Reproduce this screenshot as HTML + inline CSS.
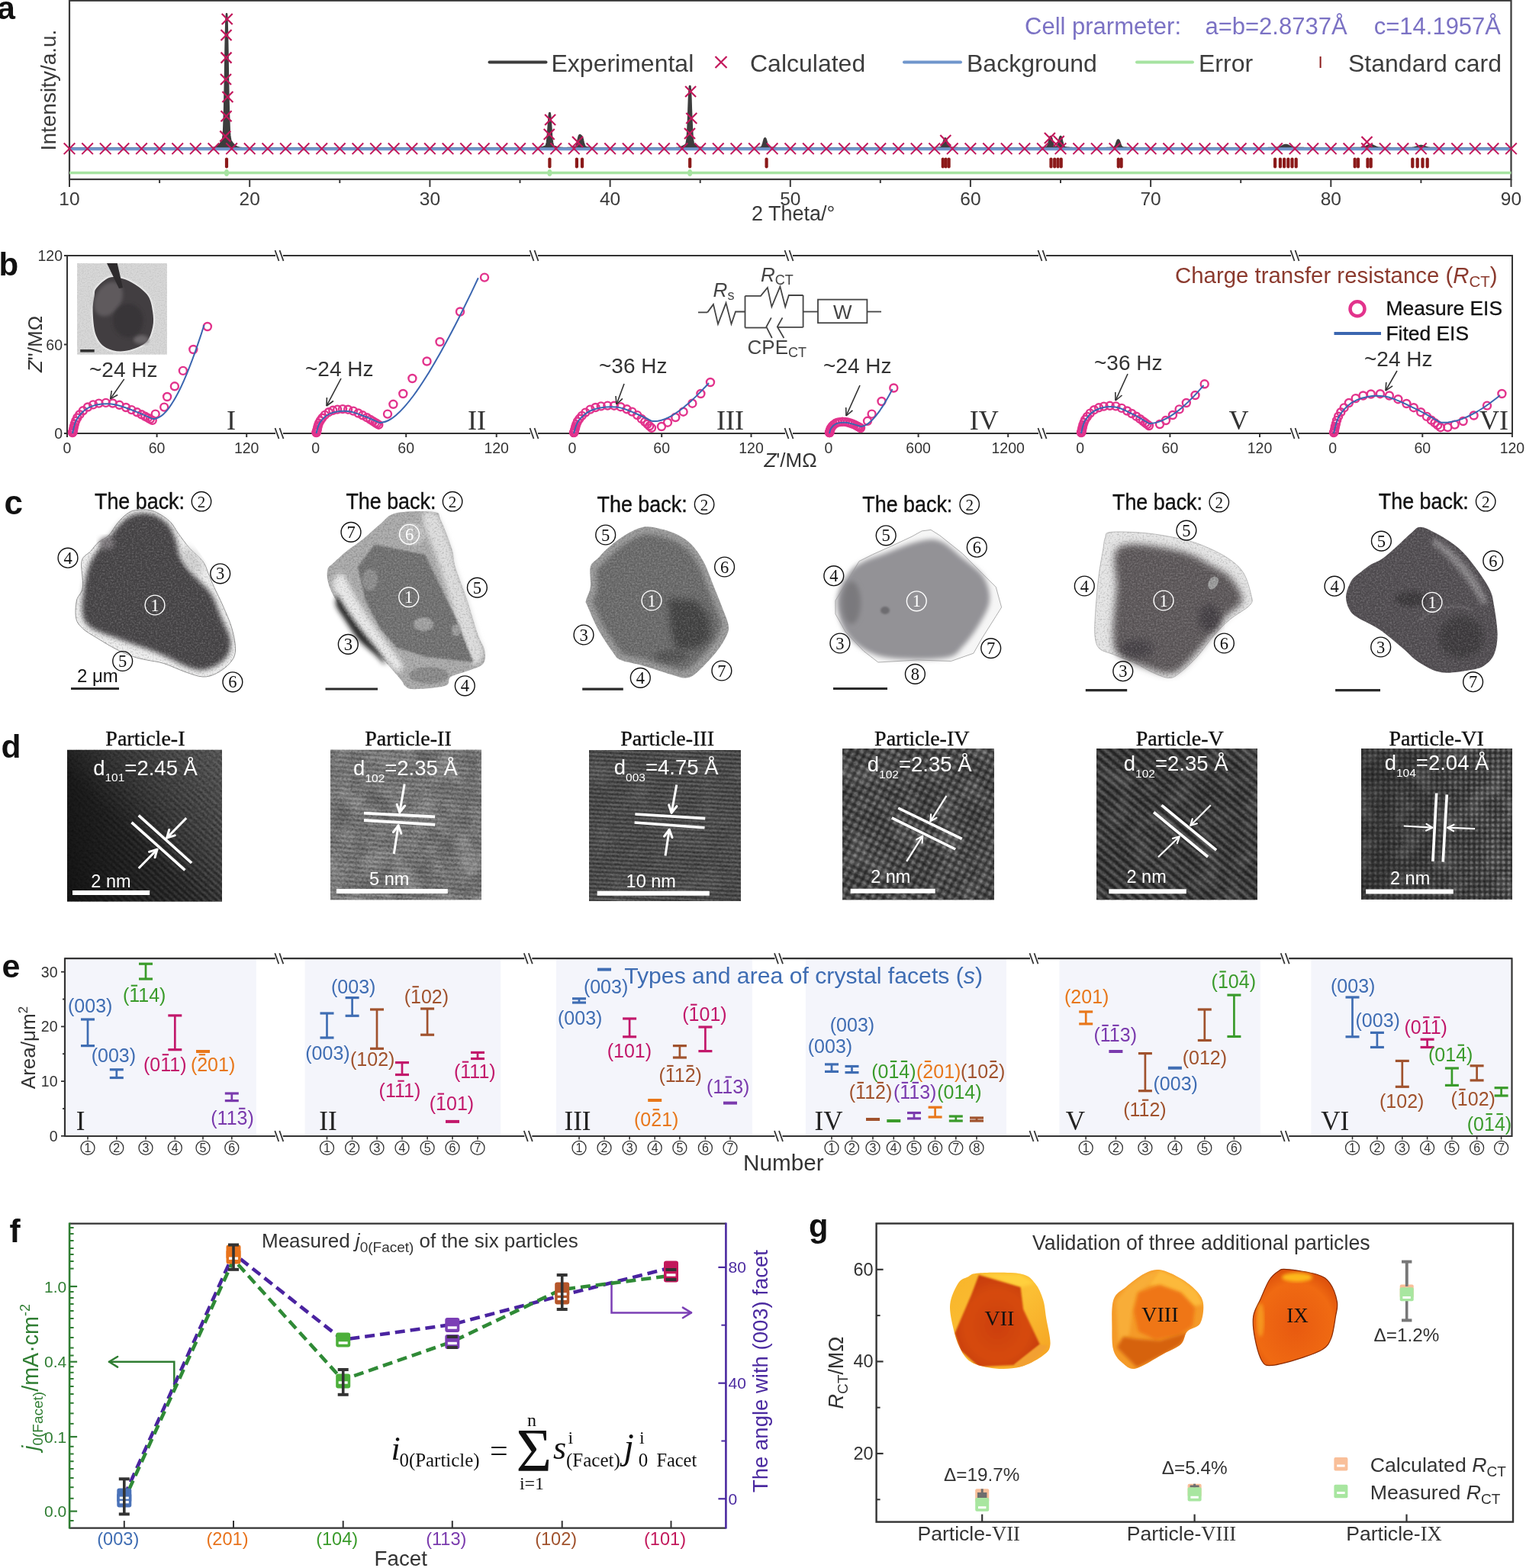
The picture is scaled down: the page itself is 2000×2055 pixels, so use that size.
<!DOCTYPE html>
<html><head><meta charset="utf-8"><title>figure</title>
<style>html,body{margin:0;padding:0;background:#fff}svg{display:block}</style></head>
<body><svg width="2000" height="2055" viewBox="0 0 2000 2055">
<rect width="2000" height="2055" fill="#fff"/>
<text x="-4" y="25" font-family='"Liberation Sans",Arial,sans-serif' font-size="43" fill="#111" font-weight="bold" >a</text>
<rect x="91" y="0.8" width="1889.5" height="234.2" fill="none" stroke="#3a3a3a" stroke-width="2.2" />
<line x1="91" y1="235" x2="91" y2="245" stroke="#3a3a3a" stroke-width="2" />
<line x1="209.1" y1="235" x2="209.1" y2="240" stroke="#3a3a3a" stroke-width="2" />
<line x1="327.2" y1="235" x2="327.2" y2="245" stroke="#3a3a3a" stroke-width="2" />
<line x1="445.3" y1="235" x2="445.3" y2="240" stroke="#3a3a3a" stroke-width="2" />
<line x1="563.4" y1="235" x2="563.4" y2="245" stroke="#3a3a3a" stroke-width="2" />
<line x1="681.5" y1="235" x2="681.5" y2="240" stroke="#3a3a3a" stroke-width="2" />
<line x1="799.6" y1="235" x2="799.6" y2="245" stroke="#3a3a3a" stroke-width="2" />
<line x1="917.7" y1="235" x2="917.7" y2="240" stroke="#3a3a3a" stroke-width="2" />
<line x1="1035.8" y1="235" x2="1035.8" y2="245" stroke="#3a3a3a" stroke-width="2" />
<line x1="1153.8" y1="235" x2="1153.8" y2="240" stroke="#3a3a3a" stroke-width="2" />
<line x1="1271.9" y1="235" x2="1271.9" y2="245" stroke="#3a3a3a" stroke-width="2" />
<line x1="1390" y1="235" x2="1390" y2="240" stroke="#3a3a3a" stroke-width="2" />
<line x1="1508.1" y1="235" x2="1508.1" y2="245" stroke="#3a3a3a" stroke-width="2" />
<line x1="1626.2" y1="235" x2="1626.2" y2="240" stroke="#3a3a3a" stroke-width="2" />
<line x1="1744.3" y1="235" x2="1744.3" y2="245" stroke="#3a3a3a" stroke-width="2" />
<line x1="1862.4" y1="235" x2="1862.4" y2="240" stroke="#3a3a3a" stroke-width="2" />
<line x1="1980.5" y1="235" x2="1980.5" y2="245" stroke="#3a3a3a" stroke-width="2" />
<text x="91" y="269" font-family='"Liberation Sans",Arial,sans-serif' font-size="24.5" fill="#3a3a3a" text-anchor="middle" >10</text>
<text x="327.2" y="269" font-family='"Liberation Sans",Arial,sans-serif' font-size="24.5" fill="#3a3a3a" text-anchor="middle" >20</text>
<text x="563.4" y="269" font-family='"Liberation Sans",Arial,sans-serif' font-size="24.5" fill="#3a3a3a" text-anchor="middle" >30</text>
<text x="799.6" y="269" font-family='"Liberation Sans",Arial,sans-serif' font-size="24.5" fill="#3a3a3a" text-anchor="middle" >40</text>
<text x="1035.8" y="269" font-family='"Liberation Sans",Arial,sans-serif' font-size="24.5" fill="#3a3a3a" text-anchor="middle" >50</text>
<text x="1271.9" y="269" font-family='"Liberation Sans",Arial,sans-serif' font-size="24.5" fill="#3a3a3a" text-anchor="middle" >60</text>
<text x="1508.1" y="269" font-family='"Liberation Sans",Arial,sans-serif' font-size="24.5" fill="#3a3a3a" text-anchor="middle" >70</text>
<text x="1744.3" y="269" font-family='"Liberation Sans",Arial,sans-serif' font-size="24.5" fill="#3a3a3a" text-anchor="middle" >80</text>
<text x="1980.5" y="269" font-family='"Liberation Sans",Arial,sans-serif' font-size="24.5" fill="#3a3a3a" text-anchor="middle" >90</text>
<text x="985" y="289" font-family='"Liberation Sans",Arial,sans-serif' font-size="27" fill="#3a3a3a" >2 Theta/°</text>
<text x="0" y="0" font-family='"Liberation Sans",Arial,sans-serif' font-size="28" fill="#3a3a3a" text-anchor="middle" transform="translate(72.5,118) rotate(-90)">Intensity/a.u.</text>
<polygon points="91,194.3 91.5,194.3 91.9,194.3 92.4,194.3 92.9,194.3 93.4,194.3 93.8,194.3 94.3,194.3 94.8,194.3 95.3,194.3 95.7,194.3 96.2,194.3 96.7,194.3 97.1,194.3 97.6,194.3 98.1,194.3 98.6,194.3 99,194.3 99.5,194.3 100,194.3 100.4,194.3 100.9,194.3 101.4,194.3 101.9,194.3 102.3,194.3 102.8,194.3 103.3,194.3 103.8,194.3 104.2,194.3 104.7,194.3 105.2,194.3 105.6,194.3 106.1,194.3 106.6,194.3 107.1,194.3 107.5,194.3 108,194.3 108.5,194.3 109,194.3 109.4,194.3 109.9,194.3 110.4,194.3 110.8,194.3 111.3,194.3 111.8,194.3 112.3,194.3 112.7,194.3 113.2,194.3 113.7,194.3 114.1,194.3 114.6,194.3 115.1,194.3 115.6,194.3 116,194.3 116.5,194.3 117,194.3 117.5,194.3 117.9,194.3 118.4,194.3 118.9,194.3 119.3,194.3 119.8,194.3 120.3,194.3 120.8,194.3 121.2,194.3 121.7,194.3 122.2,194.3 122.6,194.3 123.1,194.3 123.6,194.3 124.1,194.3 124.5,194.3 125,194.3 125.5,194.3 126,194.3 126.4,194.3 126.9,194.3 127.4,194.3 127.8,194.3 128.3,194.3 128.8,194.3 129.3,194.3 129.7,194.3 130.2,194.3 130.7,194.3 131.2,194.3 131.6,194.3 132.1,194.3 132.6,194.3 133,194.3 133.5,194.3 134,194.3 134.5,194.3 134.9,194.3 135.4,194.3 135.9,194.3 136.3,194.3 136.8,194.3 137.3,194.3 137.8,194.3 138.2,194.3 138.7,194.3 139.2,194.3 139.7,194.3 140.1,194.3 140.6,194.3 141.1,194.3 141.5,194.3 142,194.3 142.5,194.3 143,194.3 143.4,194.3 143.9,194.3 144.4,194.3 144.9,194.3 145.3,194.3 145.8,194.3 146.3,194.3 146.7,194.3 147.2,194.3 147.7,194.3 148.2,194.3 148.6,194.3 149.1,194.3 149.6,194.3 150,194.3 150.5,194.3 151,194.3 151.5,194.3 151.9,194.3 152.4,194.3 152.9,194.3 153.4,194.3 153.8,194.3 154.3,194.3 154.8,194.3 155.2,194.3 155.7,194.3 156.2,194.3 156.7,194.3 157.1,194.3 157.6,194.3 158.1,194.3 158.5,194.3 159,194.3 159.5,194.3 160,194.3 160.4,194.3 160.9,194.3 161.4,194.3 161.9,194.3 162.3,194.3 162.8,194.3 163.3,194.3 163.7,194.3 164.2,194.3 164.7,194.3 165.2,194.3 165.6,194.3 166.1,194.3 166.6,194.3 167.1,194.3 167.5,194.3 168,194.3 168.5,194.3 168.9,194.3 169.4,194.3 169.9,194.3 170.4,194.3 170.8,194.3 171.3,194.3 171.8,194.3 172.2,194.3 172.7,194.3 173.2,194.3 173.7,194.3 174.1,194.3 174.6,194.3 175.1,194.3 175.6,194.3 176,194.3 176.5,194.3 177,194.3 177.4,194.3 177.9,194.3 178.4,194.3 178.9,194.3 179.3,194.3 179.8,194.3 180.3,194.3 180.8,194.3 181.2,194.3 181.7,194.3 182.2,194.3 182.6,194.3 183.1,194.3 183.6,194.3 184.1,194.3 184.5,194.3 185,194.3 185.5,194.3 185.9,194.3 186.4,194.3 186.9,194.3 187.4,194.3 187.8,194.3 188.3,194.3 188.8,194.3 189.3,194.3 189.7,194.3 190.2,194.3 190.7,194.3 191.1,194.3 191.6,194.3 192.1,194.3 192.6,194.3 193,194.3 193.5,194.3 194,194.3 194.5,194.3 194.9,194.3 195.4,194.3 195.9,194.3 196.3,194.3 196.8,194.3 197.3,194.3 197.8,194.3 198.2,194.3 198.7,194.3 199.2,194.3 199.6,194.3 200.1,194.3 200.6,194.3 201.1,194.3 201.5,194.3 202,194.3 202.5,194.3 203,194.3 203.4,194.3 203.9,194.3 204.4,194.3 204.8,194.3 205.3,194.3 205.8,194.3 206.3,194.3 206.7,194.3 207.2,194.3 207.7,194.3 208.1,194.3 208.6,194.3 209.1,194.3 209.6,194.3 210,194.3 210.5,194.3 211,194.3 211.5,194.3 211.9,194.3 212.4,194.3 212.9,194.3 213.3,194.3 213.8,194.3 214.3,194.3 214.8,194.3 215.2,194.3 215.7,194.3 216.2,194.3 216.7,194.3 217.1,194.3 217.6,194.3 218.1,194.3 218.5,194.3 219,194.3 219.5,194.3 220,194.3 220.4,194.3 220.9,194.3 221.4,194.3 221.8,194.3 222.3,194.3 222.8,194.3 223.3,194.3 223.7,194.3 224.2,194.3 224.7,194.3 225.2,194.3 225.6,194.3 226.1,194.3 226.6,194.3 227,194.3 227.5,194.3 228,194.3 228.5,194.3 228.9,194.3 229.4,194.3 229.9,194.3 230.4,194.3 230.8,194.3 231.3,194.3 231.8,194.3 232.2,194.3 232.7,194.3 233.2,194.3 233.7,194.3 234.1,194.3 234.6,194.3 235.1,194.3 235.5,194.3 236,194.3 236.5,194.3 237,194.3 237.4,194.3 237.9,194.3 238.4,194.3 238.9,194.3 239.3,194.3 239.8,194.3 240.3,194.3 240.7,194.3 241.2,194.3 241.7,194.3 242.2,194.3 242.6,194.3 243.1,194.3 243.6,194.3 244,194.3 244.5,194.3 245,194.3 245.5,194.3 245.9,194.3 246.4,194.3 246.9,194.3 247.4,194.3 247.8,194.3 248.3,194.3 248.8,194.3 249.2,194.3 249.7,194.3 250.2,194.3 250.7,194.3 251.1,194.3 251.6,194.3 252.1,194.3 252.6,194.3 253,194.3 253.5,194.3 254,194.3 254.4,194.3 254.9,194.3 255.4,194.3 255.9,194.3 256.3,194.3 256.8,194.3 257.3,194.3 257.7,194.3 258.2,194.3 258.7,194.3 259.2,194.3 259.6,194.3 260.1,194.3 260.6,194.3 261.1,194.3 261.5,194.3 262,194.3 262.5,194.3 262.9,194.3 263.4,194.3 263.9,194.3 264.4,194.3 264.8,194.3 265.3,194.3 265.8,194.3 266.3,194.3 266.7,194.3 267.2,194.3 267.7,194.3 268.1,194.3 268.6,194.3 269.1,194.3 269.6,194.3 270,194.3 270.5,194.3 271,194.3 271.4,194.3 271.9,194.3 272.4,194.3 272.9,194.3 273.3,194.3 273.8,194.3 274.3,194.3 274.8,194.3 275.2,194.2 275.7,194.2 276.2,194.2 276.6,194.2 277.1,194.2 277.6,194.1 278.1,194.1 278.5,194 279,194 279.5,193.9 279.9,193.8 280.4,193.7 280.9,193.6 281.4,193.5 281.8,193.3 282.3,193.2 282.8,193 283.3,192.8 283.7,192.5 284.2,192.3 284.7,192 285.1,191.7 285.6,191.3 286.1,190.9 286.6,190.5 287,190.1 287.5,189.6 288,189.1 288.5,188.6 288.9,188.1 289.4,187.5 289.9,186.9 290.3,186.3 290.8,185.7 291.3,184.8 291.8,183.6 292.2,181.4 292.7,177.7 293.2,171.3 293.6,160.7 294.1,144.9 294.6,123.3 295.1,96.9 295.5,68.7 296,42.9 296.5,24.8 297,18.3 297.4,24.8 297.9,42.9 298.4,68.7 298.8,96.9 299.3,123.3 299.8,144.9 300.3,160.7 300.7,171.3 301.2,177.7 301.7,181.4 302.2,183.6 302.6,184.8 303.1,185.7 303.6,186.3 304,186.9 304.5,187.5 305,188.1 305.5,188.6 305.9,189.1 306.4,189.6 306.9,190.1 307.3,190.5 307.8,190.9 308.3,191.3 308.8,191.7 309.2,192 309.7,192.3 310.2,192.5 310.7,192.8 311.1,193 311.6,193.2 312.1,193.3 312.5,193.5 313,193.6 313.5,193.7 314,193.8 314.4,193.9 314.9,194 315.4,194 315.9,194.1 316.3,194.1 316.8,194.2 317.3,194.2 317.7,194.2 318.2,194.2 318.7,194.2 319.2,194.3 319.6,194.3 320.1,194.3 320.6,194.3 321,194.3 321.5,194.3 322,194.3 322.5,194.3 322.9,194.3 323.4,194.3 323.9,194.3 324.4,194.3 324.8,194.3 325.3,194.3 325.8,194.3 326.2,194.3 326.7,194.3 327.2,194.3 327.7,194.3 328.1,194.3 328.6,194.3 329.1,194.3 329.5,194.3 330,194.3 330.5,194.3 331,194.3 331.4,194.3 331.9,194.3 332.4,194.3 332.9,194.3 333.3,194.3 333.8,194.3 334.3,194.3 334.7,194.3 335.2,194.3 335.7,194.3 336.2,194.3 336.6,194.3 337.1,194.3 337.6,194.3 338.1,194.3 338.5,194.3 339,194.3 339.5,194.3 339.9,194.3 340.4,194.3 340.9,194.3 341.4,194.3 341.8,194.3 342.3,194.3 342.8,194.3 343.2,194.3 343.7,194.3 344.2,194.3 344.7,194.3 345.1,194.3 345.6,194.3 346.1,194.3 346.6,194.3 347,194.3 347.5,194.3 348,194.3 348.4,194.3 348.9,194.3 349.4,194.3 349.9,194.3 350.3,194.3 350.8,194.3 351.3,194.3 351.8,194.3 352.2,194.3 352.7,194.3 353.2,194.3 353.6,194.3 354.1,194.3 354.6,194.3 355.1,194.3 355.5,194.3 356,194.3 356.5,194.3 356.9,194.3 357.4,194.3 357.9,194.3 358.4,194.3 358.8,194.3 359.3,194.3 359.8,194.3 360.3,194.3 360.7,194.3 361.2,194.3 361.7,194.3 362.1,194.3 362.6,194.3 363.1,194.3 363.6,194.3 364,194.3 364.5,194.3 365,194.3 365.4,194.3 365.9,194.3 366.4,194.3 366.9,194.3 367.3,194.3 367.8,194.3 368.3,194.3 368.8,194.3 369.2,194.3 369.7,194.3 370.2,194.3 370.6,194.3 371.1,194.3 371.6,194.3 372.1,194.3 372.5,194.3 373,194.3 373.5,194.3 374,194.3 374.4,194.3 374.9,194.3 375.4,194.3 375.8,194.3 376.3,194.3 376.8,194.3 377.3,194.3 377.7,194.3 378.2,194.3 378.7,194.3 379.1,194.3 379.6,194.3 380.1,194.3 380.6,194.3 381,194.3 381.5,194.3 382,194.3 382.5,194.3 382.9,194.3 383.4,194.3 383.9,194.3 384.3,194.3 384.8,194.3 385.3,194.3 385.8,194.3 386.2,194.3 386.7,194.3 387.2,194.3 387.7,194.3 388.1,194.3 388.6,194.3 389.1,194.3 389.5,194.3 390,194.3 390.5,194.3 391,194.3 391.4,194.3 391.9,194.3 392.4,194.3 392.8,194.3 393.3,194.3 393.8,194.3 394.3,194.3 394.7,194.3 395.2,194.3 395.7,194.3 396.2,194.3 396.6,194.3 397.1,194.3 397.6,194.3 398,194.3 398.5,194.3 399,194.3 399.5,194.3 399.9,194.3 400.4,194.3 400.9,194.3 401.4,194.3 401.8,194.3 402.3,194.3 402.8,194.3 403.2,194.3 403.7,194.3 404.2,194.3 404.7,194.3 405.1,194.3 405.6,194.3 406.1,194.3 406.5,194.3 407,194.3 407.5,194.3 408,194.3 408.4,194.3 408.9,194.3 409.4,194.3 409.9,194.3 410.3,194.3 410.8,194.3 411.3,194.3 411.7,194.3 412.2,194.3 412.7,194.3 413.2,194.3 413.6,194.3 414.1,194.3 414.6,194.3 415,194.3 415.5,194.3 416,194.3 416.5,194.3 416.9,194.3 417.4,194.3 417.9,194.3 418.4,194.3 418.8,194.3 419.3,194.3 419.8,194.3 420.2,194.3 420.7,194.3 421.2,194.3 421.7,194.3 422.1,194.3 422.6,194.3 423.1,194.3 423.6,194.3 424,194.3 424.5,194.3 425,194.3 425.4,194.3 425.9,194.3 426.4,194.3 426.9,194.3 427.3,194.3 427.8,194.3 428.3,194.3 428.7,194.3 429.2,194.3 429.7,194.3 430.2,194.3 430.6,194.3 431.1,194.3 431.6,194.3 432.1,194.3 432.5,194.3 433,194.3 433.5,194.3 433.9,194.3 434.4,194.3 434.9,194.3 435.4,194.3 435.8,194.3 436.3,194.3 436.8,194.3 437.3,194.3 437.7,194.3 438.2,194.3 438.7,194.3 439.1,194.3 439.6,194.3 440.1,194.3 440.6,194.3 441,194.3 441.5,194.3 442,194.3 442.4,194.3 442.9,194.3 443.4,194.3 443.9,194.3 444.3,194.3 444.8,194.3 445.3,194.3 445.8,194.3 446.2,194.3 446.7,194.3 447.2,194.3 447.6,194.3 448.1,194.3 448.6,194.3 449.1,194.3 449.5,194.3 450,194.3 450.5,194.3 450.9,194.3 451.4,194.3 451.9,194.3 452.4,194.3 452.8,194.3 453.3,194.3 453.8,194.3 454.3,194.3 454.7,194.3 455.2,194.3 455.7,194.3 456.1,194.3 456.6,194.3 457.1,194.3 457.6,194.3 458,194.3 458.5,194.3 459,194.3 459.5,194.3 459.9,194.3 460.4,194.3 460.9,194.3 461.3,194.3 461.8,194.3 462.3,194.3 462.8,194.3 463.2,194.3 463.7,194.3 464.2,194.3 464.6,194.3 465.1,194.3 465.6,194.3 466.1,194.3 466.5,194.3 467,194.3 467.5,194.3 468,194.3 468.4,194.3 468.9,194.3 469.4,194.3 469.8,194.3 470.3,194.3 470.8,194.3 471.3,194.3 471.7,194.3 472.2,194.3 472.7,194.3 473.2,194.3 473.6,194.3 474.1,194.3 474.6,194.3 475,194.3 475.5,194.3 476,194.3 476.5,194.3 476.9,194.3 477.4,194.3 477.9,194.3 478.3,194.3 478.8,194.3 479.3,194.3 479.8,194.3 480.2,194.3 480.7,194.3 481.2,194.3 481.7,194.3 482.1,194.3 482.6,194.3 483.1,194.3 483.5,194.3 484,194.3 484.5,194.3 485,194.3 485.4,194.3 485.9,194.3 486.4,194.3 486.9,194.3 487.3,194.3 487.8,194.3 488.3,194.3 488.7,194.3 489.2,194.3 489.7,194.3 490.2,194.3 490.6,194.3 491.1,194.3 491.6,194.3 492,194.3 492.5,194.3 493,194.3 493.5,194.3 493.9,194.3 494.4,194.3 494.9,194.3 495.4,194.3 495.8,194.3 496.3,194.3 496.8,194.3 497.2,194.3 497.7,194.3 498.2,194.3 498.7,194.3 499.1,194.3 499.6,194.3 500.1,194.3 500.5,194.3 501,194.3 501.5,194.3 502,194.3 502.4,194.3 502.9,194.3 503.4,194.3 503.9,194.3 504.3,194.3 504.8,194.3 505.3,194.3 505.7,194.3 506.2,194.3 506.7,194.3 507.2,194.3 507.6,194.3 508.1,194.3 508.6,194.3 509.1,194.3 509.5,194.3 510,194.3 510.5,194.3 510.9,194.3 511.4,194.3 511.9,194.3 512.4,194.3 512.8,194.3 513.3,194.3 513.8,194.3 514.2,194.3 514.7,194.3 515.2,194.3 515.7,194.3 516.1,194.3 516.6,194.3 517.1,194.3 517.6,194.3 518,194.3 518.5,194.3 519,194.3 519.4,194.3 519.9,194.3 520.4,194.3 520.9,194.3 521.3,194.3 521.8,194.3 522.3,194.3 522.8,194.3 523.2,194.3 523.7,194.3 524.2,194.3 524.6,194.3 525.1,194.3 525.6,194.3 526.1,194.3 526.5,194.3 527,194.3 527.5,194.3 527.9,194.3 528.4,194.3 528.9,194.3 529.4,194.3 529.8,194.3 530.3,194.3 530.8,194.3 531.3,194.3 531.7,194.3 532.2,194.3 532.7,194.3 533.1,194.3 533.6,194.3 534.1,194.3 534.6,194.3 535,194.3 535.5,194.3 536,194.3 536.4,194.3 536.9,194.3 537.4,194.3 537.9,194.3 538.3,194.3 538.8,194.3 539.3,194.3 539.8,194.3 540.2,194.3 540.7,194.3 541.2,194.3 541.6,194.3 542.1,194.3 542.6,194.3 543.1,194.3 543.5,194.3 544,194.3 544.5,194.3 545,194.3 545.4,194.3 545.9,194.3 546.4,194.3 546.8,194.3 547.3,194.3 547.8,194.3 548.3,194.3 548.7,194.3 549.2,194.3 549.7,194.3 550.1,194.3 550.6,194.3 551.1,194.3 551.6,194.3 552,194.3 552.5,194.3 553,194.3 553.5,194.3 553.9,194.3 554.4,194.3 554.9,194.3 555.3,194.3 555.8,194.3 556.3,194.3 556.8,194.3 557.2,194.3 557.7,194.3 558.2,194.3 558.7,194.3 559.1,194.3 559.6,194.3 560.1,194.3 560.5,194.3 561,194.3 561.5,194.3 562,194.3 562.4,194.3 562.9,194.3 563.4,194.3 563.8,194.3 564.3,194.3 564.8,194.3 565.3,194.3 565.7,194.3 566.2,194.3 566.7,194.3 567.2,194.3 567.6,194.3 568.1,194.3 568.6,194.3 569,194.3 569.5,194.3 570,194.3 570.5,194.3 570.9,194.3 571.4,194.3 571.9,194.3 572.4,194.3 572.8,194.3 573.3,194.3 573.8,194.3 574.2,194.3 574.7,194.3 575.2,194.3 575.7,194.3 576.1,194.3 576.6,194.3 577.1,194.3 577.5,194.3 578,194.3 578.5,194.3 579,194.3 579.4,194.3 579.9,194.3 580.4,194.3 580.9,194.3 581.3,194.3 581.8,194.3 582.3,194.3 582.7,194.3 583.2,194.3 583.7,194.3 584.2,194.3 584.6,194.3 585.1,194.3 585.6,194.3 586,194.3 586.5,194.3 587,194.3 587.5,194.3 587.9,194.3 588.4,194.3 588.9,194.3 589.4,194.3 589.8,194.3 590.3,194.3 590.8,194.3 591.2,194.3 591.7,194.3 592.2,194.3 592.7,194.3 593.1,194.3 593.6,194.3 594.1,194.3 594.6,194.3 595,194.3 595.5,194.3 596,194.3 596.4,194.3 596.9,194.3 597.4,194.3 597.9,194.3 598.3,194.3 598.8,194.3 599.3,194.3 599.7,194.3 600.2,194.3 600.7,194.3 601.2,194.3 601.6,194.3 602.1,194.3 602.6,194.3 603.1,194.3 603.5,194.3 604,194.3 604.5,194.3 604.9,194.3 605.4,194.3 605.9,194.3 606.4,194.3 606.8,194.3 607.3,194.3 607.8,194.3 608.3,194.3 608.7,194.3 609.2,194.3 609.7,194.3 610.1,194.3 610.6,194.3 611.1,194.3 611.6,194.3 612,194.3 612.5,194.3 613,194.3 613.4,194.3 613.9,194.3 614.4,194.3 614.9,194.3 615.3,194.3 615.8,194.3 616.3,194.3 616.8,194.3 617.2,194.3 617.7,194.3 618.2,194.3 618.6,194.3 619.1,194.3 619.6,194.3 620.1,194.3 620.5,194.3 621,194.3 621.5,194.3 621.9,194.3 622.4,194.3 622.9,194.3 623.4,194.3 623.8,194.3 624.3,194.3 624.8,194.3 625.3,194.3 625.7,194.3 626.2,194.3 626.7,194.3 627.1,194.3 627.6,194.3 628.1,194.3 628.6,194.3 629,194.3 629.5,194.3 630,194.3 630.5,194.3 630.9,194.3 631.4,194.3 631.9,194.3 632.3,194.3 632.8,194.3 633.3,194.3 633.8,194.3 634.2,194.3 634.7,194.3 635.2,194.3 635.6,194.3 636.1,194.3 636.6,194.3 637.1,194.3 637.5,194.3 638,194.3 638.5,194.3 639,194.3 639.4,194.3 639.9,194.3 640.4,194.3 640.8,194.3 641.3,194.3 641.8,194.3 642.3,194.3 642.7,194.3 643.2,194.3 643.7,194.3 644.2,194.3 644.6,194.3 645.1,194.3 645.6,194.3 646,194.3 646.5,194.3 647,194.3 647.5,194.3 647.9,194.3 648.4,194.3 648.9,194.3 649.3,194.3 649.8,194.3 650.3,194.3 650.8,194.3 651.2,194.3 651.7,194.3 652.2,194.3 652.7,194.3 653.1,194.3 653.6,194.3 654.1,194.3 654.5,194.3 655,194.3 655.5,194.3 656,194.3 656.4,194.3 656.9,194.3 657.4,194.3 657.8,194.3 658.3,194.3 658.8,194.3 659.3,194.3 659.7,194.3 660.2,194.3 660.7,194.3 661.2,194.3 661.6,194.3 662.1,194.3 662.6,194.3 663,194.3 663.5,194.3 664,194.3 664.5,194.3 664.9,194.3 665.4,194.3 665.9,194.3 666.4,194.3 666.8,194.3 667.3,194.3 667.8,194.3 668.2,194.3 668.7,194.3 669.2,194.3 669.7,194.3 670.1,194.3 670.6,194.3 671.1,194.3 671.5,194.3 672,194.3 672.5,194.3 673,194.3 673.4,194.3 673.9,194.3 674.4,194.3 674.9,194.3 675.3,194.3 675.8,194.3 676.3,194.3 676.7,194.3 677.2,194.3 677.7,194.3 678.2,194.3 678.6,194.3 679.1,194.3 679.6,194.3 680.1,194.3 680.5,194.3 681,194.3 681.5,194.3 681.9,194.3 682.4,194.3 682.9,194.3 683.4,194.3 683.8,194.3 684.3,194.3 684.8,194.3 685.2,194.3 685.7,194.3 686.2,194.3 686.7,194.3 687.1,194.3 687.6,194.3 688.1,194.3 688.6,194.3 689,194.3 689.5,194.3 690,194.3 690.4,194.3 690.9,194.3 691.4,194.3 691.9,194.3 692.3,194.3 692.8,194.3 693.3,194.3 693.8,194.3 694.2,194.3 694.7,194.3 695.2,194.3 695.6,194.3 696.1,194.3 696.6,194.3 697.1,194.3 697.5,194.3 698,194.3 698.5,194.3 698.9,194.3 699.4,194.3 699.9,194.3 700.4,194.3 700.8,194.3 701.3,194.2 701.8,194.2 702.3,194.2 702.7,194.2 703.2,194.2 703.7,194.2 704.1,194.1 704.6,194.1 705.1,194.1 705.6,194 706,194 706.5,193.9 707,193.9 707.4,193.8 707.9,193.7 708.4,193.6 708.9,193.6 709.3,193.5 709.8,193.4 710.3,193.2 710.8,193.1 711.2,193 711.7,192.9 712.2,192.7 712.6,192.6 713.1,192.4 713.6,192.3 714.1,192.1 714.5,191.9 715,191.7 715.5,191.2 716,190.5 716.4,189.2 716.9,187 717.4,183.5 717.8,178.6 718.3,172.2 718.8,164.9 719.3,157.6 719.7,151.7 720.2,148.3 720.7,148.3 721.1,151.7 721.6,157.6 722.1,164.9 722.6,172.2 723,178.6 723.5,183.5 724,187 724.5,189.2 724.9,190.5 725.4,191.2 725.9,191.7 726.3,191.9 726.8,192.1 727.3,192.3 727.8,192.4 728.2,192.6 728.7,192.7 729.2,192.9 729.7,193 730.1,193.1 730.6,193.2 731.1,193.4 731.5,193.5 732,193.6 732.5,193.6 733,193.7 733.4,193.8 733.9,193.9 734.4,193.9 734.8,194 735.3,194 735.8,194.1 736.3,194.1 736.7,194.1 737.2,194.1 737.7,194.2 738.2,194.2 738.6,194.2 739.1,194.2 739.6,194.2 740,194.2 740.5,194.2 741,194.2 741.5,194.2 741.9,194.2 742.4,194.2 742.9,194.2 743.3,194.2 743.8,194.1 744.3,194.1 744.8,194.1 745.2,194.1 745.7,194.1 746.2,194 746.7,194 747.1,194 747.6,193.9 748.1,193.9 748.5,193.8 749,193.8 749.5,193.7 750,193.7 750.4,193.6 750.9,193.6 751.4,193.5 751.9,193.4 752.3,193.3 752.8,193.3 753.3,193.1 753.7,193 754.2,192.8 754.7,192.4 755.2,191.8 755.6,191 756.1,189.8 756.6,188.2 757,186.3 757.5,184.1 758,181.9 758.5,179.9 758.9,178.4 759.4,177.5 759.9,177.1 760.4,177.2 760.8,177.5 761.3,177.9 761.8,178.3 762.2,178.8 762.7,179.6 763.2,180.7 763.7,182.3 764.1,184.2 764.6,186.3 765.1,188.2 765.6,189.8 766,191 766.5,191.9 767,192.4 767.4,192.8 767.9,193 768.4,193.1 768.9,193.2 769.3,193.3 769.8,193.4 770.3,193.5 770.7,193.5 771.2,193.6 771.7,193.7 772.2,193.7 772.6,193.8 773.1,193.8 773.6,193.9 774.1,193.9 774.5,194 775,194 775.5,194 775.9,194.1 776.4,194.1 776.9,194.1 777.4,194.2 777.8,194.2 778.3,194.2 778.8,194.2 779.3,194.2 779.7,194.2 780.2,194.2 780.7,194.3 781.1,194.3 781.6,194.3 782.1,194.3 782.6,194.3 783,194.3 783.5,194.3 784,194.3 784.4,194.3 784.9,194.3 785.4,194.3 785.9,194.3 786.3,194.3 786.8,194.3 787.3,194.3 787.8,194.3 788.2,194.3 788.7,194.3 789.2,194.3 789.6,194.3 790.1,194.3 790.6,194.3 791.1,194.3 791.5,194.3 792,194.3 792.5,194.3 792.9,194.3 793.4,194.3 793.9,194.3 794.4,194.3 794.8,194.3 795.3,194.3 795.8,194.3 796.3,194.3 796.7,194.3 797.2,194.3 797.7,194.3 798.1,194.3 798.6,194.3 799.1,194.3 799.6,194.3 800,194.3 800.5,194.3 801,194.3 801.5,194.3 801.9,194.3 802.4,194.3 802.9,194.3 803.3,194.3 803.8,194.3 804.3,194.3 804.8,194.3 805.2,194.3 805.7,194.3 806.2,194.3 806.6,194.3 807.1,194.3 807.6,194.3 808.1,194.3 808.5,194.3 809,194.3 809.5,194.3 810,194.3 810.4,194.3 810.9,194.3 811.4,194.3 811.8,194.3 812.3,194.3 812.8,194.3 813.3,194.3 813.7,194.3 814.2,194.3 814.7,194.3 815.2,194.3 815.6,194.3 816.1,194.3 816.6,194.3 817,194.3 817.5,194.3 818,194.3 818.5,194.3 818.9,194.3 819.4,194.3 819.9,194.3 820.3,194.3 820.8,194.3 821.3,194.3 821.8,194.3 822.2,194.3 822.7,194.3 823.2,194.3 823.7,194.3 824.1,194.3 824.6,194.3 825.1,194.3 825.5,194.3 826,194.3 826.5,194.3 827,194.3 827.4,194.3 827.9,194.3 828.4,194.3 828.8,194.3 829.3,194.3 829.8,194.3 830.3,194.3 830.7,194.3 831.2,194.3 831.7,194.3 832.2,194.3 832.6,194.3 833.1,194.3 833.6,194.3 834,194.3 834.5,194.3 835,194.3 835.5,194.3 835.9,194.3 836.4,194.3 836.9,194.3 837.4,194.3 837.8,194.3 838.3,194.3 838.8,194.3 839.2,194.3 839.7,194.3 840.2,194.3 840.7,194.3 841.1,194.3 841.6,194.3 842.1,194.3 842.5,194.3 843,194.3 843.5,194.3 844,194.3 844.4,194.3 844.9,194.3 845.4,194.3 845.9,194.3 846.3,194.3 846.8,194.3 847.3,194.3 847.7,194.3 848.2,194.3 848.7,194.3 849.2,194.3 849.6,194.3 850.1,194.3 850.6,194.3 851.1,194.3 851.5,194.3 852,194.3 852.5,194.3 852.9,194.3 853.4,194.3 853.9,194.3 854.4,194.3 854.8,194.3 855.3,194.3 855.8,194.3 856.2,194.3 856.7,194.3 857.2,194.3 857.7,194.3 858.1,194.3 858.6,194.3 859.1,194.3 859.6,194.3 860,194.3 860.5,194.3 861,194.3 861.4,194.3 861.9,194.3 862.4,194.3 862.9,194.3 863.3,194.3 863.8,194.3 864.3,194.3 864.8,194.3 865.2,194.3 865.7,194.3 866.2,194.3 866.6,194.3 867.1,194.3 867.6,194.3 868.1,194.3 868.5,194.3 869,194.3 869.5,194.3 869.9,194.3 870.4,194.3 870.9,194.3 871.4,194.3 871.8,194.3 872.3,194.3 872.8,194.3 873.3,194.3 873.7,194.3 874.2,194.3 874.7,194.3 875.1,194.3 875.6,194.3 876.1,194.3 876.6,194.3 877,194.3 877.5,194.3 878,194.3 878.4,194.3 878.9,194.3 879.4,194.3 879.9,194.3 880.3,194.3 880.8,194.3 881.3,194.3 881.8,194.3 882.2,194.3 882.7,194.3 883.2,194.3 883.6,194.3 884.1,194.2 884.6,194.2 885.1,194.2 885.5,194.2 886,194.2 886.5,194.1 887,194.1 887.4,194.1 887.9,194 888.4,194 888.8,193.9 889.3,193.8 889.8,193.7 890.3,193.6 890.7,193.5 891.2,193.4 891.7,193.3 892.1,193.1 892.6,193 893.1,192.8 893.6,192.6 894,192.4 894.5,192.2 895,192 895.5,191.8 895.9,191.5 896.4,191.3 896.9,191 897.3,190.7 897.8,190.4 898.3,190.1 898.8,189.6 899.2,188.9 899.7,187.6 900.2,185.3 900.7,181.4 901.1,175.3 901.6,166.6 902.1,155.3 902.5,142.3 903,129.4 903.5,118.9 904,113 904.4,113 904.9,118.9 905.4,129.4 905.8,142.3 906.3,155.3 906.8,166.6 907.3,175.3 907.7,181.4 908.2,185.3 908.7,187.6 909.2,188.9 909.6,189.6 910.1,190.1 910.6,190.4 911,190.7 911.5,191 912,191.3 912.5,191.5 912.9,191.8 913.4,192 913.9,192.2 914.3,192.4 914.8,192.6 915.3,192.8 915.8,193 916.2,193.1 916.7,193.3 917.2,193.4 917.7,193.5 918.1,193.6 918.6,193.7 919.1,193.8 919.5,193.9 920,194 920.5,194 921,194.1 921.4,194.1 921.9,194.1 922.4,194.2 922.9,194.2 923.3,194.2 923.8,194.2 924.3,194.2 924.7,194.3 925.2,194.3 925.7,194.3 926.2,194.3 926.6,194.3 927.1,194.3 927.6,194.3 928,194.3 928.5,194.3 929,194.3 929.5,194.3 929.9,194.3 930.4,194.3 930.9,194.3 931.4,194.3 931.8,194.3 932.3,194.3 932.8,194.3 933.2,194.3 933.7,194.3 934.2,194.3 934.7,194.3 935.1,194.3 935.6,194.3 936.1,194.3 936.6,194.3 937,194.3 937.5,194.3 938,194.3 938.4,194.3 938.9,194.3 939.4,194.3 939.9,194.3 940.3,194.3 940.8,194.3 941.3,194.3 941.7,194.3 942.2,194.3 942.7,194.3 943.2,194.3 943.6,194.3 944.1,194.3 944.6,194.3 945.1,194.3 945.5,194.3 946,194.3 946.5,194.3 946.9,194.3 947.4,194.3 947.9,194.3 948.4,194.3 948.8,194.3 949.3,194.3 949.8,194.3 950.3,194.3 950.7,194.3 951.2,194.3 951.7,194.3 952.1,194.3 952.6,194.3 953.1,194.3 953.6,194.3 954,194.3 954.5,194.3 955,194.3 955.4,194.3 955.9,194.3 956.4,194.3 956.9,194.3 957.3,194.3 957.8,194.3 958.3,194.3 958.8,194.3 959.2,194.3 959.7,194.3 960.2,194.3 960.6,194.3 961.1,194.3 961.6,194.3 962.1,194.3 962.5,194.3 963,194.3 963.5,194.3 963.9,194.3 964.4,194.3 964.9,194.3 965.4,194.3 965.8,194.3 966.3,194.3 966.8,194.3 967.3,194.3 967.7,194.3 968.2,194.3 968.7,194.3 969.1,194.3 969.6,194.3 970.1,194.3 970.6,194.3 971,194.3 971.5,194.3 972,194.3 972.5,194.3 972.9,194.3 973.4,194.3 973.9,194.3 974.3,194.3 974.8,194.3 975.3,194.3 975.8,194.3 976.2,194.3 976.7,194.3 977.2,194.3 977.6,194.3 978.1,194.3 978.6,194.3 979.1,194.3 979.5,194.3 980,194.3 980.5,194.3 981,194.3 981.4,194.3 981.9,194.3 982.4,194.3 982.8,194.3 983.3,194.3 983.8,194.3 984.3,194.3 984.7,194.2 985.2,194.2 985.7,194.2 986.2,194.2 986.6,194.2 987.1,194.2 987.6,194.2 988,194.2 988.5,194.1 989,194.1 989.5,194.1 989.9,194.1 990.4,194 990.9,194 991.3,194 991.8,194 992.3,193.9 992.8,193.9 993.2,193.9 993.7,193.8 994.2,193.8 994.7,193.8 995.1,193.7 995.6,193.7 996.1,193.6 996.5,193.5 997,193.4 997.5,193.3 998,193 998.4,192.5 998.9,191.8 999.4,190.8 999.8,189.5 1000.3,187.9 1000.8,186.1 1001.3,184.3 1001.7,182.8 1002.2,181.7 1002.7,181.3 1003.2,181.7 1003.6,182.8 1004.1,184.3 1004.6,186.1 1005,187.9 1005.5,189.5 1006,190.8 1006.5,191.8 1006.9,192.5 1007.4,193 1007.9,193.3 1008.4,193.4 1008.8,193.5 1009.3,193.6 1009.8,193.7 1010.2,193.7 1010.7,193.8 1011.2,193.8 1011.7,193.8 1012.1,193.9 1012.6,193.9 1013.1,193.9 1013.5,194 1014,194 1014.5,194 1015,194 1015.4,194.1 1015.9,194.1 1016.4,194.1 1016.9,194.1 1017.3,194.2 1017.8,194.2 1018.3,194.2 1018.7,194.2 1019.2,194.2 1019.7,194.2 1020.2,194.2 1020.6,194.2 1021.1,194.3 1021.6,194.3 1022.1,194.3 1022.5,194.3 1023,194.3 1023.5,194.3 1023.9,194.3 1024.4,194.3 1024.9,194.3 1025.4,194.3 1025.8,194.3 1026.3,194.3 1026.8,194.3 1027.2,194.3 1027.7,194.3 1028.2,194.3 1028.7,194.3 1029.1,194.3 1029.6,194.3 1030.1,194.3 1030.6,194.3 1031,194.3 1031.5,194.3 1032,194.3 1032.4,194.3 1032.9,194.3 1033.4,194.3 1033.9,194.3 1034.3,194.3 1034.8,194.3 1035.3,194.3 1035.8,194.3 1036.2,194.3 1036.7,194.3 1037.2,194.3 1037.6,194.3 1038.1,194.3 1038.6,194.3 1039.1,194.3 1039.5,194.3 1040,194.3 1040.5,194.3 1040.9,194.3 1041.4,194.3 1041.9,194.3 1042.4,194.3 1042.8,194.3 1043.3,194.3 1043.8,194.3 1044.3,194.3 1044.7,194.3 1045.2,194.3 1045.7,194.3 1046.1,194.3 1046.6,194.3 1047.1,194.3 1047.6,194.3 1048,194.3 1048.5,194.3 1049,194.3 1049.4,194.3 1049.9,194.3 1050.4,194.3 1050.9,194.3 1051.3,194.3 1051.8,194.3 1052.3,194.3 1052.8,194.3 1053.2,194.3 1053.7,194.3 1054.2,194.3 1054.6,194.3 1055.1,194.3 1055.6,194.3 1056.1,194.3 1056.5,194.3 1057,194.3 1057.5,194.3 1058,194.3 1058.4,194.3 1058.9,194.3 1059.4,194.3 1059.8,194.3 1060.3,194.3 1060.8,194.3 1061.3,194.3 1061.7,194.3 1062.2,194.3 1062.7,194.3 1063.1,194.3 1063.6,194.3 1064.1,194.3 1064.6,194.3 1065,194.3 1065.5,194.3 1066,194.3 1066.5,194.3 1066.9,194.3 1067.4,194.3 1067.9,194.3 1068.3,194.3 1068.8,194.3 1069.3,194.3 1069.8,194.3 1070.2,194.3 1070.7,194.3 1071.2,194.3 1071.7,194.3 1072.1,194.3 1072.6,194.3 1073.1,194.3 1073.5,194.3 1074,194.3 1074.5,194.3 1075,194.3 1075.4,194.3 1075.9,194.3 1076.4,194.3 1076.8,194.3 1077.3,194.3 1077.8,194.3 1078.3,194.3 1078.7,194.3 1079.2,194.3 1079.7,194.3 1080.2,194.3 1080.6,194.3 1081.1,194.3 1081.6,194.3 1082,194.3 1082.5,194.3 1083,194.3 1083.5,194.3 1083.9,194.3 1084.4,194.3 1084.9,194.3 1085.3,194.3 1085.8,194.3 1086.3,194.3 1086.8,194.3 1087.2,194.3 1087.7,194.3 1088.2,194.3 1088.7,194.3 1089.1,194.3 1089.6,194.3 1090.1,194.3 1090.5,194.3 1091,194.3 1091.5,194.3 1092,194.3 1092.4,194.3 1092.9,194.3 1093.4,194.3 1093.9,194.3 1094.3,194.3 1094.8,194.3 1095.3,194.3 1095.7,194.3 1096.2,194.3 1096.7,194.3 1097.2,194.3 1097.6,194.3 1098.1,194.3 1098.6,194.3 1099,194.3 1099.5,194.3 1100,194.3 1100.5,194.3 1100.9,194.3 1101.4,194.3 1101.9,194.3 1102.4,194.3 1102.8,194.3 1103.3,194.3 1103.8,194.3 1104.2,194.3 1104.7,194.3 1105.2,194.3 1105.7,194.3 1106.1,194.3 1106.6,194.3 1107.1,194.3 1107.6,194.3 1108,194.3 1108.5,194.3 1109,194.3 1109.4,194.3 1109.9,194.3 1110.4,194.3 1110.9,194.3 1111.3,194.3 1111.8,194.3 1112.3,194.3 1112.7,194.3 1113.2,194.3 1113.7,194.3 1114.2,194.3 1114.6,194.3 1115.1,194.3 1115.6,194.3 1116.1,194.3 1116.5,194.3 1117,194.3 1117.5,194.3 1117.9,194.3 1118.4,194.3 1118.9,194.3 1119.4,194.3 1119.8,194.3 1120.3,194.3 1120.8,194.3 1121.2,194.3 1121.7,194.3 1122.2,194.3 1122.7,194.3 1123.1,194.3 1123.6,194.3 1124.1,194.3 1124.6,194.3 1125,194.3 1125.5,194.3 1126,194.3 1126.4,194.3 1126.9,194.3 1127.4,194.3 1127.9,194.3 1128.3,194.3 1128.8,194.3 1129.3,194.3 1129.8,194.3 1130.2,194.3 1130.7,194.3 1131.2,194.3 1131.6,194.3 1132.1,194.3 1132.6,194.3 1133.1,194.3 1133.5,194.3 1134,194.3 1134.5,194.3 1134.9,194.3 1135.4,194.3 1135.9,194.3 1136.4,194.3 1136.8,194.3 1137.3,194.3 1137.8,194.3 1138.3,194.3 1138.7,194.3 1139.2,194.3 1139.7,194.3 1140.1,194.3 1140.6,194.3 1141.1,194.3 1141.6,194.3 1142,194.3 1142.5,194.3 1143,194.3 1143.5,194.3 1143.9,194.3 1144.4,194.3 1144.9,194.3 1145.3,194.3 1145.8,194.3 1146.3,194.3 1146.8,194.3 1147.2,194.3 1147.7,194.3 1148.2,194.3 1148.6,194.3 1149.1,194.3 1149.6,194.3 1150.1,194.3 1150.5,194.3 1151,194.3 1151.5,194.3 1152,194.3 1152.4,194.3 1152.9,194.3 1153.4,194.3 1153.8,194.3 1154.3,194.3 1154.8,194.3 1155.3,194.3 1155.7,194.3 1156.2,194.3 1156.7,194.3 1157.2,194.3 1157.6,194.3 1158.1,194.3 1158.6,194.3 1159,194.3 1159.5,194.3 1160,194.3 1160.5,194.3 1160.9,194.3 1161.4,194.3 1161.9,194.3 1162.3,194.3 1162.8,194.3 1163.3,194.3 1163.8,194.3 1164.2,194.3 1164.7,194.3 1165.2,194.3 1165.7,194.3 1166.1,194.3 1166.6,194.3 1167.1,194.3 1167.5,194.3 1168,194.3 1168.5,194.3 1169,194.3 1169.4,194.3 1169.9,194.3 1170.4,194.3 1170.8,194.3 1171.3,194.3 1171.8,194.3 1172.3,194.3 1172.7,194.3 1173.2,194.3 1173.7,194.3 1174.2,194.3 1174.6,194.3 1175.1,194.3 1175.6,194.3 1176,194.3 1176.5,194.3 1177,194.3 1177.5,194.3 1177.9,194.3 1178.4,194.3 1178.9,194.3 1179.4,194.3 1179.8,194.3 1180.3,194.3 1180.8,194.3 1181.2,194.3 1181.7,194.3 1182.2,194.3 1182.7,194.3 1183.1,194.3 1183.6,194.3 1184.1,194.3 1184.5,194.3 1185,194.3 1185.5,194.3 1186,194.3 1186.4,194.3 1186.9,194.3 1187.4,194.3 1187.9,194.3 1188.3,194.3 1188.8,194.3 1189.3,194.3 1189.7,194.3 1190.2,194.3 1190.7,194.3 1191.2,194.3 1191.6,194.3 1192.1,194.3 1192.6,194.3 1193.1,194.3 1193.5,194.3 1194,194.3 1194.5,194.3 1194.9,194.3 1195.4,194.3 1195.9,194.3 1196.4,194.3 1196.8,194.3 1197.3,194.3 1197.8,194.3 1198.2,194.3 1198.7,194.3 1199.2,194.3 1199.7,194.3 1200.1,194.3 1200.6,194.3 1201.1,194.3 1201.6,194.3 1202,194.3 1202.5,194.3 1203,194.3 1203.4,194.3 1203.9,194.3 1204.4,194.3 1204.9,194.3 1205.3,194.3 1205.8,194.3 1206.3,194.3 1206.7,194.3 1207.2,194.3 1207.7,194.3 1208.2,194.3 1208.6,194.3 1209.1,194.3 1209.6,194.3 1210.1,194.3 1210.5,194.3 1211,194.3 1211.5,194.3 1211.9,194.3 1212.4,194.3 1212.9,194.3 1213.4,194.3 1213.8,194.3 1214.3,194.3 1214.8,194.3 1215.3,194.3 1215.7,194.3 1216.2,194.3 1216.7,194.3 1217.1,194.3 1217.6,194.3 1218.1,194.3 1218.6,194.2 1219,194.2 1219.5,194.2 1220,194.2 1220.4,194.2 1220.9,194.2 1221.4,194.2 1221.9,194.2 1222.3,194.2 1222.8,194.1 1223.3,194.1 1223.8,194.1 1224.2,194.1 1224.7,194.1 1225.2,194 1225.6,194 1226.1,194 1226.6,194 1227.1,193.9 1227.5,193.9 1228,193.9 1228.5,193.8 1229,193.8 1229.4,193.8 1229.9,193.7 1230.4,193.7 1230.8,193.7 1231.3,193.6 1231.8,193.6 1232.3,193.5 1232.7,193.4 1233.2,193.2 1233.7,192.9 1234.1,192.5 1234.6,191.8 1235.1,191 1235.6,189.8 1236,188.5 1236.5,186.9 1237,185.3 1237.5,183.7 1237.9,182.5 1238.4,181.6 1238.9,181.3 1239.3,181.6 1239.8,182.5 1240.3,183.7 1240.8,185.3 1241.2,186.9 1241.7,188.5 1242.2,189.8 1242.7,191 1243.1,191.8 1243.6,192.5 1244.1,192.9 1244.5,193.2 1245,193.4 1245.5,193.5 1246,193.6 1246.4,193.6 1246.9,193.7 1247.4,193.7 1247.8,193.7 1248.3,193.8 1248.8,193.8 1249.3,193.8 1249.7,193.9 1250.2,193.9 1250.7,193.9 1251.2,194 1251.6,194 1252.1,194 1252.6,194 1253,194.1 1253.5,194.1 1254,194.1 1254.5,194.1 1254.9,194.1 1255.4,194.2 1255.9,194.2 1256.3,194.2 1256.8,194.2 1257.3,194.2 1257.8,194.2 1258.2,194.2 1258.7,194.2 1259.2,194.2 1259.7,194.3 1260.1,194.3 1260.6,194.3 1261.1,194.3 1261.5,194.3 1262,194.3 1262.5,194.3 1263,194.3 1263.4,194.3 1263.9,194.3 1264.4,194.3 1264.9,194.3 1265.3,194.3 1265.8,194.3 1266.3,194.3 1266.7,194.3 1267.2,194.3 1267.7,194.3 1268.2,194.3 1268.6,194.3 1269.1,194.3 1269.6,194.3 1270,194.3 1270.5,194.3 1271,194.3 1271.5,194.3 1271.9,194.3 1272.4,194.3 1272.9,194.3 1273.4,194.3 1273.8,194.3 1274.3,194.3 1274.8,194.3 1275.2,194.3 1275.7,194.3 1276.2,194.3 1276.7,194.3 1277.1,194.3 1277.6,194.3 1278.1,194.3 1278.6,194.3 1279,194.3 1279.5,194.3 1280,194.3 1280.4,194.3 1280.9,194.3 1281.4,194.3 1281.9,194.3 1282.3,194.3 1282.8,194.3 1283.3,194.3 1283.7,194.3 1284.2,194.3 1284.7,194.3 1285.2,194.3 1285.6,194.3 1286.1,194.3 1286.6,194.3 1287.1,194.3 1287.5,194.3 1288,194.3 1288.5,194.3 1288.9,194.3 1289.4,194.3 1289.9,194.3 1290.4,194.3 1290.8,194.3 1291.3,194.3 1291.8,194.3 1292.2,194.3 1292.7,194.3 1293.2,194.3 1293.7,194.3 1294.1,194.3 1294.6,194.3 1295.1,194.3 1295.6,194.3 1296,194.3 1296.5,194.3 1297,194.3 1297.4,194.3 1297.9,194.3 1298.4,194.3 1298.9,194.3 1299.3,194.3 1299.8,194.3 1300.3,194.3 1300.8,194.3 1301.2,194.3 1301.7,194.3 1302.2,194.3 1302.6,194.3 1303.1,194.3 1303.6,194.3 1304.1,194.3 1304.5,194.3 1305,194.3 1305.5,194.3 1305.9,194.3 1306.4,194.3 1306.9,194.3 1307.4,194.3 1307.8,194.3 1308.3,194.3 1308.8,194.3 1309.3,194.3 1309.7,194.3 1310.2,194.3 1310.7,194.3 1311.1,194.3 1311.6,194.3 1312.1,194.3 1312.6,194.3 1313,194.3 1313.5,194.3 1314,194.3 1314.5,194.3 1314.9,194.3 1315.4,194.3 1315.9,194.3 1316.3,194.3 1316.8,194.3 1317.3,194.3 1317.8,194.3 1318.2,194.3 1318.7,194.3 1319.2,194.3 1319.6,194.3 1320.1,194.3 1320.6,194.3 1321.1,194.3 1321.5,194.3 1322,194.3 1322.5,194.3 1323,194.3 1323.4,194.3 1323.9,194.3 1324.4,194.3 1324.8,194.3 1325.3,194.3 1325.8,194.3 1326.3,194.3 1326.7,194.3 1327.2,194.3 1327.7,194.3 1328.2,194.3 1328.6,194.3 1329.1,194.3 1329.6,194.3 1330,194.3 1330.5,194.3 1331,194.3 1331.5,194.3 1331.9,194.3 1332.4,194.3 1332.9,194.3 1333.3,194.3 1333.8,194.3 1334.3,194.3 1334.8,194.3 1335.2,194.3 1335.7,194.3 1336.2,194.3 1336.7,194.3 1337.1,194.3 1337.6,194.3 1338.1,194.3 1338.5,194.3 1339,194.3 1339.5,194.3 1340,194.3 1340.4,194.3 1340.9,194.3 1341.4,194.3 1341.8,194.3 1342.3,194.3 1342.8,194.3 1343.3,194.3 1343.7,194.3 1344.2,194.3 1344.7,194.3 1345.2,194.3 1345.6,194.3 1346.1,194.3 1346.6,194.3 1347,194.3 1347.5,194.3 1348,194.3 1348.5,194.3 1348.9,194.3 1349.4,194.3 1349.9,194.3 1350.4,194.3 1350.8,194.3 1351.3,194.3 1351.8,194.3 1352.2,194.3 1352.7,194.3 1353.2,194.3 1353.7,194.3 1354.1,194.3 1354.6,194.3 1355.1,194.3 1355.5,194.3 1356,194.3 1356.5,194.3 1357,194.3 1357.4,194.3 1357.9,194.3 1358.4,194.2 1358.9,194.2 1359.3,194.2 1359.8,194.2 1360.3,194.2 1360.7,194.2 1361.2,194.2 1361.7,194.2 1362.2,194.1 1362.6,194.1 1363.1,194.1 1363.6,194.1 1364.1,194 1364.5,194 1365,194 1365.5,193.9 1365.9,193.9 1366.4,193.9 1366.9,193.8 1367.4,193.8 1367.8,193.8 1368.3,193.7 1368.8,193.7 1369.2,193.6 1369.7,193.6 1370.2,193.5 1370.7,193.4 1371.1,193.3 1371.6,193.2 1372.1,192.9 1372.6,192.4 1373,191.8 1373.5,190.8 1374,189.4 1374.4,187.7 1374.9,185.6 1375.4,183.5 1375.9,181.5 1376.3,179.9 1376.8,179 1377.3,179 1377.7,179.8 1378.2,181.3 1378.7,183.3 1379.2,185.4 1379.6,187.4 1380.1,189.1 1380.6,190.4 1381.1,191.3 1381.5,191.9 1382,192.3 1382.5,192.5 1382.9,192.6 1383.4,192.7 1383.9,192.7 1384.4,192.6 1384.8,192.4 1385.3,192.1 1385.8,191.7 1386.3,190.9 1386.7,189.8 1387.2,188.3 1387.7,186.4 1388.1,184.3 1388.6,182.3 1389.1,180.5 1389.6,179.3 1390,178.9 1390.5,179.4 1391,180.6 1391.4,182.4 1391.9,184.6 1392.4,186.7 1392.9,188.6 1393.3,190.1 1393.8,191.3 1394.3,192.1 1394.8,192.7 1395.2,193 1395.7,193.2 1396.2,193.4 1396.6,193.5 1397.1,193.5 1397.6,193.6 1398.1,193.6 1398.5,193.7 1399,193.7 1399.5,193.8 1400,193.8 1400.4,193.9 1400.9,193.9 1401.4,193.9 1401.8,194 1402.3,194 1402.8,194 1403.3,194.1 1403.7,194.1 1404.2,194.1 1404.7,194.1 1405.1,194.1 1405.6,194.2 1406.1,194.2 1406.6,194.2 1407,194.2 1407.5,194.2 1408,194.2 1408.5,194.2 1408.9,194.3 1409.4,194.3 1409.9,194.3 1410.3,194.3 1410.8,194.3 1411.3,194.3 1411.8,194.3 1412.2,194.3 1412.7,194.3 1413.2,194.3 1413.7,194.3 1414.1,194.3 1414.6,194.3 1415.1,194.3 1415.5,194.3 1416,194.3 1416.5,194.3 1417,194.3 1417.4,194.3 1417.9,194.3 1418.4,194.3 1418.8,194.3 1419.3,194.3 1419.8,194.3 1420.3,194.3 1420.7,194.3 1421.2,194.3 1421.7,194.3 1422.2,194.3 1422.6,194.3 1423.1,194.3 1423.6,194.3 1424,194.3 1424.5,194.3 1425,194.3 1425.5,194.3 1425.9,194.3 1426.4,194.3 1426.9,194.3 1427.3,194.3 1427.8,194.3 1428.3,194.3 1428.8,194.3 1429.2,194.3 1429.7,194.3 1430.2,194.3 1430.7,194.3 1431.1,194.3 1431.6,194.3 1432.1,194.3 1432.5,194.3 1433,194.3 1433.5,194.3 1434,194.3 1434.4,194.3 1434.9,194.3 1435.4,194.3 1435.9,194.3 1436.3,194.3 1436.8,194.3 1437.3,194.3 1437.7,194.3 1438.2,194.3 1438.7,194.3 1439.2,194.3 1439.6,194.3 1440.1,194.3 1440.6,194.3 1441,194.3 1441.5,194.3 1442,194.3 1442.5,194.3 1442.9,194.3 1443.4,194.3 1443.9,194.3 1444.4,194.3 1444.8,194.3 1445.3,194.3 1445.8,194.2 1446.2,194.2 1446.7,194.2 1447.2,194.2 1447.7,194.2 1448.1,194.2 1448.6,194.2 1449.1,194.2 1449.6,194.2 1450,194.2 1450.5,194.1 1451,194.1 1451.4,194.1 1451.9,194.1 1452.4,194.1 1452.9,194 1453.3,194 1453.8,194 1454.3,194 1454.7,193.9 1455.2,193.9 1455.7,193.9 1456.2,193.9 1456.6,193.8 1457.1,193.8 1457.6,193.8 1458.1,193.7 1458.5,193.7 1459,193.6 1459.5,193.5 1459.9,193.4 1460.4,193.1 1460.9,192.8 1461.4,192.2 1461.8,191.5 1462.3,190.6 1462.8,189.4 1463.2,188.1 1463.7,186.8 1464.2,185.5 1464.7,184.4 1465.1,183.7 1465.6,183.5 1466.1,183.7 1466.6,184.4 1467,185.5 1467.5,186.8 1468,188.1 1468.4,189.4 1468.9,190.6 1469.4,191.5 1469.9,192.2 1470.3,192.8 1470.8,193.1 1471.3,193.4 1471.8,193.5 1472.2,193.6 1472.7,193.7 1473.2,193.7 1473.6,193.8 1474.1,193.8 1474.6,193.8 1475.1,193.9 1475.5,193.9 1476,193.9 1476.5,193.9 1476.9,194 1477.4,194 1477.9,194 1478.4,194 1478.8,194.1 1479.3,194.1 1479.8,194.1 1480.3,194.1 1480.7,194.1 1481.2,194.2 1481.7,194.2 1482.1,194.2 1482.6,194.2 1483.1,194.2 1483.6,194.2 1484,194.2 1484.5,194.2 1485,194.2 1485.5,194.2 1485.9,194.3 1486.4,194.3 1486.9,194.3 1487.3,194.3 1487.8,194.3 1488.3,194.3 1488.8,194.3 1489.2,194.3 1489.7,194.3 1490.2,194.3 1490.6,194.3 1491.1,194.3 1491.6,194.3 1492.1,194.3 1492.5,194.3 1493,194.3 1493.5,194.3 1494,194.3 1494.4,194.3 1494.9,194.3 1495.4,194.3 1495.8,194.3 1496.3,194.3 1496.8,194.3 1497.3,194.3 1497.7,194.3 1498.2,194.3 1498.7,194.3 1499.1,194.3 1499.6,194.3 1500.1,194.3 1500.6,194.3 1501,194.3 1501.5,194.3 1502,194.3 1502.5,194.3 1502.9,194.3 1503.4,194.3 1503.9,194.3 1504.3,194.3 1504.8,194.3 1505.3,194.3 1505.8,194.3 1506.2,194.3 1506.7,194.3 1507.2,194.3 1507.7,194.3 1508.1,194.3 1508.6,194.3 1509.1,194.3 1509.5,194.3 1510,194.3 1510.5,194.3 1511,194.3 1511.4,194.3 1511.9,194.3 1512.4,194.3 1512.8,194.3 1513.3,194.3 1513.8,194.3 1514.3,194.3 1514.7,194.3 1515.2,194.3 1515.7,194.3 1516.2,194.3 1516.6,194.3 1517.1,194.3 1517.6,194.3 1518,194.3 1518.5,194.3 1519,194.3 1519.5,194.3 1519.9,194.3 1520.4,194.3 1520.9,194.3 1521.4,194.3 1521.8,194.3 1522.3,194.3 1522.8,194.3 1523.2,194.3 1523.7,194.3 1524.2,194.3 1524.7,194.3 1525.1,194.3 1525.6,194.3 1526.1,194.3 1526.5,194.3 1527,194.3 1527.5,194.3 1528,194.3 1528.4,194.3 1528.9,194.3 1529.4,194.3 1529.9,194.3 1530.3,194.3 1530.8,194.3 1531.3,194.3 1531.7,194.3 1532.2,194.3 1532.7,194.3 1533.2,194.3 1533.6,194.3 1534.1,194.3 1534.6,194.3 1535.1,194.3 1535.5,194.3 1536,194.3 1536.5,194.3 1536.9,194.3 1537.4,194.3 1537.9,194.3 1538.4,194.3 1538.8,194.3 1539.3,194.3 1539.8,194.3 1540.2,194.3 1540.7,194.3 1541.2,194.3 1541.7,194.3 1542.1,194.3 1542.6,194.3 1543.1,194.3 1543.6,194.3 1544,194.3 1544.5,194.3 1545,194.3 1545.4,194.3 1545.9,194.3 1546.4,194.3 1546.9,194.3 1547.3,194.3 1547.8,194.3 1548.3,194.3 1548.7,194.3 1549.2,194.3 1549.7,194.3 1550.2,194.3 1550.6,194.3 1551.1,194.3 1551.6,194.3 1552.1,194.3 1552.5,194.3 1553,194.3 1553.5,194.3 1553.9,194.3 1554.4,194.3 1554.9,194.3 1555.4,194.3 1555.8,194.3 1556.3,194.3 1556.8,194.3 1557.3,194.3 1557.7,194.3 1558.2,194.3 1558.7,194.3 1559.1,194.3 1559.6,194.3 1560.1,194.3 1560.6,194.3 1561,194.3 1561.5,194.3 1562,194.3 1562.4,194.3 1562.9,194.3 1563.4,194.3 1563.9,194.3 1564.3,194.3 1564.8,194.3 1565.3,194.3 1565.8,194.3 1566.2,194.3 1566.7,194.3 1567.2,194.3 1567.6,194.3 1568.1,194.3 1568.6,194.3 1569.1,194.3 1569.5,194.3 1570,194.3 1570.5,194.3 1571,194.3 1571.4,194.3 1571.9,194.3 1572.4,194.3 1572.8,194.3 1573.3,194.3 1573.8,194.3 1574.3,194.3 1574.7,194.3 1575.2,194.3 1575.7,194.3 1576.1,194.3 1576.6,194.3 1577.1,194.3 1577.6,194.3 1578,194.3 1578.5,194.3 1579,194.3 1579.5,194.3 1579.9,194.3 1580.4,194.3 1580.9,194.3 1581.3,194.3 1581.8,194.3 1582.3,194.3 1582.8,194.3 1583.2,194.3 1583.7,194.3 1584.2,194.3 1584.6,194.3 1585.1,194.3 1585.6,194.3 1586.1,194.3 1586.5,194.3 1587,194.3 1587.5,194.3 1588,194.3 1588.4,194.3 1588.9,194.3 1589.4,194.3 1589.8,194.3 1590.3,194.3 1590.8,194.3 1591.3,194.3 1591.7,194.3 1592.2,194.3 1592.7,194.3 1593.2,194.3 1593.6,194.3 1594.1,194.3 1594.6,194.3 1595,194.3 1595.5,194.3 1596,194.3 1596.5,194.3 1596.9,194.3 1597.4,194.3 1597.9,194.3 1598.3,194.3 1598.8,194.3 1599.3,194.3 1599.8,194.3 1600.2,194.3 1600.7,194.3 1601.2,194.3 1601.7,194.3 1602.1,194.3 1602.6,194.3 1603.1,194.3 1603.5,194.3 1604,194.3 1604.5,194.3 1605,194.3 1605.4,194.3 1605.9,194.3 1606.4,194.3 1606.9,194.3 1607.3,194.3 1607.8,194.3 1608.3,194.3 1608.7,194.3 1609.2,194.3 1609.7,194.3 1610.2,194.3 1610.6,194.3 1611.1,194.3 1611.6,194.3 1612,194.3 1612.5,194.3 1613,194.3 1613.5,194.3 1613.9,194.3 1614.4,194.3 1614.9,194.3 1615.4,194.3 1615.8,194.3 1616.3,194.3 1616.8,194.3 1617.2,194.3 1617.7,194.3 1618.2,194.3 1618.7,194.3 1619.1,194.3 1619.6,194.3 1620.1,194.3 1620.6,194.3 1621,194.3 1621.5,194.3 1622,194.3 1622.4,194.3 1622.9,194.3 1623.4,194.3 1623.9,194.3 1624.3,194.3 1624.8,194.3 1625.3,194.3 1625.7,194.3 1626.2,194.3 1626.7,194.3 1627.2,194.3 1627.6,194.3 1628.1,194.3 1628.6,194.3 1629.1,194.3 1629.5,194.3 1630,194.3 1630.5,194.3 1630.9,194.3 1631.4,194.3 1631.9,194.3 1632.4,194.3 1632.8,194.3 1633.3,194.3 1633.8,194.3 1634.2,194.3 1634.7,194.3 1635.2,194.3 1635.7,194.3 1636.1,194.3 1636.6,194.3 1637.1,194.3 1637.6,194.3 1638,194.3 1638.5,194.3 1639,194.3 1639.4,194.3 1639.9,194.3 1640.4,194.3 1640.9,194.3 1641.3,194.3 1641.8,194.3 1642.3,194.3 1642.8,194.3 1643.2,194.3 1643.7,194.3 1644.2,194.3 1644.6,194.3 1645.1,194.3 1645.6,194.3 1646.1,194.3 1646.5,194.3 1647,194.3 1647.5,194.3 1647.9,194.3 1648.4,194.3 1648.9,194.2 1649.4,194.2 1649.8,194.2 1650.3,194.2 1650.8,194.2 1651.3,194.2 1651.7,194.2 1652.2,194.2 1652.7,194.2 1653.1,194.2 1653.6,194.2 1654.1,194.2 1654.6,194.2 1655,194.2 1655.5,194.2 1656,194.2 1656.5,194.2 1656.9,194.2 1657.4,194.2 1657.9,194.2 1658.3,194.2 1658.8,194.2 1659.3,194.2 1659.8,194.2 1660.2,194.2 1660.7,194.2 1661.2,194.2 1661.6,194.2 1662.1,194.1 1662.6,194.1 1663.1,194.1 1663.5,194.1 1664,194.1 1664.5,194.1 1665,194.1 1665.4,194.1 1665.9,194.1 1666.4,194.1 1666.8,194.1 1667.3,194.1 1667.8,194.1 1668.3,194.1 1668.7,194.1 1669.2,194.1 1669.7,194.1 1670.1,194 1670.6,194 1671.1,194 1671.6,194 1672,194 1672.5,193.9 1673,193.9 1673.5,193.9 1673.9,193.8 1674.4,193.7 1674.9,193.7 1675.3,193.6 1675.8,193.5 1676.3,193.4 1676.8,193.2 1677.2,193.1 1677.7,192.9 1678.2,192.7 1678.7,192.5 1679.1,192.3 1679.6,192 1680.1,191.8 1680.5,191.6 1681,191.3 1681.5,191.1 1682,190.9 1682.4,190.6 1682.9,190.5 1683.4,190.3 1683.8,190.2 1684.3,190.1 1684.8,190 1685.3,190 1685.7,190 1686.2,190.1 1686.7,190.2 1687.2,190.3 1687.6,190.5 1688.1,190.6 1688.6,190.9 1689,191.1 1689.5,191.3 1690,191.6 1690.5,191.8 1690.9,192 1691.4,192.3 1691.9,192.5 1692.4,192.7 1692.8,192.9 1693.3,193.1 1693.8,193.2 1694.2,193.4 1694.7,193.5 1695.2,193.6 1695.7,193.7 1696.1,193.7 1696.6,193.8 1697.1,193.9 1697.5,193.9 1698,193.9 1698.5,194 1699,194 1699.4,194 1699.9,194 1700.4,194 1700.9,194.1 1701.3,194.1 1701.8,194.1 1702.3,194.1 1702.7,194.1 1703.2,194.1 1703.7,194.1 1704.2,194.1 1704.6,194.1 1705.1,194.1 1705.6,194.1 1706.1,194.1 1706.5,194.1 1707,194.1 1707.5,194.1 1707.9,194.1 1708.4,194.1 1708.9,194.2 1709.4,194.2 1709.8,194.2 1710.3,194.2 1710.8,194.2 1711.2,194.2 1711.7,194.2 1712.2,194.2 1712.7,194.2 1713.1,194.2 1713.6,194.2 1714.1,194.2 1714.6,194.2 1715,194.2 1715.5,194.2 1716,194.2 1716.4,194.2 1716.9,194.2 1717.4,194.2 1717.9,194.2 1718.3,194.2 1718.8,194.2 1719.3,194.2 1719.7,194.2 1720.2,194.2 1720.7,194.2 1721.2,194.2 1721.6,194.2 1722.1,194.3 1722.6,194.3 1723.1,194.3 1723.5,194.3 1724,194.3 1724.5,194.3 1724.9,194.3 1725.4,194.3 1725.9,194.3 1726.4,194.3 1726.8,194.3 1727.3,194.3 1727.8,194.3 1728.3,194.3 1728.7,194.3 1729.2,194.3 1729.7,194.3 1730.1,194.3 1730.6,194.3 1731.1,194.3 1731.6,194.3 1732,194.3 1732.5,194.3 1733,194.3 1733.4,194.3 1733.9,194.3 1734.4,194.3 1734.9,194.3 1735.3,194.3 1735.8,194.3 1736.3,194.3 1736.8,194.3 1737.2,194.3 1737.7,194.3 1738.2,194.3 1738.6,194.3 1739.1,194.3 1739.6,194.3 1740.1,194.3 1740.5,194.3 1741,194.3 1741.5,194.3 1742,194.3 1742.4,194.3 1742.9,194.3 1743.4,194.3 1743.8,194.3 1744.3,194.3 1744.8,194.3 1745.3,194.3 1745.7,194.3 1746.2,194.3 1746.7,194.3 1747.1,194.3 1747.6,194.3 1748.1,194.3 1748.6,194.3 1749,194.3 1749.5,194.3 1750,194.3 1750.5,194.3 1750.9,194.3 1751.4,194.3 1751.9,194.3 1752.3,194.3 1752.8,194.3 1753.3,194.3 1753.8,194.3 1754.2,194.3 1754.7,194.3 1755.2,194.3 1755.6,194.3 1756.1,194.3 1756.6,194.3 1757.1,194.3 1757.5,194.3 1758,194.3 1758.5,194.3 1759,194.3 1759.4,194.3 1759.9,194.2 1760.4,194.2 1760.8,194.2 1761.3,194.2 1761.8,194.2 1762.3,194.2 1762.7,194.2 1763.2,194.2 1763.7,194.2 1764.2,194.2 1764.6,194.2 1765.1,194.2 1765.6,194.2 1766,194.2 1766.5,194.2 1767,194.2 1767.5,194.2 1767.9,194.2 1768.4,194.2 1768.9,194.2 1769.3,194.2 1769.8,194.2 1770.3,194.2 1770.8,194.2 1771.2,194.2 1771.7,194.2 1772.2,194.2 1772.7,194.2 1773.1,194.1 1773.6,194.1 1774.1,194.1 1774.5,194.1 1775,194.1 1775.5,194.1 1776,194.1 1776.4,194.1 1776.9,194.1 1777.4,194.1 1777.9,194.1 1778.3,194.1 1778.8,194.1 1779.3,194.1 1779.7,194.1 1780.2,194.1 1780.7,194.1 1781.2,194 1781.6,194 1782.1,194 1782.6,194 1783,194 1783.5,193.9 1784,193.9 1784.5,193.9 1784.9,193.8 1785.4,193.7 1785.9,193.7 1786.4,193.6 1786.8,193.5 1787.3,193.4 1787.8,193.2 1788.2,193.1 1788.7,192.9 1789.2,192.7 1789.7,192.5 1790.1,192.3 1790.6,192 1791.1,191.8 1791.6,191.6 1792,191.3 1792.5,191.1 1793,190.9 1793.4,190.6 1793.9,190.5 1794.4,190.3 1794.9,190.2 1795.3,190.1 1795.8,190 1796.3,190 1796.7,190 1797.2,190.1 1797.7,190.2 1798.2,190.3 1798.6,190.5 1799.1,190.6 1799.6,190.9 1800.1,191.1 1800.5,191.3 1801,191.6 1801.5,191.8 1801.9,192 1802.4,192.3 1802.9,192.5 1803.4,192.7 1803.8,192.9 1804.3,193.1 1804.8,193.2 1805.2,193.4 1805.7,193.5 1806.2,193.6 1806.7,193.7 1807.1,193.7 1807.6,193.8 1808.1,193.9 1808.6,193.9 1809,193.9 1809.5,194 1810,194 1810.4,194 1810.9,194 1811.4,194 1811.9,194 1812.3,194.1 1812.8,194.1 1813.3,194.1 1813.8,194.1 1814.2,194.1 1814.7,194.1 1815.2,194.1 1815.6,194.1 1816.1,194.1 1816.6,194.1 1817.1,194.1 1817.5,194.1 1818,194.1 1818.5,194.1 1818.9,194.1 1819.4,194.1 1819.9,194.1 1820.4,194.1 1820.8,194.1 1821.3,194.1 1821.8,194.1 1822.3,194.2 1822.7,194.2 1823.2,194.2 1823.7,194.2 1824.1,194.2 1824.6,194.2 1825.1,194.2 1825.6,194.2 1826,194.2 1826.5,194.2 1827,194.2 1827.5,194.2 1827.9,194.2 1828.4,194.2 1828.9,194.2 1829.3,194.2 1829.8,194.2 1830.3,194.2 1830.8,194.2 1831.2,194.2 1831.7,194.2 1832.2,194.2 1832.6,194.2 1833.1,194.2 1833.6,194.2 1834.1,194.2 1834.5,194.2 1835,194.2 1835.5,194.2 1836,194.2 1836.4,194.2 1836.9,194.2 1837.4,194.2 1837.8,194.2 1838.3,194.2 1838.8,194.2 1839.3,194.2 1839.7,194.2 1840.2,194.2 1840.7,194.2 1841.1,194.2 1841.6,194.2 1842.1,194.1 1842.6,194.1 1843,194.1 1843.5,194.1 1844,194.1 1844.5,194.1 1844.9,194.1 1845.4,194.1 1845.9,194.1 1846.3,194.1 1846.8,194.1 1847.3,194.1 1847.8,194.1 1848.2,194.1 1848.7,194.1 1849.2,194 1849.7,194 1850.1,194 1850.6,194 1851.1,193.9 1851.5,193.9 1852,193.8 1852.5,193.8 1853,193.7 1853.4,193.6 1853.9,193.5 1854.4,193.4 1854.8,193.2 1855.3,193.1 1855.8,192.9 1856.3,192.8 1856.7,192.6 1857.2,192.4 1857.7,192.2 1858.2,192.1 1858.6,191.9 1859.1,191.7 1859.6,191.6 1860,191.4 1860.5,191.3 1861,191.2 1861.5,191.1 1861.9,191.1 1862.4,191.1 1862.9,191.1 1863.4,191.1 1863.8,191.2 1864.3,191.3 1864.8,191.4 1865.2,191.6 1865.7,191.7 1866.2,191.9 1866.7,192.1 1867.1,192.2 1867.6,192.4 1868.1,192.6 1868.5,192.8 1869,192.9 1869.5,193.1 1870,193.2 1870.4,193.4 1870.9,193.5 1871.4,193.6 1871.9,193.7 1872.3,193.8 1872.8,193.8 1873.3,193.9 1873.7,193.9 1874.2,194 1874.7,194 1875.2,194 1875.6,194.1 1876.1,194.1 1876.6,194.1 1877,194.1 1877.5,194.1 1878,194.1 1878.5,194.1 1878.9,194.1 1879.4,194.1 1879.9,194.1 1880.4,194.1 1880.8,194.1 1881.3,194.2 1881.8,194.2 1882.2,194.2 1882.7,194.2 1883.2,194.2 1883.7,194.2 1884.1,194.2 1884.6,194.2 1885.1,194.2 1885.6,194.2 1886,194.2 1886.5,194.2 1887,194.2 1887.4,194.2 1887.9,194.2 1888.4,194.2 1888.9,194.2 1889.3,194.2 1889.8,194.2 1890.3,194.2 1890.7,194.2 1891.2,194.2 1891.7,194.2 1892.2,194.2 1892.6,194.2 1893.1,194.2 1893.6,194.2 1894.1,194.2 1894.5,194.2 1895,194.2 1895.5,194.2 1895.9,194.3 1896.4,194.3 1896.9,194.3 1897.4,194.3 1897.8,194.3 1898.3,194.3 1898.8,194.3 1899.3,194.3 1899.7,194.3 1900.2,194.3 1900.7,194.3 1901.1,194.3 1901.6,194.3 1902.1,194.3 1902.6,194.3 1903,194.3 1903.5,194.3 1904,194.3 1904.4,194.3 1904.9,194.3 1905.4,194.3 1905.9,194.3 1906.3,194.3 1906.8,194.3 1907.3,194.3 1907.8,194.3 1908.2,194.3 1908.7,194.3 1909.2,194.3 1909.6,194.3 1910.1,194.3 1910.6,194.3 1911.1,194.3 1911.5,194.3 1912,194.3 1912.5,194.3 1913,194.3 1913.4,194.3 1913.9,194.3 1914.4,194.3 1914.8,194.3 1915.3,194.3 1915.8,194.3 1916.3,194.3 1916.7,194.3 1917.2,194.3 1917.7,194.3 1918.1,194.3 1918.6,194.3 1919.1,194.3 1919.6,194.3 1920,194.3 1920.5,194.3 1921,194.3 1921.5,194.3 1921.9,194.3 1922.4,194.3 1922.9,194.3 1923.3,194.3 1923.8,194.3 1924.3,194.3 1924.8,194.3 1925.2,194.3 1925.7,194.3 1926.2,194.3 1926.6,194.3 1927.1,194.3 1927.6,194.3 1928.1,194.3 1928.5,194.3 1929,194.3 1929.5,194.3 1930,194.3 1930.4,194.3 1930.9,194.3 1931.4,194.3 1931.8,194.3 1932.3,194.3 1932.8,194.3 1933.3,194.3 1933.7,194.3 1934.2,194.3 1934.7,194.3 1935.2,194.3 1935.6,194.3 1936.1,194.3 1936.6,194.3 1937,194.3 1937.5,194.3 1938,194.3 1938.5,194.3 1938.9,194.3 1939.4,194.3 1939.9,194.3 1940.3,194.3 1940.8,194.3 1941.3,194.3 1941.8,194.3 1942.2,194.3 1942.7,194.3 1943.2,194.3 1943.7,194.3 1944.1,194.3 1944.6,194.3 1945.1,194.3 1945.5,194.3 1946,194.3 1946.5,194.3 1947,194.3 1947.4,194.3 1947.9,194.3 1948.4,194.3 1948.9,194.3 1949.3,194.3 1949.8,194.3 1950.3,194.3 1950.7,194.3 1951.2,194.3 1951.7,194.3 1952.2,194.3 1952.6,194.3 1953.1,194.3 1953.6,194.3 1954,194.3 1954.5,194.3 1955,194.3 1955.5,194.3 1955.9,194.3 1956.4,194.3 1956.9,194.3 1957.4,194.3 1957.8,194.3 1958.3,194.3 1958.8,194.3 1959.2,194.3 1959.7,194.3 1960.2,194.3 1960.7,194.3 1961.1,194.3 1961.6,194.3 1962.1,194.3 1962.5,194.3 1963,194.3 1963.5,194.3 1964,194.3 1964.4,194.3 1964.9,194.3 1965.4,194.3 1965.9,194.3 1966.3,194.3 1966.8,194.3 1967.3,194.3 1967.7,194.3 1968.2,194.3 1968.7,194.3 1969.2,194.3 1969.6,194.3 1970.1,194.3 1970.6,194.3 1971.1,194.3 1971.5,194.3 1972,194.3 1972.5,194.3 1972.9,194.3 1973.4,194.3 1973.9,194.3 1974.4,194.3 1974.8,194.3 1975.3,194.3 1975.8,194.3 1976.2,194.3 1976.7,194.3 1977.2,194.3 1977.7,194.3 1978.1,194.3 1978.6,194.3 1979.1,194.3 1979.6,194.3 1980,194.3 1980.5,194.3 1980.5,194.5 91,194.5" fill="#3d3d3d" stroke="#3d3d3d" stroke-width="2.6" stroke-linejoin="round"/>
<line x1="91" y1="195.2" x2="1980.5" y2="195.2" stroke="#7096cc" stroke-width="3.9" />
<path d="M83.7,187.5L98.3,202.1M83.7,202.1L98.3,187.5" stroke="#c2185b" stroke-width="2" fill="none"/>
<path d="M107.3,187.5L121.9,202.1M107.3,202.1L121.9,187.5" stroke="#c2185b" stroke-width="2" fill="none"/>
<path d="M130.9,187.5L145.5,202.1M130.9,202.1L145.5,187.5" stroke="#c2185b" stroke-width="2" fill="none"/>
<path d="M154.6,187.5L169.2,202.1M154.6,202.1L169.2,187.5" stroke="#c2185b" stroke-width="2" fill="none"/>
<path d="M178.2,187.5L192.8,202.1M178.2,202.1L192.8,187.5" stroke="#c2185b" stroke-width="2" fill="none"/>
<path d="M201.8,187.5L216.4,202.1M201.8,202.1L216.4,187.5" stroke="#c2185b" stroke-width="2" fill="none"/>
<path d="M225.4,187.5L240,202.1M225.4,202.1L240,187.5" stroke="#c2185b" stroke-width="2" fill="none"/>
<path d="M249,187.5L263.6,202.1M249,202.1L263.6,187.5" stroke="#c2185b" stroke-width="2" fill="none"/>
<path d="M272.6,187.5L287.2,202.1M272.6,202.1L287.2,187.5" stroke="#c2185b" stroke-width="2" fill="none"/>
<path d="M296.3,187.5L310.9,202.1M296.3,202.1L310.9,187.5" stroke="#c2185b" stroke-width="2" fill="none"/>
<path d="M319.9,187.5L334.5,202.1M319.9,202.1L334.5,187.5" stroke="#c2185b" stroke-width="2" fill="none"/>
<path d="M343.5,187.5L358.1,202.1M343.5,202.1L358.1,187.5" stroke="#c2185b" stroke-width="2" fill="none"/>
<path d="M367.1,187.5L381.7,202.1M367.1,202.1L381.7,187.5" stroke="#c2185b" stroke-width="2" fill="none"/>
<path d="M390.7,187.5L405.3,202.1M390.7,202.1L405.3,187.5" stroke="#c2185b" stroke-width="2" fill="none"/>
<path d="M414.4,187.5L429,202.1M414.4,202.1L429,187.5" stroke="#c2185b" stroke-width="2" fill="none"/>
<path d="M438,187.5L452.6,202.1M438,202.1L452.6,187.5" stroke="#c2185b" stroke-width="2" fill="none"/>
<path d="M461.6,187.5L476.2,202.1M461.6,202.1L476.2,187.5" stroke="#c2185b" stroke-width="2" fill="none"/>
<path d="M485.2,187.5L499.8,202.1M485.2,202.1L499.8,187.5" stroke="#c2185b" stroke-width="2" fill="none"/>
<path d="M508.8,187.5L523.4,202.1M508.8,202.1L523.4,187.5" stroke="#c2185b" stroke-width="2" fill="none"/>
<path d="M532.5,187.5L547.1,202.1M532.5,202.1L547.1,187.5" stroke="#c2185b" stroke-width="2" fill="none"/>
<path d="M556.1,187.5L570.7,202.1M556.1,202.1L570.7,187.5" stroke="#c2185b" stroke-width="2" fill="none"/>
<path d="M579.7,187.5L594.3,202.1M579.7,202.1L594.3,187.5" stroke="#c2185b" stroke-width="2" fill="none"/>
<path d="M603.3,187.5L617.9,202.1M603.3,202.1L617.9,187.5" stroke="#c2185b" stroke-width="2" fill="none"/>
<path d="M626.9,187.5L641.5,202.1M626.9,202.1L641.5,187.5" stroke="#c2185b" stroke-width="2" fill="none"/>
<path d="M650.6,187.5L665.1,202.1M650.6,202.1L665.1,187.5" stroke="#c2185b" stroke-width="2" fill="none"/>
<path d="M674.2,187.5L688.8,202.1M674.2,202.1L688.8,187.5" stroke="#c2185b" stroke-width="2" fill="none"/>
<path d="M697.8,187.5L712.4,202.1M697.8,202.1L712.4,187.5" stroke="#c2185b" stroke-width="2" fill="none"/>
<path d="M721.4,187.5L736,202.1M721.4,202.1L736,187.5" stroke="#c2185b" stroke-width="2" fill="none"/>
<path d="M745,187.5L759.6,202.1M745,202.1L759.6,187.5" stroke="#c2185b" stroke-width="2" fill="none"/>
<path d="M768.6,187.5L783.2,202.1M768.6,202.1L783.2,187.5" stroke="#c2185b" stroke-width="2" fill="none"/>
<path d="M792.3,187.5L806.9,202.1M792.3,202.1L806.9,187.5" stroke="#c2185b" stroke-width="2" fill="none"/>
<path d="M815.9,187.5L830.5,202.1M815.9,202.1L830.5,187.5" stroke="#c2185b" stroke-width="2" fill="none"/>
<path d="M839.5,187.5L854.1,202.1M839.5,202.1L854.1,187.5" stroke="#c2185b" stroke-width="2" fill="none"/>
<path d="M863.1,187.5L877.7,202.1M863.1,202.1L877.7,187.5" stroke="#c2185b" stroke-width="2" fill="none"/>
<path d="M886.7,187.5L901.3,202.1M886.7,202.1L901.3,187.5" stroke="#c2185b" stroke-width="2" fill="none"/>
<path d="M910.4,187.5L925,202.1M910.4,202.1L925,187.5" stroke="#c2185b" stroke-width="2" fill="none"/>
<path d="M934,187.5L948.6,202.1M934,202.1L948.6,187.5" stroke="#c2185b" stroke-width="2" fill="none"/>
<path d="M957.6,187.5L972.2,202.1M957.6,202.1L972.2,187.5" stroke="#c2185b" stroke-width="2" fill="none"/>
<path d="M981.2,187.5L995.8,202.1M981.2,202.1L995.8,187.5" stroke="#c2185b" stroke-width="2" fill="none"/>
<path d="M1004.8,187.5L1019.4,202.1M1004.8,202.1L1019.4,187.5" stroke="#c2185b" stroke-width="2" fill="none"/>
<path d="M1028.5,187.5L1043,202.1M1028.5,202.1L1043,187.5" stroke="#c2185b" stroke-width="2" fill="none"/>
<path d="M1052.1,187.5L1066.7,202.1M1052.1,202.1L1066.7,187.5" stroke="#c2185b" stroke-width="2" fill="none"/>
<path d="M1075.7,187.5L1090.3,202.1M1075.7,202.1L1090.3,187.5" stroke="#c2185b" stroke-width="2" fill="none"/>
<path d="M1099.3,187.5L1113.9,202.1M1099.3,202.1L1113.9,187.5" stroke="#c2185b" stroke-width="2" fill="none"/>
<path d="M1122.9,187.5L1137.5,202.1M1122.9,202.1L1137.5,187.5" stroke="#c2185b" stroke-width="2" fill="none"/>
<path d="M1146.5,187.5L1161.1,202.1M1146.5,202.1L1161.1,187.5" stroke="#c2185b" stroke-width="2" fill="none"/>
<path d="M1170.2,187.5L1184.8,202.1M1170.2,202.1L1184.8,187.5" stroke="#c2185b" stroke-width="2" fill="none"/>
<path d="M1193.8,187.5L1208.4,202.1M1193.8,202.1L1208.4,187.5" stroke="#c2185b" stroke-width="2" fill="none"/>
<path d="M1217.4,187.5L1232,202.1M1217.4,202.1L1232,187.5" stroke="#c2185b" stroke-width="2" fill="none"/>
<path d="M1241,187.5L1255.6,202.1M1241,202.1L1255.6,187.5" stroke="#c2185b" stroke-width="2" fill="none"/>
<path d="M1264.6,187.5L1279.2,202.1M1264.6,202.1L1279.2,187.5" stroke="#c2185b" stroke-width="2" fill="none"/>
<path d="M1288.3,187.5L1302.9,202.1M1288.3,202.1L1302.9,187.5" stroke="#c2185b" stroke-width="2" fill="none"/>
<path d="M1311.9,187.5L1326.5,202.1M1311.9,202.1L1326.5,187.5" stroke="#c2185b" stroke-width="2" fill="none"/>
<path d="M1335.5,187.5L1350.1,202.1M1335.5,202.1L1350.1,187.5" stroke="#c2185b" stroke-width="2" fill="none"/>
<path d="M1359.1,187.5L1373.7,202.1M1359.1,202.1L1373.7,187.5" stroke="#c2185b" stroke-width="2" fill="none"/>
<path d="M1382.7,187.5L1397.3,202.1M1382.7,202.1L1397.3,187.5" stroke="#c2185b" stroke-width="2" fill="none"/>
<path d="M1406.4,187.5L1421,202.1M1406.4,202.1L1421,187.5" stroke="#c2185b" stroke-width="2" fill="none"/>
<path d="M1430,187.5L1444.6,202.1M1430,202.1L1444.6,187.5" stroke="#c2185b" stroke-width="2" fill="none"/>
<path d="M1453.6,187.5L1468.2,202.1M1453.6,202.1L1468.2,187.5" stroke="#c2185b" stroke-width="2" fill="none"/>
<path d="M1477.2,187.5L1491.8,202.1M1477.2,202.1L1491.8,187.5" stroke="#c2185b" stroke-width="2" fill="none"/>
<path d="M1500.8,187.5L1515.4,202.1M1500.8,202.1L1515.4,187.5" stroke="#c2185b" stroke-width="2" fill="none"/>
<path d="M1524.4,187.5L1539,202.1M1524.4,202.1L1539,187.5" stroke="#c2185b" stroke-width="2" fill="none"/>
<path d="M1548.1,187.5L1562.7,202.1M1548.1,202.1L1562.7,187.5" stroke="#c2185b" stroke-width="2" fill="none"/>
<path d="M1571.7,187.5L1586.3,202.1M1571.7,202.1L1586.3,187.5" stroke="#c2185b" stroke-width="2" fill="none"/>
<path d="M1595.3,187.5L1609.9,202.1M1595.3,202.1L1609.9,187.5" stroke="#c2185b" stroke-width="2" fill="none"/>
<path d="M1618.9,187.5L1633.5,202.1M1618.9,202.1L1633.5,187.5" stroke="#c2185b" stroke-width="2" fill="none"/>
<path d="M1642.5,187.5L1657.1,202.1M1642.5,202.1L1657.1,187.5" stroke="#c2185b" stroke-width="2" fill="none"/>
<path d="M1666.2,187.5L1680.8,202.1M1666.2,202.1L1680.8,187.5" stroke="#c2185b" stroke-width="2" fill="none"/>
<path d="M1689.8,187.5L1704.4,202.1M1689.8,202.1L1704.4,187.5" stroke="#c2185b" stroke-width="2" fill="none"/>
<path d="M1713.4,187.5L1728,202.1M1713.4,202.1L1728,187.5" stroke="#c2185b" stroke-width="2" fill="none"/>
<path d="M1737,187.5L1751.6,202.1M1737,202.1L1751.6,187.5" stroke="#c2185b" stroke-width="2" fill="none"/>
<path d="M1760.6,187.5L1775.2,202.1M1760.6,202.1L1775.2,187.5" stroke="#c2185b" stroke-width="2" fill="none"/>
<path d="M1784.2,187.5L1798.8,202.1M1784.2,202.1L1798.8,187.5" stroke="#c2185b" stroke-width="2" fill="none"/>
<path d="M1807.9,187.5L1822.5,202.1M1807.9,202.1L1822.5,187.5" stroke="#c2185b" stroke-width="2" fill="none"/>
<path d="M1831.5,187.5L1846.1,202.1M1831.5,202.1L1846.1,187.5" stroke="#c2185b" stroke-width="2" fill="none"/>
<path d="M1855.1,187.5L1869.7,202.1M1855.1,202.1L1869.7,187.5" stroke="#c2185b" stroke-width="2" fill="none"/>
<path d="M1878.7,187.5L1893.3,202.1M1878.7,202.1L1893.3,187.5" stroke="#c2185b" stroke-width="2" fill="none"/>
<path d="M1902.3,187.5L1916.9,202.1M1902.3,202.1L1916.9,187.5" stroke="#c2185b" stroke-width="2" fill="none"/>
<path d="M1926,187.5L1940.6,202.1M1926,202.1L1940.6,187.5" stroke="#c2185b" stroke-width="2" fill="none"/>
<path d="M1949.6,187.5L1964.2,202.1M1949.6,202.1L1964.2,187.5" stroke="#c2185b" stroke-width="2" fill="none"/>
<path d="M1973.2,187.5L1987.8,202.1M1973.2,202.1L1987.8,187.5" stroke="#c2185b" stroke-width="2" fill="none"/>
<path d="M290.7,18L304.7,32M290.7,32L304.7,18" stroke="#c2185b" stroke-width="2.2" fill="none"/>
<path d="M289.5,39L303.5,53M289.5,53L303.5,39" stroke="#c2185b" stroke-width="2.2" fill="none"/>
<path d="M289.5,68.6L303.5,82.6M289.5,82.6L303.5,68.6" stroke="#c2185b" stroke-width="2.2" fill="none"/>
<path d="M289,97L303,111M289,111L303,97" stroke="#c2185b" stroke-width="2.2" fill="none"/>
<path d="M291.4,120L305.4,134M291.4,134L305.4,120" stroke="#c2185b" stroke-width="2.2" fill="none"/>
<path d="M289.5,145.3L303.5,159.3M289.5,159.3L303.5,145.3" stroke="#c2185b" stroke-width="2.2" fill="none"/>
<path d="M288.3,171.6L302.3,185.6M288.3,185.6L302.3,171.6" stroke="#c2185b" stroke-width="2.2" fill="none"/>
<path d="M714.1,150L728.1,164M714.1,164L728.1,150" stroke="#c2185b" stroke-width="2.2" fill="none"/>
<path d="M712.7,169L726.7,183M712.7,183L726.7,169" stroke="#c2185b" stroke-width="2.2" fill="none"/>
<path d="M750,179L764,193M750,193L764,179" stroke="#c2185b" stroke-width="2.2" fill="none"/>
<path d="M898.1,113L912.1,127M898.1,127L912.1,113" stroke="#c2185b" stroke-width="2.2" fill="none"/>
<path d="M899.3,148L913.3,162M899.3,162L913.3,148" stroke="#c2185b" stroke-width="2.2" fill="none"/>
<path d="M897,168L911,182M897,182L911,168" stroke="#c2185b" stroke-width="2.2" fill="none"/>
<path d="M1232.3,177L1246.3,191M1232.3,191L1246.3,177" stroke="#c2185b" stroke-width="2.2" fill="none"/>
<path d="M1368.9,174L1382.9,188M1368.9,188L1382.9,174" stroke="#c2185b" stroke-width="2.2" fill="none"/>
<path d="M1380.7,178L1394.7,192M1380.7,192L1394.7,178" stroke="#c2185b" stroke-width="2.2" fill="none"/>
<path d="M1784.5,179L1798.5,193M1784.5,193L1798.5,179" stroke="#c2185b" stroke-width="2.2" fill="none"/>
<line x1="91" y1="226.5" x2="1980.5" y2="226.5" stroke="#a6e3a1" stroke-width="3.6" />
<ellipse cx="297" cy="226.5" rx="3" ry="4.5" fill="#a6e3a1"/>
<ellipse cx="720.4" cy="226.5" rx="3" ry="4.5" fill="#a6e3a1"/>
<ellipse cx="904.2" cy="226.5" rx="3" ry="4.5" fill="#a6e3a1"/>
<line x1="297" y1="208.5" x2="297" y2="218.5" stroke="#8b1a1a" stroke-width="4.2" stroke-linecap="round"/>
<line x1="720.4" y1="208.5" x2="720.4" y2="218.5" stroke="#8b1a1a" stroke-width="4.2" stroke-linecap="round"/>
<line x1="755.9" y1="208.5" x2="755.9" y2="218.5" stroke="#8b1a1a" stroke-width="4.2" stroke-linecap="round"/>
<line x1="763" y1="208.5" x2="763" y2="218.5" stroke="#8b1a1a" stroke-width="4.2" stroke-linecap="round"/>
<line x1="904.2" y1="208.5" x2="904.2" y2="218.5" stroke="#8b1a1a" stroke-width="4.2" stroke-linecap="round"/>
<line x1="1004.6" y1="208.5" x2="1004.6" y2="218.5" stroke="#8b1a1a" stroke-width="4.2" stroke-linecap="round"/>
<line x1="1235.8" y1="208.5" x2="1235.8" y2="218.5" stroke="#8b1a1a" stroke-width="4.2" stroke-linecap="round"/>
<line x1="1239.6" y1="208.5" x2="1239.6" y2="218.5" stroke="#8b1a1a" stroke-width="4.2" stroke-linecap="round"/>
<line x1="1243.6" y1="208.5" x2="1243.6" y2="218.5" stroke="#8b1a1a" stroke-width="4.2" stroke-linecap="round"/>
<line x1="1377.5" y1="208.5" x2="1377.5" y2="218.5" stroke="#8b1a1a" stroke-width="4.2" stroke-linecap="round"/>
<line x1="1382.2" y1="208.5" x2="1382.2" y2="218.5" stroke="#8b1a1a" stroke-width="4.2" stroke-linecap="round"/>
<line x1="1386.5" y1="208.5" x2="1386.5" y2="218.5" stroke="#8b1a1a" stroke-width="4.2" stroke-linecap="round"/>
<line x1="1390.7" y1="208.5" x2="1390.7" y2="218.5" stroke="#8b1a1a" stroke-width="4.2" stroke-linecap="round"/>
<line x1="1465.8" y1="208.5" x2="1465.8" y2="218.5" stroke="#8b1a1a" stroke-width="4.2" stroke-linecap="round"/>
<line x1="1469.6" y1="208.5" x2="1469.6" y2="218.5" stroke="#8b1a1a" stroke-width="4.2" stroke-linecap="round"/>
<line x1="1671.1" y1="208.5" x2="1671.1" y2="218.5" stroke="#8b1a1a" stroke-width="4.2" stroke-linecap="round"/>
<line x1="1677.9" y1="208.5" x2="1677.9" y2="218.5" stroke="#8b1a1a" stroke-width="4.2" stroke-linecap="round"/>
<line x1="1683.1" y1="208.5" x2="1683.1" y2="218.5" stroke="#8b1a1a" stroke-width="4.2" stroke-linecap="round"/>
<line x1="1688.3" y1="208.5" x2="1688.3" y2="218.5" stroke="#8b1a1a" stroke-width="4.2" stroke-linecap="round"/>
<line x1="1693.5" y1="208.5" x2="1693.5" y2="218.5" stroke="#8b1a1a" stroke-width="4.2" stroke-linecap="round"/>
<line x1="1698.7" y1="208.5" x2="1698.7" y2="218.5" stroke="#8b1a1a" stroke-width="4.2" stroke-linecap="round"/>
<line x1="1775.7" y1="208.5" x2="1775.7" y2="218.5" stroke="#8b1a1a" stroke-width="4.2" stroke-linecap="round"/>
<line x1="1780" y1="208.5" x2="1780" y2="218.5" stroke="#8b1a1a" stroke-width="4.2" stroke-linecap="round"/>
<line x1="1792.5" y1="208.5" x2="1792.5" y2="218.5" stroke="#8b1a1a" stroke-width="4.2" stroke-linecap="round"/>
<line x1="1796.7" y1="208.5" x2="1796.7" y2="218.5" stroke="#8b1a1a" stroke-width="4.2" stroke-linecap="round"/>
<line x1="1851.3" y1="208.5" x2="1851.3" y2="218.5" stroke="#8b1a1a" stroke-width="4.2" stroke-linecap="round"/>
<line x1="1857.7" y1="208.5" x2="1857.7" y2="218.5" stroke="#8b1a1a" stroke-width="4.2" stroke-linecap="round"/>
<line x1="1864.5" y1="208.5" x2="1864.5" y2="218.5" stroke="#8b1a1a" stroke-width="4.2" stroke-linecap="round"/>
<line x1="1870.7" y1="208.5" x2="1870.7" y2="218.5" stroke="#8b1a1a" stroke-width="4.2" stroke-linecap="round"/>
<line x1="641.5" y1="81.4" x2="715.5" y2="81.4" stroke="#3d3d3d" stroke-width="4" stroke-linecap="round"/>
<text x="722.5" y="93.5" font-family='"Liberation Sans",Arial,sans-serif' font-size="32" fill="#3d3d3d" >Experimental</text>
<path d="M937.5,74L952.5,89M937.5,89L952.5,74" stroke="#c2185b" stroke-width="2.2" fill="none"/>
<text x="983" y="93.5" font-family='"Liberation Sans",Arial,sans-serif' font-size="32" fill="#3d3d3d" >Calculated</text>
<line x1="1185" y1="81.4" x2="1259" y2="81.4" stroke="#7096cc" stroke-width="4" stroke-linecap="round"/>
<text x="1267" y="93.5" font-family='"Liberation Sans",Arial,sans-serif' font-size="32" fill="#3d3d3d" >Background</text>
<line x1="1490" y1="81.4" x2="1563" y2="81.4" stroke="#a6e3a1" stroke-width="4" stroke-linecap="round"/>
<text x="1571" y="93.5" font-family='"Liberation Sans",Arial,sans-serif' font-size="32" fill="#3d3d3d" >Error</text>
<line x1="1730.6" y1="74" x2="1730.6" y2="89" stroke="#8b1a1a" stroke-width="2" />
<text x="1767" y="93.5" font-family='"Liberation Sans",Arial,sans-serif' font-size="32" fill="#3d3d3d" >Standard card</text>
<text x="1343" y="45" font-family='"Liberation Sans",Arial,sans-serif' font-size="31" fill="#7b72c4" >Cell prarmeter:</text>
<text x="1579.4" y="45" font-family='"Liberation Sans",Arial,sans-serif' font-size="31" fill="#7b72c4" >a=b=2.8737Å</text>
<text x="1800.7" y="45" font-family='"Liberation Sans",Arial,sans-serif' font-size="31" fill="#7b72c4" >c=14.1957Å</text>
<text x="-1.5" y="360.5" font-family='"Liberation Sans",Arial,sans-serif' font-size="42" fill="#111" font-weight="bold" >b</text>
<line x1="88" y1="335" x2="1982" y2="335" stroke="#333" stroke-width="2" />
<line x1="88" y1="568" x2="1982" y2="568" stroke="#333" stroke-width="2" />
<line x1="88" y1="334" x2="88" y2="569" stroke="#333" stroke-width="2" />
<line x1="1982" y1="334" x2="1982" y2="569" stroke="#333" stroke-width="2" />
<rect x="361" y="332" width="10" height="6" fill="#fff" stroke="none" stroke-width="1" />
<line x1="360.5" y1="328" x2="365.5" y2="342" stroke="#333" stroke-width="1.8" />
<line x1="366.5" y1="328" x2="371.5" y2="342" stroke="#333" stroke-width="1.8" />
<rect x="361" y="565" width="10" height="6" fill="#fff" stroke="none" stroke-width="1" />
<line x1="360.5" y1="561" x2="365.5" y2="575" stroke="#333" stroke-width="1.8" />
<line x1="366.5" y1="561" x2="371.5" y2="575" stroke="#333" stroke-width="1.8" />
<rect x="695" y="332" width="10" height="6" fill="#fff" stroke="none" stroke-width="1" />
<line x1="694.5" y1="328" x2="699.5" y2="342" stroke="#333" stroke-width="1.8" />
<line x1="700.5" y1="328" x2="705.5" y2="342" stroke="#333" stroke-width="1.8" />
<rect x="695" y="565" width="10" height="6" fill="#fff" stroke="none" stroke-width="1" />
<line x1="694.5" y1="561" x2="699.5" y2="575" stroke="#333" stroke-width="1.8" />
<line x1="700.5" y1="561" x2="705.5" y2="575" stroke="#333" stroke-width="1.8" />
<rect x="1029" y="332" width="10" height="6" fill="#fff" stroke="none" stroke-width="1" />
<line x1="1028.5" y1="328" x2="1033.5" y2="342" stroke="#333" stroke-width="1.8" />
<line x1="1034.5" y1="328" x2="1039.5" y2="342" stroke="#333" stroke-width="1.8" />
<rect x="1029" y="565" width="10" height="6" fill="#fff" stroke="none" stroke-width="1" />
<line x1="1028.5" y1="561" x2="1033.5" y2="575" stroke="#333" stroke-width="1.8" />
<line x1="1034.5" y1="561" x2="1039.5" y2="575" stroke="#333" stroke-width="1.8" />
<rect x="1361" y="332" width="10" height="6" fill="#fff" stroke="none" stroke-width="1" />
<line x1="1360.5" y1="328" x2="1365.5" y2="342" stroke="#333" stroke-width="1.8" />
<line x1="1366.5" y1="328" x2="1371.5" y2="342" stroke="#333" stroke-width="1.8" />
<rect x="1361" y="565" width="10" height="6" fill="#fff" stroke="none" stroke-width="1" />
<line x1="1360.5" y1="561" x2="1365.5" y2="575" stroke="#333" stroke-width="1.8" />
<line x1="1366.5" y1="561" x2="1371.5" y2="575" stroke="#333" stroke-width="1.8" />
<rect x="1692" y="332" width="10" height="6" fill="#fff" stroke="none" stroke-width="1" />
<line x1="1691.5" y1="328" x2="1696.5" y2="342" stroke="#333" stroke-width="1.8" />
<line x1="1697.5" y1="328" x2="1702.5" y2="342" stroke="#333" stroke-width="1.8" />
<rect x="1692" y="565" width="10" height="6" fill="#fff" stroke="none" stroke-width="1" />
<line x1="1691.5" y1="561" x2="1696.5" y2="575" stroke="#333" stroke-width="1.8" />
<line x1="1697.5" y1="561" x2="1702.5" y2="575" stroke="#333" stroke-width="1.8" />
<line x1="84" y1="568" x2="88" y2="568" stroke="#333" stroke-width="2" />
<text x="82" y="575" font-family='"Liberation Sans",Arial,sans-serif' font-size="19.5" fill="#333" text-anchor="end" >0</text>
<line x1="84" y1="451.5" x2="88" y2="451.5" stroke="#333" stroke-width="2" />
<text x="82" y="458.5" font-family='"Liberation Sans",Arial,sans-serif' font-size="19.5" fill="#333" text-anchor="end" >60</text>
<line x1="84" y1="335" x2="88" y2="335" stroke="#333" stroke-width="2" />
<text x="82" y="342" font-family='"Liberation Sans",Arial,sans-serif' font-size="19.5" fill="#333" text-anchor="end" >120</text>
<text x="0" y="0" font-family='"Liberation Sans",Arial,sans-serif' font-size="26" fill="#333" text-anchor="middle" transform="translate(54.5,451) rotate(-90)"><tspan font-style="italic">Z</tspan>''/MΩ</text>
<text x="1036" y="612" font-family='"Liberation Sans",Arial,sans-serif' font-size="26" fill="#333" text-anchor="middle" ><tspan font-style="italic">Z</tspan>'/MΩ</text>
<line x1="88" y1="568" x2="88" y2="573" stroke="#333" stroke-width="2" />
<text x="88" y="594" font-family='"Liberation Sans",Arial,sans-serif' font-size="19.5" fill="#333" text-anchor="middle" >0</text>
<line x1="205.6" y1="568" x2="205.6" y2="573" stroke="#333" stroke-width="2" />
<text x="205.6" y="594" font-family='"Liberation Sans",Arial,sans-serif' font-size="19.5" fill="#333" text-anchor="middle" >60</text>
<line x1="323.2" y1="568" x2="323.2" y2="573" stroke="#333" stroke-width="2" />
<text x="323.2" y="594" font-family='"Liberation Sans",Arial,sans-serif' font-size="19.5" fill="#333" text-anchor="middle" >120</text>
<line x1="413.6" y1="568" x2="413.6" y2="573" stroke="#333" stroke-width="2" />
<text x="413.6" y="594" font-family='"Liberation Sans",Arial,sans-serif' font-size="19.5" fill="#333" text-anchor="middle" >0</text>
<line x1="532.2" y1="568" x2="532.2" y2="573" stroke="#333" stroke-width="2" />
<text x="532.2" y="594" font-family='"Liberation Sans",Arial,sans-serif' font-size="19.5" fill="#333" text-anchor="middle" >60</text>
<line x1="650.7" y1="568" x2="650.7" y2="573" stroke="#333" stroke-width="2" />
<text x="650.7" y="594" font-family='"Liberation Sans",Arial,sans-serif' font-size="19.5" fill="#333" text-anchor="middle" >120</text>
<line x1="750" y1="568" x2="750" y2="573" stroke="#333" stroke-width="2" />
<text x="750" y="594" font-family='"Liberation Sans",Arial,sans-serif' font-size="19.5" fill="#333" text-anchor="middle" >0</text>
<line x1="867.2" y1="568" x2="867.2" y2="573" stroke="#333" stroke-width="2" />
<text x="867.2" y="594" font-family='"Liberation Sans",Arial,sans-serif' font-size="19.5" fill="#333" text-anchor="middle" >60</text>
<line x1="984.5" y1="568" x2="984.5" y2="573" stroke="#333" stroke-width="2" />
<text x="984.5" y="594" font-family='"Liberation Sans",Arial,sans-serif' font-size="19.5" fill="#333" text-anchor="middle" >120</text>
<line x1="1086" y1="568" x2="1086" y2="573" stroke="#333" stroke-width="2" />
<text x="1086" y="594" font-family='"Liberation Sans",Arial,sans-serif' font-size="19.5" fill="#333" text-anchor="middle" >0</text>
<line x1="1203.6" y1="568" x2="1203.6" y2="573" stroke="#333" stroke-width="2" />
<text x="1203.6" y="594" font-family='"Liberation Sans",Arial,sans-serif' font-size="19.5" fill="#333" text-anchor="middle" >600</text>
<line x1="1321.2" y1="568" x2="1321.2" y2="573" stroke="#333" stroke-width="2" />
<text x="1321.2" y="594" font-family='"Liberation Sans",Arial,sans-serif' font-size="19.5" fill="#333" text-anchor="middle" >1200</text>
<line x1="1415.8" y1="568" x2="1415.8" y2="573" stroke="#333" stroke-width="2" />
<text x="1415.8" y="594" font-family='"Liberation Sans",Arial,sans-serif' font-size="19.5" fill="#333" text-anchor="middle" >0</text>
<line x1="1533.4" y1="568" x2="1533.4" y2="573" stroke="#333" stroke-width="2" />
<text x="1533.4" y="594" font-family='"Liberation Sans",Arial,sans-serif' font-size="19.5" fill="#333" text-anchor="middle" >60</text>
<line x1="1651" y1="568" x2="1651" y2="573" stroke="#333" stroke-width="2" />
<text x="1651" y="594" font-family='"Liberation Sans",Arial,sans-serif' font-size="19.5" fill="#333" text-anchor="middle" >120</text>
<line x1="1746.7" y1="568" x2="1746.7" y2="573" stroke="#333" stroke-width="2" />
<text x="1746.7" y="594" font-family='"Liberation Sans",Arial,sans-serif' font-size="19.5" fill="#333" text-anchor="middle" >0</text>
<line x1="1864.3" y1="568" x2="1864.3" y2="573" stroke="#333" stroke-width="2" />
<text x="1864.3" y="594" font-family='"Liberation Sans",Arial,sans-serif' font-size="19.5" fill="#333" text-anchor="middle" >60</text>
<line x1="1981.9" y1="568" x2="1981.9" y2="573" stroke="#333" stroke-width="2" />
<text x="1981.9" y="594" font-family='"Liberation Sans",Arial,sans-serif' font-size="19.5" fill="#333" text-anchor="middle" >120</text>
<text x="303" y="563" font-family='"Liberation Serif","Times New Roman",serif' font-size="36" fill="#333" text-anchor="middle" >I</text>
<text x="625" y="563" font-family='"Liberation Serif","Times New Roman",serif' font-size="36" fill="#333" text-anchor="middle" >II</text>
<text x="957" y="563" font-family='"Liberation Serif","Times New Roman",serif' font-size="36" fill="#333" text-anchor="middle" >III</text>
<text x="1289.7" y="563" font-family='"Liberation Serif","Times New Roman",serif' font-size="36" fill="#333" text-anchor="middle" >IV</text>
<text x="1623.5" y="563" font-family='"Liberation Serif","Times New Roman",serif' font-size="36" fill="#333" text-anchor="middle" >V</text>
<text x="1958" y="563" font-family='"Liberation Serif","Times New Roman",serif' font-size="36" fill="#333" text-anchor="middle" >VI</text>
<circle cx="95" cy="567" r="5" fill="none" stroke="#e2338c" stroke-width="2.4" />
<circle cx="95.3" cy="566.7" r="5" fill="none" stroke="#e2338c" stroke-width="2.4" />
<circle cx="95.6" cy="565.4" r="5" fill="none" stroke="#e2338c" stroke-width="2.4" />
<circle cx="96" cy="563.4" r="5" fill="none" stroke="#e2338c" stroke-width="2.4" />
<circle cx="96.4" cy="561.4" r="5" fill="none" stroke="#e2338c" stroke-width="2.4" />
<circle cx="97" cy="558.8" r="5" fill="none" stroke="#e2338c" stroke-width="2.4" />
<circle cx="97.9" cy="555.5" r="5" fill="none" stroke="#e2338c" stroke-width="2.4" />
<circle cx="99.2" cy="551.7" r="5" fill="none" stroke="#e2338c" stroke-width="2.4" />
<circle cx="101.3" cy="547.5" r="5" fill="none" stroke="#e2338c" stroke-width="2.4" />
<circle cx="104.4" cy="543.2" r="5" fill="none" stroke="#e2338c" stroke-width="2.4" />
<circle cx="108.8" cy="538.3" r="5" fill="none" stroke="#e2338c" stroke-width="2.4" />
<circle cx="115" cy="533.5" r="5" fill="none" stroke="#e2338c" stroke-width="2.4" />
<circle cx="122.1" cy="530.4" r="5" fill="none" stroke="#e2338c" stroke-width="2.4" />
<circle cx="129.6" cy="528.6" r="5" fill="none" stroke="#e2338c" stroke-width="2.4" />
<circle cx="138.7" cy="527.9" r="5" fill="none" stroke="#e2338c" stroke-width="2.4" />
<circle cx="147.7" cy="528.5" r="5" fill="none" stroke="#e2338c" stroke-width="2.4" />
<circle cx="156.5" cy="530.8" r="5" fill="none" stroke="#e2338c" stroke-width="2.4" />
<circle cx="165.1" cy="534" r="5" fill="none" stroke="#e2338c" stroke-width="2.4" />
<circle cx="172.4" cy="537.1" r="5" fill="none" stroke="#e2338c" stroke-width="2.4" />
<circle cx="179.6" cy="540.3" r="5" fill="none" stroke="#e2338c" stroke-width="2.4" />
<circle cx="185.6" cy="543.3" r="5" fill="none" stroke="#e2338c" stroke-width="2.4" />
<circle cx="190.3" cy="545.8" r="5" fill="none" stroke="#e2338c" stroke-width="2.4" />
<circle cx="193.8" cy="547.7" r="5" fill="none" stroke="#e2338c" stroke-width="2.4" />
<circle cx="196.8" cy="549.3" r="5" fill="none" stroke="#e2338c" stroke-width="2.4" />
<circle cx="199.7" cy="550.9" r="5" fill="none" stroke="#e2338c" stroke-width="2.4" />
<circle cx="271.9" cy="428" r="5" fill="none" stroke="#e2338c" stroke-width="2.4" />
<circle cx="253.3" cy="458" r="5" fill="none" stroke="#e2338c" stroke-width="2.4" />
<circle cx="239.9" cy="485.9" r="5" fill="none" stroke="#e2338c" stroke-width="2.4" />
<circle cx="228.9" cy="506.3" r="5" fill="none" stroke="#e2338c" stroke-width="2.4" />
<circle cx="219.1" cy="520" r="5" fill="none" stroke="#e2338c" stroke-width="2.4" />
<circle cx="215.2" cy="533.6" r="5" fill="none" stroke="#e2338c" stroke-width="2.4" />
<circle cx="203.7" cy="542.6" r="5" fill="none" stroke="#e2338c" stroke-width="2.4" />
<path d="M95,568C96,564.8 97.3,554.5 101.1,548.8C104.9,543 110.5,536.6 118,533.4C125.4,530.1 136.4,528.7 146,529.5C155.6,530.3 166.6,535.2 175.5,538.4C184.5,541.7 195.7,547.2 199.7,548.9" fill="none" stroke="#3b66b0" stroke-width="2" />
<path d="M199.7,548.9C200.2,548.9 201.1,549.2 202.6,548.9C204,548.6 206.4,548 208.4,546.9C210.4,545.8 212.5,544.3 214.6,542.4C216.6,540.4 218.7,538.1 220.9,535.3C223,532.4 225.2,529.2 227.4,525.5C229.7,521.9 231.9,517.8 234.2,513.3C236.5,508.7 238.9,503.8 241.2,498.4C243.6,493 246,487.2 248.4,480.9C250.9,474.7 253.4,468 255.9,460.9C258.4,453.8 261.6,444.1 263.6,438.3C265.5,432.5 266.8,428 267.5,426" fill="none" stroke="#3b66b0" stroke-width="2" />
<circle cx="414.5" cy="567" r="5" fill="none" stroke="#e2338c" stroke-width="2.4" />
<circle cx="414.8" cy="566.9" r="5" fill="none" stroke="#e2338c" stroke-width="2.4" />
<circle cx="415" cy="565.8" r="5" fill="none" stroke="#e2338c" stroke-width="2.4" />
<circle cx="415.4" cy="564.2" r="5" fill="none" stroke="#e2338c" stroke-width="2.4" />
<circle cx="415.7" cy="562.6" r="5" fill="none" stroke="#e2338c" stroke-width="2.4" />
<circle cx="416.2" cy="560.4" r="5" fill="none" stroke="#e2338c" stroke-width="2.4" />
<circle cx="416.9" cy="557.7" r="5" fill="none" stroke="#e2338c" stroke-width="2.4" />
<circle cx="418" cy="554.6" r="5" fill="none" stroke="#e2338c" stroke-width="2.4" />
<circle cx="419.8" cy="551.3" r="5" fill="none" stroke="#e2338c" stroke-width="2.4" />
<circle cx="422.3" cy="547.8" r="5" fill="none" stroke="#e2338c" stroke-width="2.4" />
<circle cx="425.8" cy="543.9" r="5" fill="none" stroke="#e2338c" stroke-width="2.4" />
<circle cx="430.8" cy="540.2" r="5" fill="none" stroke="#e2338c" stroke-width="2.4" />
<circle cx="436.3" cy="537.8" r="5" fill="none" stroke="#e2338c" stroke-width="2.4" />
<circle cx="442.2" cy="536.6" r="5" fill="none" stroke="#e2338c" stroke-width="2.4" />
<circle cx="449.1" cy="536.1" r="5" fill="none" stroke="#e2338c" stroke-width="2.4" />
<circle cx="456.1" cy="536.7" r="5" fill="none" stroke="#e2338c" stroke-width="2.4" />
<circle cx="463" cy="538.6" r="5" fill="none" stroke="#e2338c" stroke-width="2.4" />
<circle cx="469.6" cy="541.5" r="5" fill="none" stroke="#e2338c" stroke-width="2.4" />
<circle cx="475.2" cy="544.3" r="5" fill="none" stroke="#e2338c" stroke-width="2.4" />
<circle cx="480.8" cy="547.2" r="5" fill="none" stroke="#e2338c" stroke-width="2.4" />
<circle cx="485.4" cy="549.9" r="5" fill="none" stroke="#e2338c" stroke-width="2.4" />
<circle cx="489" cy="552.2" r="5" fill="none" stroke="#e2338c" stroke-width="2.4" />
<circle cx="491.8" cy="553.9" r="5" fill="none" stroke="#e2338c" stroke-width="2.4" />
<circle cx="494" cy="555.3" r="5" fill="none" stroke="#e2338c" stroke-width="2.4" />
<circle cx="496.3" cy="556.7" r="5" fill="none" stroke="#e2338c" stroke-width="2.4" />
<circle cx="508" cy="542.6" r="5" fill="none" stroke="#e2338c" stroke-width="2.4" />
<circle cx="515.4" cy="529.8" r="5" fill="none" stroke="#e2338c" stroke-width="2.4" />
<circle cx="528.3" cy="516" r="5" fill="none" stroke="#e2338c" stroke-width="2.4" />
<circle cx="540.4" cy="496" r="5" fill="none" stroke="#e2338c" stroke-width="2.4" />
<circle cx="559.5" cy="473.5" r="5" fill="none" stroke="#e2338c" stroke-width="2.4" />
<circle cx="576.5" cy="448" r="5" fill="none" stroke="#e2338c" stroke-width="2.4" />
<circle cx="603" cy="408.5" r="5" fill="none" stroke="#e2338c" stroke-width="2.4" />
<circle cx="635" cy="363.6" r="5" fill="none" stroke="#e2338c" stroke-width="2.4" />
<path d="M414.5,568C415.3,565.6 416.4,557.9 419.5,553.5C422.6,549.1 427.1,544.3 433.1,541.9C439.2,539.5 448.4,538.4 455.9,539C463.4,539.6 471.4,543.3 478.1,545.8C484.9,548.2 493.3,552.4 496.3,553.7" fill="none" stroke="#3b66b0" stroke-width="2" />
<path d="M496.3,553.7C497,553.7 498.2,554.3 500.3,553.8C502.4,553.4 506,552.6 509.1,551C512.2,549.4 515.5,547.2 519,544.2C522.4,541.3 526.1,537.7 529.9,533.4C533.7,529.1 537.7,524.1 541.9,518.5C546.1,512.8 550.4,506.5 554.9,499.5C559.5,492.5 564.2,484.9 569,476.5C573.9,468.2 579,459.2 584.2,449.5C589.5,439.8 594.9,429.5 600.5,418.5C606,407.4 613.4,392.4 617.8,383.4C622.1,374.3 625.3,367.5 626.8,364.3" fill="none" stroke="#3b66b0" stroke-width="2" />
<circle cx="752" cy="567" r="5" fill="none" stroke="#e2338c" stroke-width="2.4" />
<circle cx="752.4" cy="566.8" r="5" fill="none" stroke="#e2338c" stroke-width="2.4" />
<circle cx="752.7" cy="565.5" r="5" fill="none" stroke="#e2338c" stroke-width="2.4" />
<circle cx="753.2" cy="563.6" r="5" fill="none" stroke="#e2338c" stroke-width="2.4" />
<circle cx="753.7" cy="561.7" r="5" fill="none" stroke="#e2338c" stroke-width="2.4" />
<circle cx="754.4" cy="559.2" r="5" fill="none" stroke="#e2338c" stroke-width="2.4" />
<circle cx="755.4" cy="556.1" r="5" fill="none" stroke="#e2338c" stroke-width="2.4" />
<circle cx="756.9" cy="552.5" r="5" fill="none" stroke="#e2338c" stroke-width="2.4" />
<circle cx="759.4" cy="548.8" r="5" fill="none" stroke="#e2338c" stroke-width="2.4" />
<circle cx="762.7" cy="544.9" r="5" fill="none" stroke="#e2338c" stroke-width="2.4" />
<circle cx="767.3" cy="540.6" r="5" fill="none" stroke="#e2338c" stroke-width="2.4" />
<circle cx="773.6" cy="536.6" r="5" fill="none" stroke="#e2338c" stroke-width="2.4" />
<circle cx="780.5" cy="534" r="5" fill="none" stroke="#e2338c" stroke-width="2.4" />
<circle cx="787.7" cy="532.4" r="5" fill="none" stroke="#e2338c" stroke-width="2.4" />
<circle cx="796.3" cy="531.6" r="5" fill="none" stroke="#e2338c" stroke-width="2.4" />
<circle cx="804.9" cy="531.7" r="5" fill="none" stroke="#e2338c" stroke-width="2.4" />
<circle cx="813.4" cy="533.2" r="5" fill="none" stroke="#e2338c" stroke-width="2.4" />
<circle cx="821.6" cy="536.3" r="5" fill="none" stroke="#e2338c" stroke-width="2.4" />
<circle cx="828.4" cy="539.6" r="5" fill="none" stroke="#e2338c" stroke-width="2.4" />
<circle cx="835.2" cy="544.1" r="5" fill="none" stroke="#e2338c" stroke-width="2.4" />
<circle cx="840.8" cy="548.9" r="5" fill="none" stroke="#e2338c" stroke-width="2.4" />
<circle cx="845.2" cy="552.8" r="5" fill="none" stroke="#e2338c" stroke-width="2.4" />
<circle cx="848.5" cy="555.8" r="5" fill="none" stroke="#e2338c" stroke-width="2.4" />
<circle cx="851.2" cy="558.3" r="5" fill="none" stroke="#e2338c" stroke-width="2.4" />
<circle cx="854" cy="560.8" r="5" fill="none" stroke="#e2338c" stroke-width="2.4" />
<circle cx="867" cy="559" r="5" fill="none" stroke="#e2338c" stroke-width="2.4" />
<circle cx="875" cy="553.7" r="5" fill="none" stroke="#e2338c" stroke-width="2.4" />
<circle cx="885.3" cy="547" r="5" fill="none" stroke="#e2338c" stroke-width="2.4" />
<circle cx="895.6" cy="539.7" r="5" fill="none" stroke="#e2338c" stroke-width="2.4" />
<circle cx="907.4" cy="528.7" r="5" fill="none" stroke="#e2338c" stroke-width="2.4" />
<circle cx="918.4" cy="516" r="5" fill="none" stroke="#e2338c" stroke-width="2.4" />
<circle cx="931" cy="501" r="5" fill="none" stroke="#e2338c" stroke-width="2.4" />
<path d="M752,568C753.1,565.1 754.5,555.9 758.7,550.8C762.9,545.6 769,539.8 777.2,537C785.4,534.1 798.6,532.7 808,533.5C817.4,534.3 825.6,538.9 833.3,542C841,545 850.5,550.2 854,551.8" fill="none" stroke="#3b66b0" stroke-width="2" />
<path d="M854,551.8C854.4,551.8 855.3,552.1 856.7,552.1C858,552.1 860.4,552.1 862.3,551.8C864.3,551.4 866.3,551 868.4,550.3C870.6,549.6 872.7,548.7 875,547.6C877.3,546.5 879.6,545.3 882.1,543.8C884.5,542.3 887,540.7 889.6,538.8C892.1,537 894.8,534.9 897.5,532.7C900.2,530.4 903.1,528 905.9,525.4C908.8,522.7 911.8,519.9 914.8,516.9C917.9,513.9 921.8,509.7 924.2,507.3C926.5,504.8 928.2,502.9 929,502" fill="none" stroke="#3b66b0" stroke-width="2" />
<circle cx="1087" cy="567" r="5" fill="none" stroke="#e2338c" stroke-width="2.4" />
<circle cx="1087.1" cy="567" r="5" fill="none" stroke="#e2338c" stroke-width="2.4" />
<circle cx="1087.3" cy="567" r="5" fill="none" stroke="#e2338c" stroke-width="2.4" />
<circle cx="1087.4" cy="566.2" r="5" fill="none" stroke="#e2338c" stroke-width="2.4" />
<circle cx="1087.6" cy="565.4" r="5" fill="none" stroke="#e2338c" stroke-width="2.4" />
<circle cx="1087.8" cy="564.4" r="5" fill="none" stroke="#e2338c" stroke-width="2.4" />
<circle cx="1088.2" cy="563.1" r="5" fill="none" stroke="#e2338c" stroke-width="2.4" />
<circle cx="1088.8" cy="561.6" r="5" fill="none" stroke="#e2338c" stroke-width="2.4" />
<circle cx="1089.6" cy="560.1" r="5" fill="none" stroke="#e2338c" stroke-width="2.4" />
<circle cx="1090.9" cy="558.4" r="5" fill="none" stroke="#e2338c" stroke-width="2.4" />
<circle cx="1092.6" cy="556.6" r="5" fill="none" stroke="#e2338c" stroke-width="2.4" />
<circle cx="1095.1" cy="554.8" r="5" fill="none" stroke="#e2338c" stroke-width="2.4" />
<circle cx="1097.8" cy="553.6" r="5" fill="none" stroke="#e2338c" stroke-width="2.4" />
<circle cx="1100.7" cy="553.1" r="5" fill="none" stroke="#e2338c" stroke-width="2.4" />
<circle cx="1104.1" cy="552.8" r="5" fill="none" stroke="#e2338c" stroke-width="2.4" />
<circle cx="1107.6" cy="552.9" r="5" fill="none" stroke="#e2338c" stroke-width="2.4" />
<circle cx="1111" cy="553.5" r="5" fill="none" stroke="#e2338c" stroke-width="2.4" />
<circle cx="1114.3" cy="554.5" r="5" fill="none" stroke="#e2338c" stroke-width="2.4" />
<circle cx="1117.2" cy="555.5" r="5" fill="none" stroke="#e2338c" stroke-width="2.4" />
<circle cx="1120.1" cy="556.7" r="5" fill="none" stroke="#e2338c" stroke-width="2.4" />
<circle cx="1122.4" cy="557.9" r="5" fill="none" stroke="#e2338c" stroke-width="2.4" />
<circle cx="1124.3" cy="558.9" r="5" fill="none" stroke="#e2338c" stroke-width="2.4" />
<circle cx="1125.7" cy="559.7" r="5" fill="none" stroke="#e2338c" stroke-width="2.4" />
<circle cx="1126.8" cy="560.4" r="5" fill="none" stroke="#e2338c" stroke-width="2.4" />
<circle cx="1128" cy="561" r="5" fill="none" stroke="#e2338c" stroke-width="2.4" />
<circle cx="1137" cy="551.8" r="5" fill="none" stroke="#e2338c" stroke-width="2.4" />
<circle cx="1142.6" cy="542.6" r="5" fill="none" stroke="#e2338c" stroke-width="2.4" />
<circle cx="1155.5" cy="526" r="5" fill="none" stroke="#e2338c" stroke-width="2.4" />
<circle cx="1171.3" cy="508.5" r="5" fill="none" stroke="#e2338c" stroke-width="2.4" />
<path d="M1087,568C1087.4,566.8 1087.9,563 1089.5,560.9C1091,558.7 1093.3,556.3 1096.3,555.1C1099.4,553.9 1103.9,553.5 1107.7,553.7C1111.5,553.9 1115.5,555.2 1118.9,556.1C1122.2,556.9 1126.5,558.5 1128,559" fill="none" stroke="#3b66b0" stroke-width="2" />
<path d="M1128,559C1128.3,559 1128.8,559 1129.7,558.8C1130.6,558.6 1132.1,558.2 1133.3,557.6C1134.5,557.1 1135.7,556.4 1137,555.6C1138.2,554.7 1139.5,553.7 1140.8,552.5C1142.1,551.4 1143.5,550.1 1144.8,548.6C1146.2,547.1 1147.6,545.5 1149,543.7C1150.4,541.9 1151.8,539.9 1153.3,537.8C1154.7,535.7 1156.2,533.5 1157.7,531.1C1159.2,528.6 1160.8,526.1 1162.3,523.3C1163.9,520.6 1165.9,516.9 1167.1,514.7C1168.3,512.5 1169.1,510.8 1169.5,510" fill="none" stroke="#3b66b0" stroke-width="2" />
<circle cx="1417" cy="567" r="5" fill="none" stroke="#e2338c" stroke-width="2.4" />
<circle cx="1417.3" cy="566.8" r="5" fill="none" stroke="#e2338c" stroke-width="2.4" />
<circle cx="1417.5" cy="565.7" r="5" fill="none" stroke="#e2338c" stroke-width="2.4" />
<circle cx="1417.9" cy="563.9" r="5" fill="none" stroke="#e2338c" stroke-width="2.4" />
<circle cx="1418.2" cy="562.2" r="5" fill="none" stroke="#e2338c" stroke-width="2.4" />
<circle cx="1418.8" cy="559.9" r="5" fill="none" stroke="#e2338c" stroke-width="2.4" />
<circle cx="1419.5" cy="557" r="5" fill="none" stroke="#e2338c" stroke-width="2.4" />
<circle cx="1420.6" cy="553.6" r="5" fill="none" stroke="#e2338c" stroke-width="2.4" />
<circle cx="1422.3" cy="549.9" r="5" fill="none" stroke="#e2338c" stroke-width="2.4" />
<circle cx="1425" cy="546" r="5" fill="none" stroke="#e2338c" stroke-width="2.4" />
<circle cx="1428.7" cy="541.6" r="5" fill="none" stroke="#e2338c" stroke-width="2.4" />
<circle cx="1434" cy="537.2" r="5" fill="none" stroke="#e2338c" stroke-width="2.4" />
<circle cx="1440.1" cy="534.3" r="5" fill="none" stroke="#e2338c" stroke-width="2.4" />
<circle cx="1446.7" cy="532.6" r="5" fill="none" stroke="#e2338c" stroke-width="2.4" />
<circle cx="1454.6" cy="531.8" r="5" fill="none" stroke="#e2338c" stroke-width="2.4" />
<circle cx="1462.4" cy="532.4" r="5" fill="none" stroke="#e2338c" stroke-width="2.4" />
<circle cx="1470" cy="534.9" r="5" fill="none" stroke="#e2338c" stroke-width="2.4" />
<circle cx="1477.2" cy="538.5" r="5" fill="none" stroke="#e2338c" stroke-width="2.4" />
<circle cx="1483.3" cy="542" r="5" fill="none" stroke="#e2338c" stroke-width="2.4" />
<circle cx="1489.3" cy="545.7" r="5" fill="none" stroke="#e2338c" stroke-width="2.4" />
<circle cx="1494.3" cy="549.2" r="5" fill="none" stroke="#e2338c" stroke-width="2.4" />
<circle cx="1498.2" cy="552.1" r="5" fill="none" stroke="#e2338c" stroke-width="2.4" />
<circle cx="1501.1" cy="554.3" r="5" fill="none" stroke="#e2338c" stroke-width="2.4" />
<circle cx="1503.5" cy="556.2" r="5" fill="none" stroke="#e2338c" stroke-width="2.4" />
<circle cx="1505.9" cy="558" r="5" fill="none" stroke="#e2338c" stroke-width="2.4" />
<circle cx="1520" cy="556" r="5" fill="none" stroke="#e2338c" stroke-width="2.4" />
<circle cx="1528" cy="551" r="5" fill="none" stroke="#e2338c" stroke-width="2.4" />
<circle cx="1537" cy="544" r="5" fill="none" stroke="#e2338c" stroke-width="2.4" />
<circle cx="1545.6" cy="536.4" r="5" fill="none" stroke="#e2338c" stroke-width="2.4" />
<circle cx="1554.8" cy="528" r="5" fill="none" stroke="#e2338c" stroke-width="2.4" />
<circle cx="1566.5" cy="518" r="5" fill="none" stroke="#e2338c" stroke-width="2.4" />
<circle cx="1578.7" cy="503.3" r="5" fill="none" stroke="#e2338c" stroke-width="2.4" />
<path d="M1417,568C1417.9,565.1 1419,555.9 1422.4,550.8C1425.7,545.6 1430.6,539.8 1437.2,537C1443.7,534.1 1453.7,532.4 1461.8,533.5C1469.9,534.6 1478.7,540 1486.1,543.6C1493.4,547.1 1502.6,553.1 1505.9,555" fill="none" stroke="#3b66b0" stroke-width="2" />
<path d="M1505.9,555C1506.4,555 1507.3,555.1 1508.8,554.9C1510.3,554.7 1512.9,554.4 1514.9,553.9C1517,553.4 1519.1,552.7 1521.3,551.9C1523.5,551 1525.7,550 1527.9,548.9C1530.2,547.7 1532.5,546.4 1534.8,544.9C1537.1,543.4 1539.5,541.7 1542,539.9C1544.4,538 1546.9,536 1549.4,533.9C1551.9,531.7 1554.5,529.4 1557.1,526.9C1559.7,524.4 1562.4,521.7 1565.1,518.9C1567.8,516 1571.2,512.2 1573.3,509.9C1575.4,507.6 1576.8,505.8 1577.5,505" fill="none" stroke="#3b66b0" stroke-width="2" />
<circle cx="1748" cy="567" r="5" fill="none" stroke="#e2338c" stroke-width="2.4" />
<circle cx="1748.5" cy="566.2" r="5" fill="none" stroke="#e2338c" stroke-width="2.4" />
<circle cx="1748.9" cy="564.4" r="5" fill="none" stroke="#e2338c" stroke-width="2.4" />
<circle cx="1749.4" cy="561.7" r="5" fill="none" stroke="#e2338c" stroke-width="2.4" />
<circle cx="1750" cy="559" r="5" fill="none" stroke="#e2338c" stroke-width="2.4" />
<circle cx="1750.9" cy="555.3" r="5" fill="none" stroke="#e2338c" stroke-width="2.4" />
<circle cx="1752.1" cy="550.9" r="5" fill="none" stroke="#e2338c" stroke-width="2.4" />
<circle cx="1754.1" cy="545.7" r="5" fill="none" stroke="#e2338c" stroke-width="2.4" />
<circle cx="1757.3" cy="540.2" r="5" fill="none" stroke="#e2338c" stroke-width="2.4" />
<circle cx="1761.6" cy="534.4" r="5" fill="none" stroke="#e2338c" stroke-width="2.4" />
<circle cx="1767.9" cy="528" r="5" fill="none" stroke="#e2338c" stroke-width="2.4" />
<circle cx="1776.7" cy="522.1" r="5" fill="none" stroke="#e2338c" stroke-width="2.4" />
<circle cx="1786.5" cy="518.5" r="5" fill="none" stroke="#e2338c" stroke-width="2.4" />
<circle cx="1796.8" cy="516.5" r="5" fill="none" stroke="#e2338c" stroke-width="2.4" />
<circle cx="1808.9" cy="516.2" r="5" fill="none" stroke="#e2338c" stroke-width="2.4" />
<circle cx="1820.9" cy="518.5" r="5" fill="none" stroke="#e2338c" stroke-width="2.4" />
<circle cx="1832.4" cy="523.2" r="5" fill="none" stroke="#e2338c" stroke-width="2.4" />
<circle cx="1843.4" cy="529" r="5" fill="none" stroke="#e2338c" stroke-width="2.4" />
<circle cx="1852.8" cy="534.2" r="5" fill="none" stroke="#e2338c" stroke-width="2.4" />
<circle cx="1862.2" cy="540.2" r="5" fill="none" stroke="#e2338c" stroke-width="2.4" />
<circle cx="1869.9" cy="545.9" r="5" fill="none" stroke="#e2338c" stroke-width="2.4" />
<circle cx="1875.9" cy="550.7" r="5" fill="none" stroke="#e2338c" stroke-width="2.4" />
<circle cx="1880.5" cy="554.2" r="5" fill="none" stroke="#e2338c" stroke-width="2.4" />
<circle cx="1884.2" cy="557.2" r="5" fill="none" stroke="#e2338c" stroke-width="2.4" />
<circle cx="1888" cy="560.2" r="5" fill="none" stroke="#e2338c" stroke-width="2.4" />
<circle cx="1897.4" cy="560" r="5" fill="none" stroke="#e2338c" stroke-width="2.4" />
<circle cx="1906.6" cy="556.6" r="5" fill="none" stroke="#e2338c" stroke-width="2.4" />
<circle cx="1917.6" cy="552" r="5" fill="none" stroke="#e2338c" stroke-width="2.4" />
<circle cx="1931.6" cy="544.5" r="5" fill="none" stroke="#e2338c" stroke-width="2.4" />
<circle cx="1949" cy="531.6" r="5" fill="none" stroke="#e2338c" stroke-width="2.4" />
<circle cx="1968.4" cy="516" r="5" fill="none" stroke="#e2338c" stroke-width="2.4" />
<path d="M1748,568C1749.3,564 1751,551 1756,543.8C1761,536.5 1768.2,528.4 1778,524.4C1787.8,520.3 1801.9,517.6 1814.7,519.5C1827.5,521.4 1842.8,529.9 1855,535.6C1867.2,541.3 1882.5,550.7 1888,553.7" fill="none" stroke="#3b66b0" stroke-width="2" />
<path d="M1888,553.7C1888.5,553.7 1889.6,553.9 1891.2,553.8C1892.9,553.8 1895.6,553.7 1897.9,553.5C1900.2,553.2 1902.5,552.8 1904.9,552.3C1907.2,551.8 1909.7,551.2 1912.1,550.4C1914.6,549.6 1917.1,548.7 1919.6,547.6C1922.2,546.6 1924.8,545.4 1927.4,544C1930.1,542.7 1932.8,541.3 1935.5,539.7C1938.3,538.1 1941,536.3 1943.9,534.5C1946.7,532.6 1949.6,530.6 1952.5,528.5C1955.4,526.4 1959.2,523.4 1961.4,521.7C1963.7,520 1965.2,518.6 1966,518" fill="none" stroke="#3b66b0" stroke-width="2" />
<text x="117" y="494" font-family='"Liberation Sans",Arial,sans-serif' font-size="28" fill="#333" >~24 Hz</text>
<line x1="162.7" y1="496.9" x2="144.6" y2="522.9" stroke="#333" stroke-width="1.6" />
<line x1="144.6" y1="522.9" x2="154.2" y2="517.5" stroke="#333" stroke-width="1.6" />
<line x1="144.6" y1="522.9" x2="146.3" y2="512" stroke="#333" stroke-width="1.6" />
<text x="400" y="493" font-family='"Liberation Sans",Arial,sans-serif' font-size="28" fill="#333" >~24 Hz</text>
<line x1="447" y1="496" x2="428" y2="532" stroke="#333" stroke-width="1.6" />
<line x1="428" y1="532" x2="436.9" y2="525.5" stroke="#333" stroke-width="1.6" />
<line x1="428" y1="532" x2="428.4" y2="521" stroke="#333" stroke-width="1.6" />
<text x="785" y="489" font-family='"Liberation Sans",Arial,sans-serif' font-size="28" fill="#333" >~36 Hz</text>
<line x1="818" y1="503" x2="808" y2="530" stroke="#333" stroke-width="1.6" />
<line x1="808" y1="530" x2="815.9" y2="522.4" stroke="#333" stroke-width="1.6" />
<line x1="808" y1="530" x2="807" y2="519" stroke="#333" stroke-width="1.6" />
<text x="1079" y="489" font-family='"Liberation Sans",Arial,sans-serif' font-size="28" fill="#333" >~24 Hz</text>
<line x1="1127" y1="505" x2="1109" y2="545" stroke="#333" stroke-width="1.6" />
<line x1="1109" y1="545" x2="1117.4" y2="537.9" stroke="#333" stroke-width="1.6" />
<line x1="1109" y1="545" x2="1108.7" y2="534" stroke="#333" stroke-width="1.6" />
<text x="1434" y="485" font-family='"Liberation Sans",Arial,sans-serif' font-size="28" fill="#333" >~36 Hz</text>
<line x1="1478" y1="490" x2="1462" y2="525" stroke="#333" stroke-width="1.6" />
<line x1="1462" y1="525" x2="1470.5" y2="518" stroke="#333" stroke-width="1.6" />
<line x1="1462" y1="525" x2="1461.8" y2="514" stroke="#333" stroke-width="1.6" />
<text x="1788" y="480" font-family='"Liberation Sans",Arial,sans-serif' font-size="28" fill="#333" >~24 Hz</text>
<line x1="1831" y1="486" x2="1816" y2="512" stroke="#333" stroke-width="1.6" />
<line x1="1816" y1="512" x2="1825.1" y2="505.8" stroke="#333" stroke-width="1.6" />
<line x1="1816" y1="512" x2="1816.8" y2="501" stroke="#333" stroke-width="1.6" />
<text x="1540" y="371" font-family='"Liberation Sans",Arial,sans-serif' font-size="29.4" fill="#8b3a2e" >Charge transfer resistance (<tspan font-style="italic">R</tspan><tspan font-size="20.5" dy="5">CT</tspan><tspan dy="-5">)</tspan></text>
<circle cx="1779" cy="404.8" r="9.5" fill="none" stroke="#e2338c" stroke-width="4.5" />
<text x="1816.5" y="413" font-family='"Liberation Sans",Arial,sans-serif' font-size="26.4" fill="#111" stroke="#111" stroke-width="0.3">Measure EIS</text>
<line x1="1748.5" y1="437" x2="1810" y2="437" stroke="#3b66b0" stroke-width="4" />
<text x="1816.5" y="445.5" font-family='"Liberation Sans",Arial,sans-serif' font-size="26.4" fill="#111" stroke="#111" stroke-width="0.3">Fited EIS</text>
<line x1="915" y1="409.4" x2="927.2" y2="409.4" stroke="#444" stroke-width="1.8" />
<polyline points="927.2,409.4 934.9,398.9 941,424.7 951.5,397.1 958.5,424.7 964,408.5 976.5,408.5" fill="none" stroke="#444" stroke-width="1.8" />
<line x1="976.5" y1="387.9" x2="976.5" y2="429.5" stroke="#444" stroke-width="1.8" />
<line x1="1052.6" y1="387" x2="1052.6" y2="429" stroke="#444" stroke-width="1.8" />
<polyline points="976.5,387.9 997,387.9 1005.9,376.9 1011.4,402.1 1022.4,375.6 1029.2,402.1 1033.8,387 1052.6,387" fill="none" stroke="#444" stroke-width="1.8" />
<line x1="976.5" y1="429.5" x2="1004.4" y2="429.5" stroke="#444" stroke-width="1.8" />
<line x1="1018.8" y1="428.8" x2="1052.6" y2="428.8" stroke="#444" stroke-width="1.8" />
<polyline points="1010.8,416.4 1004.4,428.3 1011.8,443" fill="none" stroke="#444" stroke-width="1.8" />
<polyline points="1025.5,416.4 1018.8,428.3 1027.4,443" fill="none" stroke="#444" stroke-width="1.8" />
<line x1="1052.6" y1="408.5" x2="1072" y2="408.5" stroke="#444" stroke-width="1.8" />
<rect x="1072" y="392.6" width="64.4" height="30.6" fill="none" stroke="#444" stroke-width="1.8" />
<text x="1104.2" y="418" font-family='"Liberation Sans",Arial,sans-serif' font-size="26" fill="#444" text-anchor="middle" >W</text>
<line x1="1136.4" y1="408.5" x2="1155" y2="408.5" stroke="#444" stroke-width="1.8" />
<text x="934.6" y="388.8" font-family='"Liberation Sans",Arial,sans-serif' font-size="26" fill="#444" ><tspan font-style="italic">R</tspan><tspan font-size="18" dy="3.7">s</tspan></text>
<text x="997" y="369" font-family='"Liberation Sans",Arial,sans-serif' font-size="26" fill="#444" ><tspan font-style="italic">R</tspan><tspan font-size="18" dy="4.2">CT</tspan></text>
<text x="979.6" y="464.2" font-family='"Liberation Sans",Arial,sans-serif' font-size="26" fill="#444" >CPE<tspan font-size="18" dy="3.7">CT</tspan></text>
<defs><filter id="blur2"><feGaussianBlur stdDeviation="2"/></filter><filter id="blur1"><feGaussianBlur stdDeviation="1"/></filter>
<filter id="tnoise2" x="0" y="0" width="100%" height="100%"><feTurbulence type="fractalNoise" baseFrequency="0.6" numOctaves="2" seed="11"/><feColorMatrix type="matrix" values="0 0 0 0 0  0 0 0 0 0  0 0 0 0 0  -1.5 0 0 0 0.9"/></filter></defs>
<rect x="101.1" y="345.1" width="117.8" height="119.5" fill="#d8d8d8" stroke="none" stroke-width="1" />
<rect x="101.1" y="345.1" width="117.8" height="119.5" fill="#000" stroke="none" stroke-width="1" filter="url(#tnoise2)" opacity="0.12"/>
<path d="M126.4,377.5C129.6,373.5 137.2,366 142.8,363.9C148.4,361.8 154.3,363.5 160,365C165.7,366.5 171.2,369 176.9,372.8C182.6,376.6 190.1,381.9 194,387.8C197.9,393.7 199.1,401.5 200.1,408.3C201.1,415.1 201.7,421.9 200.1,428.7C198.5,435.5 196.7,444 190.6,449.2C184.5,454.4 171.8,459 163.3,460.1C154.8,461.2 145.7,459.5 139.4,456C133.1,452.5 128.7,446.9 125.7,439C122.7,431.1 121.9,416.8 121.6,408.3C121.3,399.8 122.9,392.9 123.7,387.8C124.5,382.7 123.2,381.5 126.4,377.5Z" fill="none" stroke="#f4f4f4" stroke-width="3" filter="url(#blur1)"/>
<path d="M126.4,377.5C129.6,373.5 137.2,366 142.8,363.9C148.4,361.8 154.3,363.5 160,365C165.7,366.5 171.2,369 176.9,372.8C182.6,376.6 190.1,381.9 194,387.8C197.9,393.7 199.1,401.5 200.1,408.3C201.1,415.1 201.7,421.9 200.1,428.7C198.5,435.5 196.7,444 190.6,449.2C184.5,454.4 171.8,459 163.3,460.1C154.8,461.2 145.7,459.5 139.4,456C133.1,452.5 128.7,446.9 125.7,439C122.7,431.1 121.9,416.8 121.6,408.3C121.3,399.8 122.9,392.9 123.7,387.8C124.5,382.7 123.2,381.5 126.4,377.5Z" fill="#423e41" stroke="none" stroke-width="1" />
<ellipse cx="142" cy="392" rx="17" ry="24" fill="#5e5a5d" filter="url(#blur2)" transform="rotate(30 142 392)"/>
<ellipse cx="185" cy="445" rx="10" ry="6" fill="#6a6669" filter="url(#blur2)"/>
<ellipse cx="168" cy="420" rx="20" ry="22" fill="#383437" filter="url(#blur2)"/>
<polygon points="140,345.1 153.7,345.1 161,377 156,378" fill="#2e2b2d" stroke="none" stroke-width="1" />
<line x1="105.2" y1="459.8" x2="123.7" y2="459.8" stroke="#333" stroke-width="3.6" />
<defs>
<filter id="b3" x="-20%" y="-20%" width="140%" height="140%"><feGaussianBlur stdDeviation="3"/></filter>
<filter id="b5" x="-20%" y="-20%" width="140%" height="140%"><feGaussianBlur stdDeviation="5"/></filter>
<filter id="b8" x="-30%" y="-30%" width="160%" height="160%"><feGaussianBlur stdDeviation="8"/></filter>
<filter id="b1" x="-20%" y="-20%" width="140%" height="140%"><feGaussianBlur stdDeviation="1.2"/></filter>
<filter id="gd" x="0" y="0" width="100%" height="100%"><feTurbulence type="fractalNoise" baseFrequency="0.45" numOctaves="2" seed="5"/><feColorMatrix type="matrix" values="0 0 0 0 0  0 0 0 0 0  0 0 0 0 0  0.5 0 0 0 -0.25"/></filter>
<filter id="gl" x="0" y="0" width="100%" height="100%"><feTurbulence type="fractalNoise" baseFrequency="0.45" numOctaves="2" seed="5"/><feColorMatrix type="matrix" values="0 0 0 0 1  0 0 0 0 1  0 0 0 0 1  -0.5 0 0 0 0.25"/></filter>
</defs>
<text x="5.5" y="674.3" font-family='"Liberation Sans",Arial,sans-serif' font-size="44" fill="#111" font-weight="bold" >c</text>
<path d="M177.6,668.7C183.2,668 192.3,667.1 199.7,669.4C207.1,671.7 216.2,677.7 221.8,682.6C227.4,687.5 229.1,692.9 233.5,698.8C237.9,704.7 242.8,711.9 248.2,718C253.6,724.1 261.7,730 265.9,735.6C270.1,741.2 270.8,746.2 273.2,751.8C275.6,757.4 277.4,762.3 280.6,769.4C283.8,776.5 288.5,785.3 292.4,794.4C296.3,803.5 301.3,814 304,823.8C306.7,833.6 309,845.4 308.5,853C308,860.6 305.2,864.5 301,869.4C296.8,874.3 289.4,879.7 283.5,882.6C277.6,885.5 272.5,887.3 265.9,887C259.3,886.7 252.4,883.9 243.8,881C235.2,878.1 223,872.1 214.4,869.4C205.8,866.7 199,866.5 192.4,865C185.8,863.5 181.6,863.1 174.7,860.6C167.8,858.1 159.3,854.5 151.2,850.3C143.1,846.1 133.3,840 126.2,835.6C119.1,831.2 112.9,828 108.5,823.8C104.1,819.6 101,816.7 99.7,810.6C98.4,804.5 98.9,793.9 100.4,787C101.9,780.1 107.4,778 108.5,769.4C109.6,760.8 105.3,743.4 107,735.6C108.7,727.8 115.1,726.6 118.8,722.4C122.5,718.2 125.1,714 129,710.6C132.9,707.2 138.2,706 142.4,701.8C146.6,697.6 150.1,690.3 154,685.6C157.9,680.9 162,676.6 165.9,673.8C169.8,671 172,669.4 177.6,668.7Z" fill="#ededed" stroke="#8a8a8a" stroke-width="0.9" />
<path d="M140,708C145.3,701.7 152,691.7 158,686C164,680.3 169,676 176,674C183,672 192.7,671.8 200,674C207.3,676.2 215,681.7 220,687C225,692.3 227,698.7 230,706C233,713.3 233.3,722.4 238,731C242.7,739.6 251.4,749.5 258,757.6C264.6,765.7 272.3,771.1 277.6,779.7C282.9,788.3 285.9,799.2 290,809C294.1,818.8 300.8,829.8 302,838.5C303.2,847.2 301.5,854.8 297,861C292.5,867.2 282.6,873.5 275,876C267.4,878.5 262.5,879.3 251.2,876C239.9,872.7 221.8,862 207.1,856C192.4,850 177.4,845.5 162.9,840C148.4,834.5 129.2,829 120,823C110.8,817 109.7,812.4 108,804C106.3,795.6 108.7,782.6 110,772.4C111.3,762.2 113.3,751.1 116,743C118.7,734.9 122.2,729.6 126.2,723.8C130.2,718 134.7,714.3 140,708Z" fill="#4a464a" stroke="none" stroke-width="1" filter="url(#b3)"/>
<ellipse cx="140" cy="712" rx="10" ry="8" fill="#7a7679" filter="url(#b3)"/>
<ellipse cx="252" cy="735" rx="10" ry="20" fill="#cfcfcf" filter="url(#b5)" transform="rotate(-35 252 735)"/>
<clipPath id="gc1"><path d="M177.6,668.7C183.2,668 192.3,667.1 199.7,669.4C207.1,671.7 216.2,677.7 221.8,682.6C227.4,687.5 229.1,692.9 233.5,698.8C237.9,704.7 242.8,711.9 248.2,718C253.6,724.1 261.7,730 265.9,735.6C270.1,741.2 270.8,746.2 273.2,751.8C275.6,757.4 277.4,762.3 280.6,769.4C283.8,776.5 288.5,785.3 292.4,794.4C296.3,803.5 301.3,814 304,823.8C306.7,833.6 309,845.4 308.5,853C308,860.6 305.2,864.5 301,869.4C296.8,874.3 289.4,879.7 283.5,882.6C277.6,885.5 272.5,887.3 265.9,887C259.3,886.7 252.4,883.9 243.8,881C235.2,878.1 223,872.1 214.4,869.4C205.8,866.7 199,866.5 192.4,865C185.8,863.5 181.6,863.1 174.7,860.6C167.8,858.1 159.3,854.5 151.2,850.3C143.1,846.1 133.3,840 126.2,835.6C119.1,831.2 112.9,828 108.5,823.8C104.1,819.6 101,816.7 99.7,810.6C98.4,804.5 98.9,793.9 100.4,787C101.9,780.1 107.4,778 108.5,769.4C109.6,760.8 105.3,743.4 107,735.6C108.7,727.8 115.1,726.6 118.8,722.4C122.5,718.2 125.1,714 129,710.6C132.9,707.2 138.2,706 142.4,701.8C146.6,697.6 150.1,690.3 154,685.6C157.9,680.9 162,676.6 165.9,673.8C169.8,671 172,669.4 177.6,668.7Z"/></clipPath>
<g clip-path="url(#gc1)"><rect x="97.7" y="666.7" width="212.8" height="222.3" fill="#000" filter="url(#gd)"/><rect x="97.7" y="666.7" width="212.8" height="222.3" fill="#fff" filter="url(#gl)"/></g>
<text x="124" y="667.2" font-family='"Liberation Sans",Arial,sans-serif' font-size="29" fill="#111" stroke="#111" stroke-width="0.4" textLength="118" lengthAdjust="spacingAndGlyphs">The back:</text>
<circle cx="264" cy="657.2" r="12.7" fill="none" stroke="#111" stroke-width="1.4" />
<text x="264" y="664.8" font-family='"Liberation Serif","Times New Roman",serif' font-size="21" fill="#111" text-anchor="middle" >2</text>
<circle cx="89" cy="731.2" r="12.9" fill="none" stroke="#111" stroke-width="1.4" />
<text x="89" y="738.8" font-family='"Liberation Serif","Times New Roman",serif' font-size="22.5" fill="#111" text-anchor="middle" >4</text>
<circle cx="288.7" cy="751.8" r="12.9" fill="none" stroke="#111" stroke-width="1.4" />
<text x="288.7" y="759.4" font-family='"Liberation Serif","Times New Roman",serif' font-size="22.5" fill="#111" text-anchor="middle" >3</text>
<circle cx="160.7" cy="866.5" r="12.9" fill="none" stroke="#111" stroke-width="1.4" />
<text x="160.7" y="874.1" font-family='"Liberation Serif","Times New Roman",serif' font-size="22.5" fill="#111" text-anchor="middle" >5</text>
<circle cx="304.9" cy="893.8" r="12.9" fill="none" stroke="#111" stroke-width="1.4" />
<text x="304.9" y="901.4" font-family='"Liberation Serif","Times New Roman",serif' font-size="22.5" fill="#111" text-anchor="middle" >6</text>
<circle cx="203" cy="793" r="12.9" fill="none" stroke="#fff" stroke-width="1.4" />
<text x="203" y="800.6" font-family='"Liberation Serif","Times New Roman",serif' font-size="22.5" fill="#fff" text-anchor="middle" >1</text>
<text x="101" y="894" font-family='"Liberation Sans",Arial,sans-serif' font-size="24" fill="#111" >2 μm</text>
<line x1="93" y1="902.5" x2="156" y2="902.5" stroke="#2a2a2a" stroke-width="3.2" />
<path d="M518.8,672.4C530.6,669.7 559,669.4 568.8,670.9C578.6,672.4 573.7,673.1 577.6,681.2C581.5,689.3 589.2,709.1 592.4,719.4C595.6,729.7 593.6,732.2 596.8,743C600,753.8 606.6,769.4 611.5,784.1C616.4,798.8 622.3,819.9 626.2,831.2C630.1,842.5 633.8,845.4 635,851.8C636.2,858.2 636.7,865 633.5,869.4C630.3,873.8 623,875.3 615.9,878.2C608.8,881.1 596.3,883.6 590.9,887C585.5,890.4 591.6,896.1 583.5,898.8C575.4,901.5 551.2,903.2 542.4,903.2C533.6,903.2 533.5,901 530.6,898.8C527.7,896.6 531.1,897.6 524.7,890C518.3,882.4 500.5,862.3 492.4,853.2C484.3,844.1 483.6,844.7 476.2,835.6C468.8,826.5 455.6,809.8 448.2,798.8C440.8,787.8 435.2,778 432,769.4C428.8,760.8 428.1,752.8 429.1,747.4C430.1,742 433.7,741.2 437.9,737C442.1,732.8 447.7,727.5 454.1,722.4C460.5,717.3 468.9,712.1 476.2,706.2C483.5,700.3 491.1,692.6 498.2,687C505.3,681.4 507,675.1 518.8,672.4Z" fill="#a9a9a9" stroke="none" stroke-width="1" />
<path d="M555,672C557.3,669 566.2,670.2 570,672C573.8,673.8 574.3,675 578,683C581.7,691 588.8,710 592,720C595.2,730 593.7,732.3 597,743C600.3,753.7 607.2,769.3 612,784C616.8,798.7 622.3,819.7 626,831C629.7,842.3 633.3,846.2 634,852C634.7,857.8 632.7,863.3 630,866C627.3,868.7 623,875.7 618,868C613,860.3 605.5,836.3 600,820C594.5,803.7 590,785.8 585,770C580,754.2 574.8,738.3 570,725C565.2,711.7 558.5,698.8 556,690C553.5,681.2 552.7,675 555,672Z" fill="#dcdcdc" stroke="none" stroke-width="1" filter="url(#b3)"/>
<path d="M440,790C440.3,796.2 447,804 452,812C457,820 463.3,830.3 470,838C476.7,845.7 486.2,852.7 492,858C497.8,863.3 504,871.3 505,870C506,868.7 502.2,858.3 498,850C493.8,841.7 486,829.2 480,820C474,810.8 467,802.5 462,795C457,787.5 453.7,775.8 450,775C446.3,774.2 439.7,783.8 440,790Z" fill="#1d1d1d" stroke="none" stroke-width="1" filter="url(#b3)"/>
<path d="M436,765C436,771.3 442.3,780.5 448,790C453.7,799.5 462.2,811.7 470,822C477.8,832.3 486.7,842.3 495,852C503.3,861.7 514.7,877 520,880C525.3,883 529.5,876.7 527,870C524.5,863.3 512.8,850.8 505,840C497.2,829.2 487.2,815.8 480,805C472.8,794.2 467.3,783.8 462,775C456.7,766.2 452.3,753.7 448,752C443.7,750.3 436,758.7 436,765Z" fill="#e8e8e8" stroke="none" stroke-width="1" filter="url(#b3)"/>
<path d="M490.9,713.5 L557,726.8 L596.8,809.1 L620.3,868 L557,860.6 L520.3,848.8 L498.2,823.8 L479.1,787 L468.8,743Z" fill="#727272" stroke="none" stroke-width="1" filter="url(#b1)"/>
<ellipse cx="555" cy="818" rx="13" ry="9" fill="#a0a0a0" filter="url(#b1)"/>
<ellipse cx="598" cy="826" rx="6" ry="8" fill="#9c9c9c" filter="url(#b1)"/>
<ellipse cx="485" cy="760" rx="10" ry="14" fill="#8e8e8e" filter="url(#b1)"/>
<ellipse cx="540" cy="700" rx="18" ry="15" fill="#bdbdbd" filter="url(#b1)"/>
<ellipse cx="562" cy="885" rx="26" ry="11" fill="#8a8a8a" filter="url(#b1)"/>
<clipPath id="gc2"><path d="M518.8,672.4C530.6,669.7 559,669.4 568.8,670.9C578.6,672.4 573.7,673.1 577.6,681.2C581.5,689.3 589.2,709.1 592.4,719.4C595.6,729.7 593.6,732.2 596.8,743C600,753.8 606.6,769.4 611.5,784.1C616.4,798.8 622.3,819.9 626.2,831.2C630.1,842.5 633.8,845.4 635,851.8C636.2,858.2 636.7,865 633.5,869.4C630.3,873.8 623,875.3 615.9,878.2C608.8,881.1 596.3,883.6 590.9,887C585.5,890.4 591.6,896.1 583.5,898.8C575.4,901.5 551.2,903.2 542.4,903.2C533.6,903.2 533.5,901 530.6,898.8C527.7,896.6 531.1,897.6 524.7,890C518.3,882.4 500.5,862.3 492.4,853.2C484.3,844.1 483.6,844.7 476.2,835.6C468.8,826.5 455.6,809.8 448.2,798.8C440.8,787.8 435.2,778 432,769.4C428.8,760.8 428.1,752.8 429.1,747.4C430.1,742 433.7,741.2 437.9,737C442.1,732.8 447.7,727.5 454.1,722.4C460.5,717.3 468.9,712.1 476.2,706.2C483.5,700.3 491.1,692.6 498.2,687C505.3,681.4 507,675.1 518.8,672.4Z"/></clipPath>
<g clip-path="url(#gc2)"><rect x="427.1" y="668.9" width="209.9" height="236.3" fill="#000" filter="url(#gd)"/><rect x="427.1" y="668.9" width="209.9" height="236.3" fill="#fff" filter="url(#gl)"/></g>
<text x="453.4" y="667.2" font-family='"Liberation Sans",Arial,sans-serif' font-size="29" fill="#111" stroke="#111" stroke-width="0.4" textLength="118" lengthAdjust="spacingAndGlyphs">The back:</text>
<circle cx="593.1" cy="657.2" r="12.7" fill="none" stroke="#111" stroke-width="1.4" />
<text x="593.1" y="664.8" font-family='"Liberation Serif","Times New Roman",serif' font-size="21" fill="#111" text-anchor="middle" >2</text>
<circle cx="460" cy="697.4" r="12.9" fill="none" stroke="#111" stroke-width="1.4" />
<text x="460" y="705" font-family='"Liberation Serif","Times New Roman",serif' font-size="22.5" fill="#111" text-anchor="middle" >7</text>
<circle cx="625.4" cy="770.1" r="12.9" fill="none" stroke="#111" stroke-width="1.4" />
<text x="625.4" y="777.7" font-family='"Liberation Serif","Times New Roman",serif' font-size="22.5" fill="#111" text-anchor="middle" >5</text>
<circle cx="456.3" cy="844.4" r="12.9" fill="none" stroke="#111" stroke-width="1.4" />
<text x="456.3" y="852" font-family='"Liberation Serif","Times New Roman",serif' font-size="22.5" fill="#111" text-anchor="middle" >3</text>
<circle cx="609.3" cy="898.8" r="12.9" fill="none" stroke="#111" stroke-width="1.4" />
<text x="609.3" y="906.4" font-family='"Liberation Serif","Times New Roman",serif' font-size="22.5" fill="#111" text-anchor="middle" >4</text>
<circle cx="536.5" cy="700.3" r="12.9" fill="none" stroke="#fff" stroke-width="1.4" />
<text x="536.5" y="707.9" font-family='"Liberation Serif","Times New Roman",serif' font-size="22.5" fill="#fff" text-anchor="middle" >6</text>
<circle cx="535.7" cy="782.6" r="12.9" fill="none" stroke="#fff" stroke-width="1.4" />
<text x="535.7" y="790.2" font-family='"Liberation Serif","Times New Roman",serif' font-size="22.5" fill="#fff" text-anchor="middle" >1</text>
<line x1="426.5" y1="903" x2="495" y2="903" stroke="#2a2a2a" stroke-width="3.2" />
<path d="M843,690.7C850.4,689.5 857.7,691.4 865,693C872.3,694.6 880.1,696.9 887,700.3C893.9,703.7 900.6,707.9 906.2,713.5C911.9,719.1 917,727.4 920.9,734C924.8,740.6 927.5,748 929.7,753.2C931.9,758.4 931.4,758.1 934.1,765C936.8,771.9 942.5,785.3 945.9,794.4C949.3,803.5 953.7,812.8 954.7,819.4C955.7,826 954.5,828.1 951.8,834C949.1,839.9 944.9,846.8 938.5,854.7C932.1,862.6 920.1,875.6 913.5,881.2C906.9,886.8 904.4,888 898.8,888.5C893.2,889 889,886.7 879.7,884C870.4,881.3 853.9,875.6 842.9,872.4C831.9,869.2 820.1,868 813.5,865C806.9,862 808.1,861.3 803.2,854.7C798.3,848.1 789.7,835.6 784.1,825.3C778.5,815 772.1,799.4 769.4,793C766.7,786.6 767.3,790.9 768,787C768.7,783.1 772.8,776.7 773.8,769.4C774.8,762.1 772.1,749.4 773.8,743C775.5,736.6 779.9,735.6 784.1,731.2C788.3,726.8 792.7,721.6 798.8,716.5C804.9,711.4 813.5,704.6 820.9,700.3C828.3,696 835.6,691.9 843,690.7Z" fill="#9a9a9a" stroke="none" stroke-width="1" />
<path d="M844.7,700.6C851.3,699.5 857.9,701.3 864.5,702.7C871.1,704.1 878.1,706.2 884.3,709.3C890.5,712.3 896.5,716.1 901.6,721.1C906.7,726.2 911.3,733.6 914.8,739.6C918.3,745.6 920.8,752.2 922.7,756.9C924.7,761.5 924.3,761.3 926.7,767.5C929.1,773.7 934.2,785.8 937.3,794C940.4,802.1 944.3,810.5 945.2,816.5C946.1,822.4 945,824.3 942.6,829.6C940.2,834.9 936.4,841.1 930.6,848.2C924.9,855.3 914.1,867 908.1,872.1C902.2,877.2 900,878.2 894.9,878.6C889.8,879.1 886.1,877 877.7,874.6C869.3,872.2 854.5,867 844.6,864.2C834.7,861.3 824.1,860.2 818.1,857.5C812.2,854.8 813.3,854.2 808.9,848.2C804.5,842.3 796.8,831 791.7,821.8C786.6,812.5 780.9,798.4 778.5,792.7C776,787 776.5,790.8 777.2,787.3C777.9,783.8 781.5,778.1 782.4,771.5C783.3,764.9 780.9,753.4 782.4,747.7C784,742 787.9,741.1 791.7,737.1C795.4,733.1 799.4,728.5 804.9,723.9C810.4,719.2 818.2,713.1 824.8,709.3C831.4,705.4 838.1,701.7 844.7,700.6Z" fill="#6c6c6c" stroke="none" stroke-width="1" filter="url(#b3)"/>
<path d="M875,784 L913,787 L930,809 L931,836 L916,849 L887,853 L880,831Z" fill="#454545" stroke="none" stroke-width="1" filter="url(#b5)"/>
<ellipse cx="880" cy="860" rx="22" ry="8" fill="#555" filter="url(#b3)"/>
<clipPath id="gc3"><path d="M843,690.7C850.4,689.5 857.7,691.4 865,693C872.3,694.6 880.1,696.9 887,700.3C893.9,703.7 900.6,707.9 906.2,713.5C911.9,719.1 917,727.4 920.9,734C924.8,740.6 927.5,748 929.7,753.2C931.9,758.4 931.4,758.1 934.1,765C936.8,771.9 942.5,785.3 945.9,794.4C949.3,803.5 953.7,812.8 954.7,819.4C955.7,826 954.5,828.1 951.8,834C949.1,839.9 944.9,846.8 938.5,854.7C932.1,862.6 920.1,875.6 913.5,881.2C906.9,886.8 904.4,888 898.8,888.5C893.2,889 889,886.7 879.7,884C870.4,881.3 853.9,875.6 842.9,872.4C831.9,869.2 820.1,868 813.5,865C806.9,862 808.1,861.3 803.2,854.7C798.3,848.1 789.7,835.6 784.1,825.3C778.5,815 772.1,799.4 769.4,793C766.7,786.6 767.3,790.9 768,787C768.7,783.1 772.8,776.7 773.8,769.4C774.8,762.1 772.1,749.4 773.8,743C775.5,736.6 779.9,735.6 784.1,731.2C788.3,726.8 792.7,721.6 798.8,716.5C804.9,711.4 813.5,704.6 820.9,700.3C828.3,696 835.6,691.9 843,690.7Z"/></clipPath>
<g clip-path="url(#gc3)"><rect x="766" y="688.7" width="190.7" height="201.8" fill="#000" filter="url(#gd)"/><rect x="766" y="688.7" width="190.7" height="201.8" fill="#fff" filter="url(#gl)"/></g>
<text x="782.6" y="670.9" font-family='"Liberation Sans",Arial,sans-serif' font-size="29" fill="#111" stroke="#111" stroke-width="0.4" textLength="118" lengthAdjust="spacingAndGlyphs">The back:</text>
<circle cx="923.1" cy="660.9" r="12.7" fill="none" stroke="#111" stroke-width="1.4" />
<text x="923.1" y="668.5" font-family='"Liberation Serif","Times New Roman",serif' font-size="21" fill="#111" text-anchor="middle" >2</text>
<circle cx="793.7" cy="701" r="12.9" fill="none" stroke="#111" stroke-width="1.4" />
<text x="793.7" y="708.6" font-family='"Liberation Serif","Times New Roman",serif' font-size="22.5" fill="#111" text-anchor="middle" >5</text>
<circle cx="949.6" cy="743" r="12.9" fill="none" stroke="#111" stroke-width="1.4" />
<text x="949.6" y="750.6" font-family='"Liberation Serif","Times New Roman",serif' font-size="22.5" fill="#111" text-anchor="middle" >6</text>
<circle cx="765" cy="832" r="12.9" fill="none" stroke="#111" stroke-width="1.4" />
<text x="765" y="839.6" font-family='"Liberation Serif","Times New Roman",serif' font-size="22.5" fill="#111" text-anchor="middle" >3</text>
<circle cx="839.3" cy="888.4" r="12.9" fill="none" stroke="#111" stroke-width="1.4" />
<text x="839.3" y="896" font-family='"Liberation Serif","Times New Roman",serif' font-size="22.5" fill="#111" text-anchor="middle" >4</text>
<circle cx="945.9" cy="879" r="12.9" fill="none" stroke="#111" stroke-width="1.4" />
<text x="945.9" y="886.6" font-family='"Liberation Serif","Times New Roman",serif' font-size="22.5" fill="#111" text-anchor="middle" >7</text>
<circle cx="854" cy="787" r="12.9" fill="none" stroke="#fff" stroke-width="1.4" />
<text x="854" y="794.6" font-family='"Liberation Serif","Times New Roman",serif' font-size="22.5" fill="#fff" text-anchor="middle" >1</text>
<line x1="763.2" y1="903.2" x2="816.8" y2="903.2" stroke="#2a2a2a" stroke-width="3.2" />
<path d="M1208.2,695.9 L1220,694.4 L1231.8,701.8 L1261.2,725.3 L1287.6,751.8 L1305.3,769.4 L1312.6,795.9 L1305.3,807.6 L1287.6,835.6 L1275.9,856.2 L1246.5,866.5 L1202.4,865 L1150.9,868 L1131.8,853.2 L1108.2,828.2 L1095,804.7 L1095,787 L1106.8,767.9 L1125.9,735.6 L1143.5,726.8 L1173,713.5 L1195,703.2Z" fill="#f6f6f6" stroke="#999" stroke-width="0.8" />
<path d="M1097,786C1097.8,773.7 1106.5,760.2 1112,752C1117.5,743.8 1122.3,741.3 1130,737C1137.7,732.7 1145.9,730.5 1158,726C1170.1,721.5 1190.1,712.8 1202.4,710C1214.7,707.2 1222,705.5 1231.8,709C1241.6,712.5 1251.7,723.2 1261.2,731C1270.7,738.8 1283,746.7 1289,756C1295,765.3 1297.8,776.8 1297,787C1296.2,797.2 1289.8,807 1284,817C1278.2,827 1269.3,839.5 1262,847C1254.7,854.5 1254.8,859.3 1240,862C1225.2,864.7 1190.7,864.7 1173,863C1155.3,861.3 1145,858.2 1134,852C1123,845.8 1113.2,837 1107,826C1100.8,815 1096.2,798.3 1097,786Z" fill="#939296" stroke="none" stroke-width="1" filter="url(#b3)"/>
<ellipse cx="1116" cy="790" rx="12" ry="28" fill="#7a797d" filter="url(#b3)"/>
<ellipse cx="1160" cy="800" rx="6" ry="5" fill="#6d6c70" filter="url(#b1)"/>
<text x="1130.3" y="670.9" font-family='"Liberation Sans",Arial,sans-serif' font-size="29" fill="#111" stroke="#111" stroke-width="0.4" textLength="118" lengthAdjust="spacingAndGlyphs">The back:</text>
<circle cx="1270.7" cy="660.9" r="12.7" fill="none" stroke="#111" stroke-width="1.4" />
<text x="1270.7" y="668.5" font-family='"Liberation Serif","Times New Roman",serif' font-size="21" fill="#111" text-anchor="middle" >2</text>
<circle cx="1161.2" cy="701.8" r="12.9" fill="none" stroke="#111" stroke-width="1.4" />
<text x="1161.2" y="709.4" font-family='"Liberation Serif","Times New Roman",serif' font-size="22.5" fill="#111" text-anchor="middle" >5</text>
<circle cx="1280.3" cy="717.2" r="12.9" fill="none" stroke="#111" stroke-width="1.4" />
<text x="1280.3" y="724.8" font-family='"Liberation Serif","Times New Roman",serif' font-size="22.5" fill="#111" text-anchor="middle" >6</text>
<circle cx="1092.8" cy="754.7" r="12.9" fill="none" stroke="#111" stroke-width="1.4" />
<text x="1092.8" y="762.3" font-family='"Liberation Serif","Times New Roman",serif' font-size="22.5" fill="#111" text-anchor="middle" >4</text>
<circle cx="1100.9" cy="843" r="12.9" fill="none" stroke="#111" stroke-width="1.4" />
<text x="1100.9" y="850.6" font-family='"Liberation Serif","Times New Roman",serif' font-size="22.5" fill="#111" text-anchor="middle" >3</text>
<circle cx="1298.7" cy="849.6" r="12.9" fill="none" stroke="#111" stroke-width="1.4" />
<text x="1298.7" y="857.2" font-family='"Liberation Serif","Times New Roman",serif' font-size="22.5" fill="#111" text-anchor="middle" >7</text>
<circle cx="1199.4" cy="883.4" r="12.9" fill="none" stroke="#111" stroke-width="1.4" />
<text x="1199.4" y="891" font-family='"Liberation Serif","Times New Roman",serif' font-size="22.5" fill="#111" text-anchor="middle" >8</text>
<circle cx="1201.3" cy="787.8" r="12.9" fill="none" stroke="#fff" stroke-width="1.4" />
<text x="1201.3" y="795.4" font-family='"Liberation Serif","Times New Roman",serif' font-size="22.5" fill="#fff" text-anchor="middle" >1</text>
<line x1="1092" y1="902.5" x2="1163" y2="902.5" stroke="#2a2a2a" stroke-width="3.2" />
<path d="M1455.9,697.4C1465,696.4 1487.7,697.3 1502.9,698.8C1518.1,700.3 1534.7,703.5 1547,706.2C1559.3,708.9 1566.2,710.8 1576.5,715C1586.8,719.2 1600,725.3 1608.8,731.2C1617.6,737.1 1624.2,742.2 1629.4,750.3C1634.6,758.4 1638.2,772.6 1639.7,779.7C1641.2,786.8 1642.9,787.6 1638.2,793C1633.5,798.4 1619.6,805.4 1611.8,812C1604,818.6 1598.3,824.5 1591.2,832.6C1584.1,840.7 1576.5,852.5 1569.1,860.6C1561.7,868.7 1553.1,876.6 1547,881.2C1540.9,885.9 1538.5,888.5 1532.4,888.5C1526.3,888.5 1517.7,884.4 1510.3,881.2C1502.9,878 1496.8,873.3 1488.2,869.4C1479.6,865.5 1466.6,860.8 1458.8,857.6C1451,854.4 1445.1,854 1441.2,850.3C1437.3,846.6 1436.3,842.5 1435.3,835.6C1434.3,828.7 1434.6,822.1 1435.3,809.1C1436,796.1 1438,772.3 1439.7,757.6C1441.4,742.9 1444.1,729.7 1445.6,720.9C1447.1,712.1 1446.8,708.6 1448.5,704.7C1450.2,700.8 1446.8,698.4 1455.9,697.4Z" fill="#e4e4e4" stroke="#aaa" stroke-width="0.8" />
<path d="M1467.6,716.5C1481.6,708.2 1526.4,718 1547,722.4C1567.6,726.8 1580.2,737.1 1591.2,743C1602.2,748.9 1607.1,750.3 1613.2,757.6C1619.3,764.9 1629.2,778.4 1628,787C1626.8,795.6 1614.5,799.2 1605.9,809C1597.3,818.8 1587.5,833.9 1576.5,845.9C1565.5,857.9 1552,876.3 1539.7,881.2C1527.5,886.1 1515.2,879.2 1503,875.3C1490.8,871.4 1473.6,865 1466.2,857.6C1458.8,850.2 1459.3,845.4 1458.8,831.2C1458.3,817 1461.7,791.5 1463.2,772.4C1464.7,753.3 1453.6,724.8 1467.6,716.5Z" fill="#5e5a5c" stroke="none" stroke-width="1" filter="url(#b5)"/>
<ellipse cx="1490" cy="850" rx="22" ry="12" fill="#48444a" filter="url(#b5)"/>
<ellipse cx="1585" cy="810" rx="14" ry="18" fill="#464246" filter="url(#b5)"/>
<ellipse cx="1590" cy="764" rx="6" ry="9" fill="#9a9a9a" transform="rotate(30 1590 764)"/>
<clipPath id="gc5"><path d="M1455.9,697.4C1465,696.4 1487.7,697.3 1502.9,698.8C1518.1,700.3 1534.7,703.5 1547,706.2C1559.3,708.9 1566.2,710.8 1576.5,715C1586.8,719.2 1600,725.3 1608.8,731.2C1617.6,737.1 1624.2,742.2 1629.4,750.3C1634.6,758.4 1638.2,772.6 1639.7,779.7C1641.2,786.8 1642.9,787.6 1638.2,793C1633.5,798.4 1619.6,805.4 1611.8,812C1604,818.6 1598.3,824.5 1591.2,832.6C1584.1,840.7 1576.5,852.5 1569.1,860.6C1561.7,868.7 1553.1,876.6 1547,881.2C1540.9,885.9 1538.5,888.5 1532.4,888.5C1526.3,888.5 1517.7,884.4 1510.3,881.2C1502.9,878 1496.8,873.3 1488.2,869.4C1479.6,865.5 1466.6,860.8 1458.8,857.6C1451,854.4 1445.1,854 1441.2,850.3C1437.3,846.6 1436.3,842.5 1435.3,835.6C1434.3,828.7 1434.6,822.1 1435.3,809.1C1436,796.1 1438,772.3 1439.7,757.6C1441.4,742.9 1444.1,729.7 1445.6,720.9C1447.1,712.1 1446.8,708.6 1448.5,704.7C1450.2,700.8 1446.8,698.4 1455.9,697.4Z"/></clipPath>
<g clip-path="url(#gc5)"><rect x="1433.3" y="695.4" width="208.4" height="195.1" fill="#000" filter="url(#gd)"/><rect x="1433.3" y="695.4" width="208.4" height="195.1" fill="#fff" filter="url(#gl)"/></g>
<text x="1458" y="668.2" font-family='"Liberation Sans",Arial,sans-serif' font-size="29" fill="#111" stroke="#111" stroke-width="0.4" textLength="118" lengthAdjust="spacingAndGlyphs">The back:</text>
<circle cx="1597.8" cy="658.2" r="12.7" fill="none" stroke="#111" stroke-width="1.4" />
<text x="1597.8" y="665.8" font-family='"Liberation Serif","Times New Roman",serif' font-size="21" fill="#111" text-anchor="middle" >2</text>
<circle cx="1554.9" cy="695.1" r="12.9" fill="none" stroke="#111" stroke-width="1.4" />
<text x="1554.9" y="702.7" font-family='"Liberation Serif","Times New Roman",serif' font-size="22.5" fill="#111" text-anchor="middle" >5</text>
<circle cx="1421.3" cy="768" r="12.9" fill="none" stroke="#111" stroke-width="1.4" />
<text x="1421.3" y="775.6" font-family='"Liberation Serif","Times New Roman",serif' font-size="22.5" fill="#111" text-anchor="middle" >4</text>
<circle cx="1604.4" cy="843" r="12.9" fill="none" stroke="#111" stroke-width="1.4" />
<text x="1604.4" y="850.6" font-family='"Liberation Serif","Times New Roman",serif' font-size="22.5" fill="#111" text-anchor="middle" >6</text>
<circle cx="1471.8" cy="879.7" r="12.9" fill="none" stroke="#111" stroke-width="1.4" />
<text x="1471.8" y="887.3" font-family='"Liberation Serif","Times New Roman",serif' font-size="22.5" fill="#111" text-anchor="middle" >3</text>
<circle cx="1525" cy="787" r="12.9" fill="none" stroke="#fff" stroke-width="1.4" />
<text x="1525" y="794.6" font-family='"Liberation Serif","Times New Roman",serif' font-size="22.5" fill="#fff" text-anchor="middle" >1</text>
<line x1="1422.8" y1="904.7" x2="1477.2" y2="904.7" stroke="#2a2a2a" stroke-width="3.2" />
<path d="M1861.2,690.7C1866.6,690.7 1873.5,694.2 1881.8,698.8C1890.1,703.3 1902.6,710.6 1911.2,718C1919.8,725.4 1926.3,733.9 1933.2,743C1940.1,752.1 1948.2,763.8 1952.4,772.4C1956.6,781 1956.5,784.6 1958.2,794.4C1959.9,804.2 1962.6,820.7 1962.6,831.2C1962.6,841.7 1961.1,850.7 1958.2,857.6C1955.3,864.5 1950.4,869 1945,872.4C1939.6,875.8 1935.2,876.7 1925.9,878.2C1916.6,879.7 1900.1,882.9 1889.1,881.2C1878.1,879.5 1868.3,873.4 1859.7,868C1851.1,862.6 1846.2,855.9 1837.6,848.8C1829,841.7 1818,831.9 1808.2,825.3C1798.4,818.7 1785.4,813.5 1778.8,809.1C1772.2,804.7 1771,803.4 1768.5,798.8C1766,794.1 1763.6,787.6 1764.1,781.2C1764.6,774.8 1768.1,766 1771.5,760.6C1774.9,755.2 1780.5,752.2 1784.7,748.8C1788.9,745.4 1792.1,742.7 1796.5,740C1800.9,737.3 1805.6,736.5 1811.2,732.6C1816.8,728.7 1823.9,722.1 1830.3,716.5C1836.7,710.9 1844.2,703.1 1849.4,698.8C1854.6,694.5 1855.8,690.7 1861.2,690.7Z" fill="#545054" stroke="none" stroke-width="1" />
<path d="M1880,705 C1905,720 1935,750 1950,790 L1942,792 C1925,760 1900,730 1876,712Z" fill="#8a878a" filter="url(#b3)"/>
<ellipse cx="1915" cy="835" rx="30" ry="28" fill="#403c40" filter="url(#b5)"/>
<ellipse cx="1850" cy="785" rx="22" ry="10" fill="#3e3a3e" filter="url(#b3)"/>
<path d="M1860,813 C1880,795 1910,790 1930,800" stroke="#6e6a6e" stroke-width="2" fill="none" filter="url(#b1)"/>
<clipPath id="gc6"><path d="M1861.2,690.7C1866.6,690.7 1873.5,694.2 1881.8,698.8C1890.1,703.3 1902.6,710.6 1911.2,718C1919.8,725.4 1926.3,733.9 1933.2,743C1940.1,752.1 1948.2,763.8 1952.4,772.4C1956.6,781 1956.5,784.6 1958.2,794.4C1959.9,804.2 1962.6,820.7 1962.6,831.2C1962.6,841.7 1961.1,850.7 1958.2,857.6C1955.3,864.5 1950.4,869 1945,872.4C1939.6,875.8 1935.2,876.7 1925.9,878.2C1916.6,879.7 1900.1,882.9 1889.1,881.2C1878.1,879.5 1868.3,873.4 1859.7,868C1851.1,862.6 1846.2,855.9 1837.6,848.8C1829,841.7 1818,831.9 1808.2,825.3C1798.4,818.7 1785.4,813.5 1778.8,809.1C1772.2,804.7 1771,803.4 1768.5,798.8C1766,794.1 1763.6,787.6 1764.1,781.2C1764.6,774.8 1768.1,766 1771.5,760.6C1774.9,755.2 1780.5,752.2 1784.7,748.8C1788.9,745.4 1792.1,742.7 1796.5,740C1800.9,737.3 1805.6,736.5 1811.2,732.6C1816.8,728.7 1823.9,722.1 1830.3,716.5C1836.7,710.9 1844.2,703.1 1849.4,698.8C1854.6,694.5 1855.8,690.7 1861.2,690.7Z"/></clipPath>
<g clip-path="url(#gc6)"><rect x="1762.1" y="688.7" width="202.5" height="194.5" fill="#000" filter="url(#gd)"/><rect x="1762.1" y="688.7" width="202.5" height="194.5" fill="#fff" filter="url(#gl)"/></g>
<text x="1806.8" y="667.2" font-family='"Liberation Sans",Arial,sans-serif' font-size="29" fill="#111" stroke="#111" stroke-width="0.4" textLength="118" lengthAdjust="spacingAndGlyphs">The back:</text>
<circle cx="1947.2" cy="657.2" r="12.7" fill="none" stroke="#111" stroke-width="1.4" />
<text x="1947.2" y="664.8" font-family='"Liberation Serif","Times New Roman",serif' font-size="21" fill="#111" text-anchor="middle" >2</text>
<circle cx="1810.4" cy="709.1" r="12.9" fill="none" stroke="#111" stroke-width="1.4" />
<text x="1810.4" y="716.7" font-family='"Liberation Serif","Times New Roman",serif' font-size="22.5" fill="#111" text-anchor="middle" >5</text>
<circle cx="1956.8" cy="734.9" r="12.9" fill="none" stroke="#111" stroke-width="1.4" />
<text x="1956.8" y="742.5" font-family='"Liberation Serif","Times New Roman",serif' font-size="22.5" fill="#111" text-anchor="middle" >6</text>
<circle cx="1749" cy="768.2" r="12.9" fill="none" stroke="#111" stroke-width="1.4" />
<text x="1749" y="775.8" font-family='"Liberation Serif","Times New Roman",serif' font-size="22.5" fill="#111" text-anchor="middle" >4</text>
<circle cx="1809.7" cy="848" r="12.9" fill="none" stroke="#111" stroke-width="1.4" />
<text x="1809.7" y="855.6" font-family='"Liberation Serif","Times New Roman",serif' font-size="22.5" fill="#111" text-anchor="middle" >3</text>
<circle cx="1930.6" cy="893.7" r="12.9" fill="none" stroke="#111" stroke-width="1.4" />
<text x="1930.6" y="901.3" font-family='"Liberation Serif","Times New Roman",serif' font-size="22.5" fill="#111" text-anchor="middle" >7</text>
<circle cx="1877" cy="789.3" r="12.9" fill="none" stroke="#fff" stroke-width="1.4" />
<text x="1877" y="796.9" font-family='"Liberation Serif","Times New Roman",serif' font-size="22.5" fill="#fff" text-anchor="middle" >1</text>
<line x1="1750.1" y1="904.7" x2="1809" y2="904.7" stroke="#2a2a2a" stroke-width="3.2" />
<filter id="tnoise" x="0" y="0" width="100%" height="100%"><feTurbulence type="fractalNoise" baseFrequency="0.35" numOctaves="2" seed="7" result="n"/><feColorMatrix type="matrix" values="0 0 0 0 0  0 0 0 0 0  0 0 0 0 0  -1.2 0 0 0 0.75" /></filter>
<text x="1.5" y="992.6" font-family='"Liberation Sans",Arial,sans-serif' font-size="42.5" fill="#111" font-weight="bold" >d</text>
<text x="190.4" y="977" font-family='"Liberation Serif","Times New Roman",serif' font-size="28" fill="#111" text-anchor="middle" stroke="#111" stroke-width="0.35">Particle-I</text>
<linearGradient id="tIg" x1="0" y1="1" x2="1" y2="0"><stop offset="0" stop-color="#161616"/><stop offset="0.42" stop-color="#1c1c1c"/><stop offset="0.62" stop-color="#333"/><stop offset="1" stop-color="#505050"/></linearGradient>
<clipPath id="tc1"><rect x="88" y="982.5" width="203" height="199.3"/></clipPath>
<pattern id="tp1" width="6.5" height="6.5" patternUnits="userSpaceOnUse" patternTransform="rotate(42)"><rect x="0" y="0" width="6.5" height="2.9" fill="#8a8a8a"/></pattern>
<g clip-path="url(#tc1)">
<rect x="88" y="982.5" width="203" height="199.3" fill="url(#tIg)" stroke="none" stroke-width="1" />
<linearGradient id="tg1" x1="0" y1="0" x2="1" y2="0"><stop offset="0" stop-color="#fff" stop-opacity="0.0"/><stop offset="1" stop-color="#fff" stop-opacity="1.0"/></linearGradient>
<mask id="tm1"><rect x="88" y="982.5" width="203" height="199.3" fill="url(#tg1)"/></mask>
<g mask="url(#tm1)"><rect x="68" y="962.5" width="243" height="239.3" fill="url(#tp1)" opacity="0.5" filter="url(#tb1)"/></g>
<filter id="tb1"><feGaussianBlur stdDeviation="1.3"/></filter>
<rect x="88" y="982.5" width="203" height="199.3" fill="#000" stroke="none" stroke-width="1" filter="url(#tnoise)" opacity="0.55"/>
</g>
<text x="122.2" y="1015.5" font-family='"Liberation Sans",Arial,sans-serif' font-size="27.5" fill="#fff" >d<tspan font-size="15.5" dy="8.6">101</tspan><tspan dy="-8.6">=2.45 Å</tspan></text>
<line x1="172.5" y1="1077.9" x2="242.4" y2="1140.3" stroke="#fff" stroke-width="3.6" />
<line x1="181.7" y1="1068.6" x2="251.1" y2="1131" stroke="#fff" stroke-width="3.6" />
<line x1="244.2" y1="1072.1" x2="218.7" y2="1098.1" stroke="#fff" stroke-width="3" />
<line x1="218.7" y1="1098.1" x2="229.2" y2="1094.9" stroke="#fff" stroke-width="3" stroke-linecap="round"/>
<line x1="218.7" y1="1098.1" x2="221.7" y2="1087.5" stroke="#fff" stroke-width="3" stroke-linecap="round"/>
<line x1="181.7" y1="1138" x2="206" y2="1113.2" stroke="#fff" stroke-width="3" />
<line x1="206" y1="1113.2" x2="195.5" y2="1116.4" stroke="#fff" stroke-width="3" stroke-linecap="round"/>
<line x1="206" y1="1113.2" x2="203" y2="1123.8" stroke="#fff" stroke-width="3" stroke-linecap="round"/>
<line x1="95" y1="1170" x2="196.2" y2="1170" stroke="#fff" stroke-width="6" />
<text x="119.3" y="1163.4" font-family='"Liberation Sans",Arial,sans-serif' font-size="23.5" fill="#fff" >2 nm</text>
<text x="535" y="977" font-family='"Liberation Serif","Times New Roman",serif' font-size="28" fill="#111" text-anchor="middle" stroke="#111" stroke-width="0.35">Particle-II</text>
<clipPath id="tc2"><rect x="433" y="982.5" width="198" height="197"/></clipPath>
<pattern id="tp2" width="6.2" height="6.2" patternUnits="userSpaceOnUse" patternTransform="rotate(4)"><rect x="0" y="0" width="6.2" height="2.8" fill="#b0b0b0"/></pattern>
<g clip-path="url(#tc2)">
<rect x="433" y="982.5" width="198" height="197" fill="#6a6a6a" stroke="none" stroke-width="1" />
<g><rect x="413" y="962.5" width="238" height="237" fill="url(#tp2)" opacity="0.7" filter="url(#tb2)"/></g>
<filter id="tb2"><feGaussianBlur stdDeviation="1.0"/></filter>
<rect x="433" y="982.5" width="198" height="197" fill="#000" stroke="none" stroke-width="1" filter="url(#tnoise)" opacity="0.55"/>
<filter id="md2" x="0" y="0" width="100%" height="100%"><feTurbulence type="fractalNoise" baseFrequency="0.035" numOctaves="2" seed="17"/><feColorMatrix type="matrix" values="0 0 0 0 0  0 0 0 0 0  0 0 0 0 0  0.5 0 0 0 -0.25"/></filter>
<filter id="ml2" x="0" y="0" width="100%" height="100%"><feTurbulence type="fractalNoise" baseFrequency="0.035" numOctaves="2" seed="17"/><feColorMatrix type="matrix" values="0 0 0 0 1  0 0 0 0 1  0 0 0 0 1  -0.5 0 0 0 0.25"/></filter>
<rect x="433" y="982.5" width="198" height="197" fill="#000" stroke="none" stroke-width="1" filter="url(#md2)"/>
<rect x="433" y="982.5" width="198" height="197" fill="#fff" stroke="none" stroke-width="1" filter="url(#ml2)"/>
</g>
<text x="463.1" y="1016" font-family='"Liberation Sans",Arial,sans-serif' font-size="27.5" fill="#fff" >d<tspan font-size="15.5" dy="8.6">102</tspan><tspan dy="-8.6">=2.35 Å</tspan></text>
<line x1="477" y1="1065.7" x2="570.1" y2="1070.3" stroke="#fff" stroke-width="3.8" />
<line x1="477" y1="1075" x2="570.1" y2="1080.8" stroke="#fff" stroke-width="3.8" />
<line x1="530.2" y1="1027.6" x2="523.8" y2="1064.6" stroke="#fff" stroke-width="3" />
<line x1="523.8" y1="1064.6" x2="530.6" y2="1056" stroke="#fff" stroke-width="3" stroke-linecap="round"/>
<line x1="523.8" y1="1064.6" x2="520.2" y2="1054.2" stroke="#fff" stroke-width="3" stroke-linecap="round"/>
<line x1="516.3" y1="1118.9" x2="522.1" y2="1081.9" stroke="#fff" stroke-width="3" />
<line x1="522.1" y1="1081.9" x2="515.4" y2="1090.6" stroke="#fff" stroke-width="3" stroke-linecap="round"/>
<line x1="522.1" y1="1081.9" x2="525.8" y2="1092.3" stroke="#fff" stroke-width="3" stroke-linecap="round"/>
<line x1="441" y1="1168" x2="586.8" y2="1168" stroke="#fff" stroke-width="6" />
<text x="484.1" y="1160.2" font-family='"Liberation Sans",Arial,sans-serif' font-size="23.5" fill="#fff" >5 nm</text>
<text x="874.6" y="977" font-family='"Liberation Serif","Times New Roman",serif' font-size="28" fill="#111" text-anchor="middle" stroke="#111" stroke-width="0.35">Particle-III</text>
<clipPath id="tc3"><rect x="772" y="983" width="199" height="198"/></clipPath>
<pattern id="tp3" width="5.4" height="5.4" patternUnits="userSpaceOnUse" patternTransform="rotate(3)"><rect x="0" y="0" width="5.4" height="2.4" fill="#9a9a9a"/></pattern>
<g clip-path="url(#tc3)">
<rect x="772" y="983" width="199" height="198" fill="#303030" stroke="none" stroke-width="1" />
<g><rect x="752" y="963" width="239" height="238" fill="url(#tp3)" opacity="0.75" filter="url(#tb3)"/></g>
<filter id="tb3"><feGaussianBlur stdDeviation="0.8"/></filter>
<rect x="772" y="983" width="199" height="198" fill="#000" stroke="none" stroke-width="1" filter="url(#tnoise)" opacity="0.55"/>
<filter id="md3" x="0" y="0" width="100%" height="100%"><feTurbulence type="fractalNoise" baseFrequency="0.035" numOctaves="2" seed="24"/><feColorMatrix type="matrix" values="0 0 0 0 0  0 0 0 0 0  0 0 0 0 0  0.16 0 0 0 -0.08"/></filter>
<filter id="ml3" x="0" y="0" width="100%" height="100%"><feTurbulence type="fractalNoise" baseFrequency="0.035" numOctaves="2" seed="24"/><feColorMatrix type="matrix" values="0 0 0 0 1  0 0 0 0 1  0 0 0 0 1  -0.16 0 0 0 0.08"/></filter>
<rect x="772" y="983" width="199" height="198" fill="#000" stroke="none" stroke-width="1" filter="url(#md3)"/>
<rect x="772" y="983" width="199" height="198" fill="#fff" stroke="none" stroke-width="1" filter="url(#ml3)"/>
</g>
<text x="804.8" y="1014.9" font-family='"Liberation Sans",Arial,sans-serif' font-size="27.5" fill="#fff" >d<tspan font-size="15.5" dy="8.6">003</tspan><tspan dy="-8.6">=4.75 Å</tspan></text>
<line x1="832.4" y1="1067" x2="924.3" y2="1072.6" stroke="#fff" stroke-width="3.6" />
<line x1="831.6" y1="1078" x2="923.5" y2="1084.7" stroke="#fff" stroke-width="3.6" />
<line x1="886.8" y1="1028.5" x2="880.1" y2="1065.2" stroke="#fff" stroke-width="3" />
<line x1="880.1" y1="1065.2" x2="887" y2="1056.7" stroke="#fff" stroke-width="3" stroke-linecap="round"/>
<line x1="880.1" y1="1065.2" x2="876.6" y2="1054.8" stroke="#fff" stroke-width="3" stroke-linecap="round"/>
<line x1="872" y1="1121.5" x2="877.2" y2="1087.3" stroke="#fff" stroke-width="3" />
<line x1="877.2" y1="1087.3" x2="870.5" y2="1096.1" stroke="#fff" stroke-width="3" stroke-linecap="round"/>
<line x1="877.2" y1="1087.3" x2="881" y2="1097.6" stroke="#fff" stroke-width="3" stroke-linecap="round"/>
<line x1="782.7" y1="1170.7" x2="929.8" y2="1170.7" stroke="#fff" stroke-width="6" />
<text x="820.6" y="1162.6" font-family='"Liberation Sans",Arial,sans-serif' font-size="23.5" fill="#fff" >10 nm</text>
<text x="1208.3" y="977" font-family='"Liberation Serif","Times New Roman",serif' font-size="28" fill="#111" text-anchor="middle" stroke="#111" stroke-width="0.35">Particle-IV</text>
<clipPath id="tc4"><rect x="1104" y="981" width="199" height="198.6"/></clipPath>
<pattern id="tp4" width="9" height="9" patternUnits="userSpaceOnUse" patternTransform="rotate(27)"><circle cx="4.5" cy="4.5" r="3.2" fill="#a8a8a8"/></pattern>
<g clip-path="url(#tc4)">
<rect x="1104" y="981" width="199" height="198.6" fill="#2a2a2a" stroke="none" stroke-width="1" />
<g><rect x="1084" y="961" width="239" height="238.6" fill="url(#tp4)" opacity="0.75" filter="url(#tb4)"/></g>
<filter id="tb4"><feGaussianBlur stdDeviation="1.6"/></filter>
<rect x="1104" y="981" width="199" height="198.6" fill="#000" stroke="none" stroke-width="1" filter="url(#tnoise)" opacity="0.55"/>
<filter id="md4" x="0" y="0" width="100%" height="100%"><feTurbulence type="fractalNoise" baseFrequency="0.035" numOctaves="2" seed="31"/><feColorMatrix type="matrix" values="0 0 0 0 0  0 0 0 0 0  0 0 0 0 0  0.36 0 0 0 -0.18"/></filter>
<filter id="ml4" x="0" y="0" width="100%" height="100%"><feTurbulence type="fractalNoise" baseFrequency="0.035" numOctaves="2" seed="31"/><feColorMatrix type="matrix" values="0 0 0 0 1  0 0 0 0 1  0 0 0 0 1  -0.36 0 0 0 0.18"/></filter>
<rect x="1104" y="981" width="199" height="198.6" fill="#000" stroke="none" stroke-width="1" filter="url(#md4)"/>
<rect x="1104" y="981" width="199" height="198.6" fill="#fff" stroke="none" stroke-width="1" filter="url(#ml4)"/>
</g>
<text x="1136.8" y="1011.2" font-family='"Liberation Sans",Arial,sans-serif' font-size="27.5" fill="#fff" >d<tspan font-size="15.5" dy="8.6">102</tspan><tspan dy="-8.6">=2.35 Å</tspan></text>
<line x1="1177.2" y1="1059" x2="1260.7" y2="1099.4" stroke="#fff" stroke-width="3.6" />
<line x1="1168.8" y1="1071.8" x2="1252.2" y2="1113" stroke="#fff" stroke-width="3.6" />
<line x1="1240.4" y1="1043.2" x2="1219.5" y2="1076.3" stroke="#fff" stroke-width="2.2" />
<line x1="1219.5" y1="1076.3" x2="1227.4" y2="1071.9" stroke="#fff" stroke-width="2.2" stroke-linecap="round"/>
<line x1="1219.5" y1="1076.3" x2="1220.1" y2="1067.3" stroke="#fff" stroke-width="2.2" stroke-linecap="round"/>
<line x1="1188.2" y1="1128.8" x2="1209.2" y2="1095.7" stroke="#fff" stroke-width="2.2" />
<line x1="1209.2" y1="1095.7" x2="1201.3" y2="1100.1" stroke="#fff" stroke-width="2.2" stroke-linecap="round"/>
<line x1="1209.2" y1="1095.7" x2="1208.6" y2="1104.7" stroke="#fff" stroke-width="2.2" stroke-linecap="round"/>
<line x1="1114.7" y1="1167.8" x2="1225.7" y2="1167.8" stroke="#fff" stroke-width="6" />
<text x="1141.2" y="1157.1" font-family='"Liberation Sans",Arial,sans-serif' font-size="23.5" fill="#fff" >2 nm</text>
<text x="1546.3" y="977" font-family='"Liberation Serif","Times New Roman",serif' font-size="28" fill="#111" text-anchor="middle" stroke="#111" stroke-width="0.35">Particle-V</text>
<clipPath id="tc5"><rect x="1437" y="981" width="211" height="198.5"/></clipPath>
<pattern id="tp5" width="9" height="9" patternUnits="userSpaceOnUse" patternTransform="rotate(40)"><rect x="0" y="0" width="9" height="4" fill="#8a8a8a"/></pattern>
<g clip-path="url(#tc5)">
<rect x="1437" y="981" width="211" height="198.5" fill="#242424" stroke="none" stroke-width="1" />
<g><rect x="1417" y="961" width="251" height="238.5" fill="url(#tp5)" opacity="0.7" filter="url(#tb5)"/></g>
<filter id="tb5"><feGaussianBlur stdDeviation="1.8"/></filter>
<rect x="1437" y="981" width="211" height="198.5" fill="#000" stroke="none" stroke-width="1" filter="url(#tnoise)" opacity="0.55"/>
<filter id="md5" x="0" y="0" width="100%" height="100%"><feTurbulence type="fractalNoise" baseFrequency="0.035" numOctaves="2" seed="38"/><feColorMatrix type="matrix" values="0 0 0 0 0  0 0 0 0 0  0 0 0 0 0  0.3 0 0 0 -0.15"/></filter>
<filter id="ml5" x="0" y="0" width="100%" height="100%"><feTurbulence type="fractalNoise" baseFrequency="0.035" numOctaves="2" seed="38"/><feColorMatrix type="matrix" values="0 0 0 0 1  0 0 0 0 1  0 0 0 0 1  -0.3 0 0 0 0.15"/></filter>
<rect x="1437" y="981" width="211" height="198.5" fill="#000" stroke="none" stroke-width="1" filter="url(#md5)"/>
<rect x="1437" y="981" width="211" height="198.5" fill="#fff" stroke="none" stroke-width="1" filter="url(#ml5)"/>
</g>
<text x="1472.8" y="1010" font-family='"Liberation Sans",Arial,sans-serif' font-size="27.5" fill="#fff" >d<tspan font-size="15.5" dy="8.6">102</tspan><tspan dy="-8.6">=2.35 Å</tspan></text>
<line x1="1522.4" y1="1055.3" x2="1594.1" y2="1114.1" stroke="#fff" stroke-width="3.6" />
<line x1="1512.1" y1="1064.5" x2="1583.1" y2="1123" stroke="#fff" stroke-width="3.6" />
<line x1="1586.8" y1="1055.3" x2="1560.3" y2="1081.8" stroke="#fff" stroke-width="2.2" />
<line x1="1560.3" y1="1081.8" x2="1568.9" y2="1079.3" stroke="#fff" stroke-width="2.2" stroke-linecap="round"/>
<line x1="1560.3" y1="1081.8" x2="1562.8" y2="1073.2" stroke="#fff" stroke-width="2.2" stroke-linecap="round"/>
<line x1="1518" y1="1123.3" x2="1545.6" y2="1096.5" stroke="#fff" stroke-width="2.2" />
<line x1="1545.6" y1="1096.5" x2="1536.9" y2="1098.9" stroke="#fff" stroke-width="2.2" stroke-linecap="round"/>
<line x1="1545.6" y1="1096.5" x2="1542.9" y2="1105.1" stroke="#fff" stroke-width="2.2" stroke-linecap="round"/>
<line x1="1453.3" y1="1168.2" x2="1554.8" y2="1168.2" stroke="#fff" stroke-width="6" />
<text x="1476.5" y="1157.1" font-family='"Liberation Sans",Arial,sans-serif' font-size="23.5" fill="#fff" >2 nm</text>
<text x="1882.7" y="977" font-family='"Liberation Serif","Times New Roman",serif' font-size="28" fill="#111" text-anchor="middle" stroke="#111" stroke-width="0.35">Particle-VI</text>
<clipPath id="tc6"><rect x="1784" y="981" width="198" height="198"/></clipPath>
<pattern id="tp6" width="7" height="7" patternUnits="userSpaceOnUse" patternTransform="rotate(0)"><circle cx="3.5" cy="3.5" r="2.4" fill="#b8b8b8"/></pattern>
<g clip-path="url(#tc6)">
<rect x="1784" y="981" width="198" height="198" fill="#2c2c2c" stroke="none" stroke-width="1" />
<linearGradient id="tg6" x1="0" y1="0" x2="1" y2="0"><stop offset="0" stop-color="#fff" stop-opacity="0.45"/><stop offset="1" stop-color="#fff" stop-opacity="1.0"/></linearGradient>
<mask id="tm6"><rect x="1784" y="981" width="198" height="198" fill="url(#tg6)"/></mask>
<g mask="url(#tm6)"><rect x="1764" y="961" width="238" height="238" fill="url(#tp6)" opacity="0.75" filter="url(#tb6)"/></g>
<filter id="tb6"><feGaussianBlur stdDeviation="1.2"/></filter>
<rect x="1784" y="981" width="198" height="198" fill="#000" stroke="none" stroke-width="1" filter="url(#tnoise)" opacity="0.55"/>
<filter id="md6" x="0" y="0" width="100%" height="100%"><feTurbulence type="fractalNoise" baseFrequency="0.035" numOctaves="2" seed="45"/><feColorMatrix type="matrix" values="0 0 0 0 0  0 0 0 0 0  0 0 0 0 0  0.36 0 0 0 -0.18"/></filter>
<filter id="ml6" x="0" y="0" width="100%" height="100%"><feTurbulence type="fractalNoise" baseFrequency="0.035" numOctaves="2" seed="45"/><feColorMatrix type="matrix" values="0 0 0 0 1  0 0 0 0 1  0 0 0 0 1  -0.36 0 0 0 0.18"/></filter>
<rect x="1784" y="981" width="198" height="198" fill="#000" stroke="none" stroke-width="1" filter="url(#md6)"/>
<rect x="1784" y="981" width="198" height="198" fill="#fff" stroke="none" stroke-width="1" filter="url(#ml6)"/>
</g>
<text x="1814.7" y="1009.3" font-family='"Liberation Sans",Arial,sans-serif' font-size="27.5" fill="#fff" >d<tspan font-size="15.5" dy="8.6">104</tspan><tspan dy="-8.6">=2.04 Å</tspan></text>
<line x1="1882.7" y1="1039.5" x2="1877.9" y2="1128.8" stroke="#fff" stroke-width="3.6" />
<line x1="1896.3" y1="1041.3" x2="1891.2" y2="1129.6" stroke="#fff" stroke-width="3.6" />
<line x1="1839.7" y1="1082.5" x2="1877.2" y2="1084.7" stroke="#fff" stroke-width="2.2" />
<line x1="1877.2" y1="1084.7" x2="1869.6" y2="1079.9" stroke="#fff" stroke-width="2.2" stroke-linecap="round"/>
<line x1="1877.2" y1="1084.7" x2="1869.1" y2="1088.5" stroke="#fff" stroke-width="2.2" stroke-linecap="round"/>
<line x1="1933.1" y1="1086.2" x2="1897.4" y2="1084.7" stroke="#fff" stroke-width="2.2" />
<line x1="1897.4" y1="1084.7" x2="1905.1" y2="1089.3" stroke="#fff" stroke-width="2.2" stroke-linecap="round"/>
<line x1="1897.4" y1="1084.7" x2="1905.5" y2="1080.7" stroke="#fff" stroke-width="2.2" stroke-linecap="round"/>
<line x1="1790.1" y1="1168.5" x2="1904.8" y2="1168.5" stroke="#fff" stroke-width="6" />
<text x="1822" y="1159" font-family='"Liberation Sans",Arial,sans-serif' font-size="23.5" fill="#fff" >2 nm</text>
<text x="2.5" y="1281" font-family='"Liberation Sans",Arial,sans-serif' font-size="43" fill="#111" font-weight="bold" >e</text>
<rect x="85" y="1256.2" width="250.9" height="232.8" fill="#f4f5fb" stroke="none" stroke-width="1" />
<rect x="399.6" y="1256.2" width="256.6" height="232.8" fill="#f4f5fb" stroke="none" stroke-width="1" />
<rect x="729" y="1256.2" width="256.9" height="232.8" fill="#f4f5fb" stroke="none" stroke-width="1" />
<rect x="1055.9" y="1256.2" width="263.1" height="232.8" fill="#f4f5fb" stroke="none" stroke-width="1" />
<rect x="1388.4" y="1256.2" width="263.4" height="232.8" fill="#f4f5fb" stroke="none" stroke-width="1" />
<rect x="1718.4" y="1256.2" width="262.6" height="232.8" fill="#f4f5fb" stroke="none" stroke-width="1" />
<line x1="85" y1="1256.2" x2="1981.5" y2="1256.2" stroke="#333" stroke-width="2.2" />
<line x1="85" y1="1489" x2="1981.5" y2="1489" stroke="#333" stroke-width="2.2" />
<line x1="85" y1="1255.2" x2="85" y2="1490" stroke="#333" stroke-width="2.2" />
<line x1="1981.5" y1="1255.2" x2="1981.5" y2="1490" stroke="#333" stroke-width="2.2" />
<rect x="360.8" y="1253.2" width="10" height="6" fill="#fff" stroke="none" stroke-width="1" />
<line x1="360.3" y1="1249.2" x2="365.3" y2="1263.2" stroke="#333" stroke-width="1.8" />
<line x1="366.3" y1="1249.2" x2="371.3" y2="1263.2" stroke="#333" stroke-width="1.8" />
<rect x="360.8" y="1486" width="10" height="6" fill="#fff" stroke="none" stroke-width="1" />
<line x1="360.3" y1="1482" x2="365.3" y2="1496" stroke="#333" stroke-width="1.8" />
<line x1="366.3" y1="1482" x2="371.3" y2="1496" stroke="#333" stroke-width="1.8" />
<rect x="687.3" y="1253.2" width="10" height="6" fill="#fff" stroke="none" stroke-width="1" />
<line x1="686.8" y1="1249.2" x2="691.8" y2="1263.2" stroke="#333" stroke-width="1.8" />
<line x1="692.8" y1="1249.2" x2="697.8" y2="1263.2" stroke="#333" stroke-width="1.8" />
<rect x="687.3" y="1486" width="10" height="6" fill="#fff" stroke="none" stroke-width="1" />
<line x1="686.8" y1="1482" x2="691.8" y2="1496" stroke="#333" stroke-width="1.8" />
<line x1="692.8" y1="1482" x2="697.8" y2="1496" stroke="#333" stroke-width="1.8" />
<rect x="1015.5" y="1253.2" width="10" height="6" fill="#fff" stroke="none" stroke-width="1" />
<line x1="1015" y1="1249.2" x2="1020" y2="1263.2" stroke="#333" stroke-width="1.8" />
<line x1="1021" y1="1249.2" x2="1026" y2="1263.2" stroke="#333" stroke-width="1.8" />
<rect x="1015.5" y="1486" width="10" height="6" fill="#fff" stroke="none" stroke-width="1" />
<line x1="1015" y1="1482" x2="1020" y2="1496" stroke="#333" stroke-width="1.8" />
<line x1="1021" y1="1482" x2="1026" y2="1496" stroke="#333" stroke-width="1.8" />
<rect x="1350" y="1253.2" width="10" height="6" fill="#fff" stroke="none" stroke-width="1" />
<line x1="1349.5" y1="1249.2" x2="1354.5" y2="1263.2" stroke="#333" stroke-width="1.8" />
<line x1="1355.5" y1="1249.2" x2="1360.5" y2="1263.2" stroke="#333" stroke-width="1.8" />
<rect x="1350" y="1486" width="10" height="6" fill="#fff" stroke="none" stroke-width="1" />
<line x1="1349.5" y1="1482" x2="1354.5" y2="1496" stroke="#333" stroke-width="1.8" />
<line x1="1355.5" y1="1482" x2="1360.5" y2="1496" stroke="#333" stroke-width="1.8" />
<rect x="1679.2" y="1253.2" width="10" height="6" fill="#fff" stroke="none" stroke-width="1" />
<line x1="1678.7" y1="1249.2" x2="1683.7" y2="1263.2" stroke="#333" stroke-width="1.8" />
<line x1="1684.7" y1="1249.2" x2="1689.7" y2="1263.2" stroke="#333" stroke-width="1.8" />
<rect x="1679.2" y="1486" width="10" height="6" fill="#fff" stroke="none" stroke-width="1" />
<line x1="1678.7" y1="1482" x2="1683.7" y2="1496" stroke="#333" stroke-width="1.8" />
<line x1="1684.7" y1="1482" x2="1689.7" y2="1496" stroke="#333" stroke-width="1.8" />
<line x1="80" y1="1488.8" x2="85" y2="1488.8" stroke="#333" stroke-width="1.8" />
<text x="75.5" y="1495.8" font-family='"Liberation Sans",Arial,sans-serif' font-size="19.5" fill="#333" text-anchor="end" >0</text>
<line x1="82" y1="1453" x2="85" y2="1453" stroke="#333" stroke-width="1.8" />
<line x1="80" y1="1417.1" x2="85" y2="1417.1" stroke="#333" stroke-width="1.8" />
<text x="75.5" y="1424.1" font-family='"Liberation Sans",Arial,sans-serif' font-size="19.5" fill="#333" text-anchor="end" >10</text>
<line x1="82" y1="1381.2" x2="85" y2="1381.2" stroke="#333" stroke-width="1.8" />
<line x1="80" y1="1345.4" x2="85" y2="1345.4" stroke="#333" stroke-width="1.8" />
<text x="75.5" y="1352.4" font-family='"Liberation Sans",Arial,sans-serif' font-size="19.5" fill="#333" text-anchor="end" >20</text>
<line x1="82" y1="1309.5" x2="85" y2="1309.5" stroke="#333" stroke-width="1.8" />
<line x1="80" y1="1273.7" x2="85" y2="1273.7" stroke="#333" stroke-width="1.8" />
<text x="75.5" y="1280.7" font-family='"Liberation Sans",Arial,sans-serif' font-size="19.5" fill="#333" text-anchor="end" >30</text>
<text x="0" y="0" font-family='"Liberation Sans",Arial,sans-serif' font-size="26" fill="#333" text-anchor="middle" transform="translate(46,1373) rotate(-90)">Area/μm<tspan font-size="17" dy="-10">2</tspan></text>
<text x="974" y="1534" font-family='"Liberation Sans",Arial,sans-serif' font-size="29.7" fill="#333" >Number</text>
<text x="105.7" y="1480.5" font-family='"Liberation Serif","Times New Roman",serif' font-size="35" fill="#222" text-anchor="middle" >I</text>
<line x1="115" y1="1489" x2="115" y2="1493.5" stroke="#333" stroke-width="1.6" />
<circle cx="115" cy="1504.4" r="9" fill="none" stroke="#333" stroke-width="1.3" />
<text x="115" y="1510" font-family='"Liberation Sans",Arial,sans-serif' font-size="16" fill="#333" text-anchor="middle" >1</text>
<line x1="152.8" y1="1489" x2="152.8" y2="1493.5" stroke="#333" stroke-width="1.6" />
<circle cx="152.8" cy="1504.4" r="9" fill="none" stroke="#333" stroke-width="1.3" />
<text x="152.8" y="1510" font-family='"Liberation Sans",Arial,sans-serif' font-size="16" fill="#333" text-anchor="middle" >2</text>
<line x1="191" y1="1489" x2="191" y2="1493.5" stroke="#333" stroke-width="1.6" />
<circle cx="191" cy="1504.4" r="9" fill="none" stroke="#333" stroke-width="1.3" />
<text x="191" y="1510" font-family='"Liberation Sans",Arial,sans-serif' font-size="16" fill="#333" text-anchor="middle" >3</text>
<line x1="229.3" y1="1489" x2="229.3" y2="1493.5" stroke="#333" stroke-width="1.6" />
<circle cx="229.3" cy="1504.4" r="9" fill="none" stroke="#333" stroke-width="1.3" />
<text x="229.3" y="1510" font-family='"Liberation Sans",Arial,sans-serif' font-size="16" fill="#333" text-anchor="middle" >4</text>
<line x1="266" y1="1489" x2="266" y2="1493.5" stroke="#333" stroke-width="1.6" />
<circle cx="266" cy="1504.4" r="9" fill="none" stroke="#333" stroke-width="1.3" />
<text x="266" y="1510" font-family='"Liberation Sans",Arial,sans-serif' font-size="16" fill="#333" text-anchor="middle" >5</text>
<line x1="303.8" y1="1489" x2="303.8" y2="1493.5" stroke="#333" stroke-width="1.6" />
<circle cx="303.8" cy="1504.4" r="9" fill="none" stroke="#333" stroke-width="1.3" />
<text x="303.8" y="1510" font-family='"Liberation Sans",Arial,sans-serif' font-size="16" fill="#333" text-anchor="middle" >6</text>
<line x1="115" y1="1336" x2="115" y2="1370.6" stroke="#3f6db3" stroke-width="2.7" />
<line x1="106" y1="1336" x2="124" y2="1336" stroke="#3f6db3" stroke-width="3.2" />
<line x1="106" y1="1370.6" x2="124" y2="1370.6" stroke="#3f6db3" stroke-width="3.2" />
<line x1="152.8" y1="1401.8" x2="152.8" y2="1412.5" stroke="#3f6db3" stroke-width="2.7" />
<line x1="143.8" y1="1401.8" x2="161.8" y2="1401.8" stroke="#3f6db3" stroke-width="3.2" />
<line x1="143.8" y1="1412.5" x2="161.8" y2="1412.5" stroke="#3f6db3" stroke-width="3.2" />
<line x1="191" y1="1263.2" x2="191" y2="1283" stroke="#3a9b2b" stroke-width="2.7" />
<line x1="182" y1="1263.2" x2="200" y2="1263.2" stroke="#3a9b2b" stroke-width="3.2" />
<line x1="182" y1="1283" x2="200" y2="1283" stroke="#3a9b2b" stroke-width="3.2" />
<line x1="229.3" y1="1330.9" x2="229.3" y2="1375.7" stroke="#c2186b" stroke-width="2.7" />
<line x1="220.3" y1="1330.9" x2="238.3" y2="1330.9" stroke="#c2186b" stroke-width="3.2" />
<line x1="220.3" y1="1375.7" x2="238.3" y2="1375.7" stroke="#c2186b" stroke-width="3.2" />
<rect x="257" y="1376" width="18" height="4" fill="#e8771a" stroke="none" stroke-width="1" />
<line x1="303.8" y1="1433" x2="303.8" y2="1442.6" stroke="#7a3aad" stroke-width="2.7" />
<line x1="294.8" y1="1433" x2="312.8" y2="1433" stroke="#7a3aad" stroke-width="3.2" />
<line x1="294.8" y1="1442.6" x2="312.8" y2="1442.6" stroke="#7a3aad" stroke-width="3.2" />
<text x="89" y="1327.2" font-family='"Liberation Sans",Arial,sans-serif' font-size="25" fill="#3f6db3" >(003)</text>
<text x="119.7" y="1392" font-family='"Liberation Sans",Arial,sans-serif' font-size="25" fill="#3f6db3" >(003)</text>
<text x="160.9" y="1313.2" font-family='"Liberation Sans",Arial,sans-serif' font-size="25" fill="#3a9b2b" >(114)</text>
<line x1="171.7" y1="1291.7" x2="180.1" y2="1291.7" stroke="#3a9b2b" stroke-width="2.1" />
<text x="188" y="1403.7" font-family='"Liberation Sans",Arial,sans-serif' font-size="25" fill="#c2186b" >(011)</text>
<line x1="212.7" y1="1382.2" x2="221.1" y2="1382.2" stroke="#c2186b" stroke-width="2.1" />
<text x="249.9" y="1403.7" font-family='"Liberation Sans",Arial,sans-serif' font-size="25" fill="#e8771a" >(201)</text>
<line x1="260.7" y1="1382.2" x2="269.1" y2="1382.2" stroke="#e8771a" stroke-width="2.1" />
<text x="276.3" y="1474.3" font-family='"Liberation Sans",Arial,sans-serif' font-size="25" fill="#7a3aad" >(113)</text>
<line x1="313.1" y1="1452.8" x2="321.4" y2="1452.8" stroke="#7a3aad" stroke-width="2.1" />
<text x="430" y="1480.5" font-family='"Liberation Serif","Times New Roman",serif' font-size="35" fill="#222" text-anchor="middle" >II</text>
<line x1="428.5" y1="1489" x2="428.5" y2="1493.5" stroke="#333" stroke-width="1.6" />
<circle cx="428.5" cy="1504.4" r="9" fill="none" stroke="#333" stroke-width="1.3" />
<text x="428.5" y="1510" font-family='"Liberation Sans",Arial,sans-serif' font-size="16" fill="#333" text-anchor="middle" >1</text>
<line x1="461.6" y1="1489" x2="461.6" y2="1493.5" stroke="#333" stroke-width="1.6" />
<circle cx="461.6" cy="1504.4" r="9" fill="none" stroke="#333" stroke-width="1.3" />
<text x="461.6" y="1510" font-family='"Liberation Sans",Arial,sans-serif' font-size="16" fill="#333" text-anchor="middle" >2</text>
<line x1="494" y1="1489" x2="494" y2="1493.5" stroke="#333" stroke-width="1.6" />
<circle cx="494" cy="1504.4" r="9" fill="none" stroke="#333" stroke-width="1.3" />
<text x="494" y="1510" font-family='"Liberation Sans",Arial,sans-serif' font-size="16" fill="#333" text-anchor="middle" >3</text>
<line x1="527" y1="1489" x2="527" y2="1493.5" stroke="#333" stroke-width="1.6" />
<circle cx="527" cy="1504.4" r="9" fill="none" stroke="#333" stroke-width="1.3" />
<text x="527" y="1510" font-family='"Liberation Sans",Arial,sans-serif' font-size="16" fill="#333" text-anchor="middle" >4</text>
<line x1="560.1" y1="1489" x2="560.1" y2="1493.5" stroke="#333" stroke-width="1.6" />
<circle cx="560.1" cy="1504.4" r="9" fill="none" stroke="#333" stroke-width="1.3" />
<text x="560.1" y="1510" font-family='"Liberation Sans",Arial,sans-serif' font-size="16" fill="#333" text-anchor="middle" >5</text>
<line x1="593" y1="1489" x2="593" y2="1493.5" stroke="#333" stroke-width="1.6" />
<circle cx="593" cy="1504.4" r="9" fill="none" stroke="#333" stroke-width="1.3" />
<text x="593" y="1510" font-family='"Liberation Sans",Arial,sans-serif' font-size="16" fill="#333" text-anchor="middle" >6</text>
<line x1="626" y1="1489" x2="626" y2="1493.5" stroke="#333" stroke-width="1.6" />
<circle cx="626" cy="1504.4" r="9" fill="none" stroke="#333" stroke-width="1.3" />
<text x="626" y="1510" font-family='"Liberation Sans",Arial,sans-serif' font-size="16" fill="#333" text-anchor="middle" >7</text>
<line x1="428.5" y1="1328" x2="428.5" y2="1360" stroke="#3f6db3" stroke-width="2.7" />
<line x1="419.5" y1="1328" x2="437.5" y2="1328" stroke="#3f6db3" stroke-width="3.2" />
<line x1="419.5" y1="1360" x2="437.5" y2="1360" stroke="#3f6db3" stroke-width="3.2" />
<line x1="461.6" y1="1307.6" x2="461.6" y2="1331.3" stroke="#3f6db3" stroke-width="2.7" />
<line x1="452.6" y1="1307.6" x2="470.6" y2="1307.6" stroke="#3f6db3" stroke-width="3.2" />
<line x1="452.6" y1="1331.3" x2="470.6" y2="1331.3" stroke="#3f6db3" stroke-width="3.2" />
<line x1="494" y1="1323" x2="494" y2="1374.3" stroke="#a0522d" stroke-width="2.7" />
<line x1="485" y1="1323" x2="503" y2="1323" stroke="#a0522d" stroke-width="3.2" />
<line x1="485" y1="1374.3" x2="503" y2="1374.3" stroke="#a0522d" stroke-width="3.2" />
<line x1="527" y1="1392.6" x2="527" y2="1408.5" stroke="#c2186b" stroke-width="2.7" />
<line x1="518" y1="1392.6" x2="536" y2="1392.6" stroke="#c2186b" stroke-width="3.2" />
<line x1="518" y1="1408.5" x2="536" y2="1408.5" stroke="#c2186b" stroke-width="3.2" />
<line x1="560.1" y1="1322" x2="560.1" y2="1356.2" stroke="#a0522d" stroke-width="2.7" />
<line x1="551.1" y1="1322" x2="569.1" y2="1322" stroke="#a0522d" stroke-width="3.2" />
<line x1="551.1" y1="1356.2" x2="569.1" y2="1356.2" stroke="#a0522d" stroke-width="3.2" />
<rect x="584" y="1467.9" width="18" height="4" fill="#c2186b" stroke="none" stroke-width="1" />
<line x1="626" y1="1379.4" x2="626" y2="1387.5" stroke="#c2186b" stroke-width="2.7" />
<line x1="617" y1="1379.4" x2="635" y2="1379.4" stroke="#c2186b" stroke-width="3.2" />
<line x1="617" y1="1387.5" x2="635" y2="1387.5" stroke="#c2186b" stroke-width="3.2" />
<text x="400.3" y="1389" font-family='"Liberation Sans",Arial,sans-serif' font-size="25" fill="#3f6db3" >(003)</text>
<text x="434" y="1301.5" font-family='"Liberation Sans",Arial,sans-serif' font-size="25" fill="#3f6db3" >(003)</text>
<text x="459" y="1397" font-family='"Liberation Sans",Arial,sans-serif' font-size="25" fill="#a0522d" >(102)</text>
<text x="496.6" y="1438.2" font-family='"Liberation Sans",Arial,sans-serif' font-size="25" fill="#c2186b" >(111)</text>
<line x1="521.3" y1="1416.7" x2="529.7" y2="1416.7" stroke="#c2186b" stroke-width="2.1" />
<text x="529.7" y="1314.7" font-family='"Liberation Sans",Arial,sans-serif' font-size="25" fill="#a0522d" >(102)</text>
<line x1="540.5" y1="1293.2" x2="548.9" y2="1293.2" stroke="#a0522d" stroke-width="2.1" />
<text x="562.8" y="1455.1" font-family='"Liberation Sans",Arial,sans-serif' font-size="25" fill="#c2186b" >(101)</text>
<line x1="573.6" y1="1433.6" x2="582" y2="1433.6" stroke="#c2186b" stroke-width="2.1" />
<text x="595" y="1413.2" font-family='"Liberation Sans",Arial,sans-serif' font-size="25" fill="#c2186b" >(111)</text>
<line x1="605.8" y1="1391.7" x2="614.2" y2="1391.7" stroke="#c2186b" stroke-width="2.1" />
<text x="757" y="1480.5" font-family='"Liberation Serif","Times New Roman",serif' font-size="35" fill="#222" text-anchor="middle" >III</text>
<line x1="759" y1="1489" x2="759" y2="1493.5" stroke="#333" stroke-width="1.6" />
<circle cx="759" cy="1504.4" r="9" fill="none" stroke="#333" stroke-width="1.3" />
<text x="759" y="1510" font-family='"Liberation Sans",Arial,sans-serif' font-size="16" fill="#333" text-anchor="middle" >1</text>
<line x1="792" y1="1489" x2="792" y2="1493.5" stroke="#333" stroke-width="1.6" />
<circle cx="792" cy="1504.4" r="9" fill="none" stroke="#333" stroke-width="1.3" />
<text x="792" y="1510" font-family='"Liberation Sans",Arial,sans-serif' font-size="16" fill="#333" text-anchor="middle" >2</text>
<line x1="825.1" y1="1489" x2="825.1" y2="1493.5" stroke="#333" stroke-width="1.6" />
<circle cx="825.1" cy="1504.4" r="9" fill="none" stroke="#333" stroke-width="1.3" />
<text x="825.1" y="1510" font-family='"Liberation Sans",Arial,sans-serif' font-size="16" fill="#333" text-anchor="middle" >3</text>
<line x1="858.2" y1="1489" x2="858.2" y2="1493.5" stroke="#333" stroke-width="1.6" />
<circle cx="858.2" cy="1504.4" r="9" fill="none" stroke="#333" stroke-width="1.3" />
<text x="858.2" y="1510" font-family='"Liberation Sans",Arial,sans-serif' font-size="16" fill="#333" text-anchor="middle" >4</text>
<line x1="890.9" y1="1489" x2="890.9" y2="1493.5" stroke="#333" stroke-width="1.6" />
<circle cx="890.9" cy="1504.4" r="9" fill="none" stroke="#333" stroke-width="1.3" />
<text x="890.9" y="1510" font-family='"Liberation Sans",Arial,sans-serif' font-size="16" fill="#333" text-anchor="middle" >5</text>
<line x1="924.4" y1="1489" x2="924.4" y2="1493.5" stroke="#333" stroke-width="1.6" />
<circle cx="924.4" cy="1504.4" r="9" fill="none" stroke="#333" stroke-width="1.3" />
<text x="924.4" y="1510" font-family='"Liberation Sans",Arial,sans-serif' font-size="16" fill="#333" text-anchor="middle" >6</text>
<line x1="957" y1="1489" x2="957" y2="1493.5" stroke="#333" stroke-width="1.6" />
<circle cx="957" cy="1504.4" r="9" fill="none" stroke="#333" stroke-width="1.3" />
<text x="957" y="1510" font-family='"Liberation Sans",Arial,sans-serif' font-size="16" fill="#333" text-anchor="middle" >7</text>
<line x1="759" y1="1308.8" x2="759" y2="1314" stroke="#3f6db3" stroke-width="2.7" />
<line x1="750" y1="1308.8" x2="768" y2="1308.8" stroke="#3f6db3" stroke-width="3.2" />
<line x1="750" y1="1314" x2="768" y2="1314" stroke="#3f6db3" stroke-width="3.2" />
<rect x="783" y="1268.6" width="18" height="4" fill="#3f6db3" stroke="none" stroke-width="1" />
<line x1="825.1" y1="1335" x2="825.1" y2="1358.8" stroke="#c2186b" stroke-width="2.7" />
<line x1="816.1" y1="1335" x2="834.1" y2="1335" stroke="#c2186b" stroke-width="3.2" />
<line x1="816.1" y1="1358.8" x2="834.1" y2="1358.8" stroke="#c2186b" stroke-width="3.2" />
<rect x="849.2" y="1440" width="18" height="4" fill="#e8771a" stroke="none" stroke-width="1" />
<line x1="890.9" y1="1370.6" x2="890.9" y2="1386" stroke="#a0522d" stroke-width="2.7" />
<line x1="881.9" y1="1370.6" x2="899.9" y2="1370.6" stroke="#a0522d" stroke-width="3.2" />
<line x1="881.9" y1="1386" x2="899.9" y2="1386" stroke="#a0522d" stroke-width="3.2" />
<line x1="924.4" y1="1346" x2="924.4" y2="1377.6" stroke="#c2186b" stroke-width="2.7" />
<line x1="915.4" y1="1346" x2="933.4" y2="1346" stroke="#c2186b" stroke-width="3.2" />
<line x1="915.4" y1="1377.6" x2="933.4" y2="1377.6" stroke="#c2186b" stroke-width="3.2" />
<rect x="948" y="1443.6" width="18" height="4" fill="#7a3aad" stroke="none" stroke-width="1" />
<text x="731" y="1343.4" font-family='"Liberation Sans",Arial,sans-serif' font-size="25" fill="#3f6db3" >(003)</text>
<text x="764.9" y="1302.2" font-family='"Liberation Sans",Arial,sans-serif' font-size="25" fill="#3f6db3" >(003)</text>
<text x="795.7" y="1386" font-family='"Liberation Sans",Arial,sans-serif' font-size="25" fill="#c2186b" >(101)</text>
<text x="831" y="1475.7" font-family='"Liberation Sans",Arial,sans-serif' font-size="25" fill="#e8771a" >(021)</text>
<line x1="855.7" y1="1454.2" x2="864.1" y2="1454.2" stroke="#e8771a" stroke-width="2.1" />
<text x="863.4" y="1418.4" font-family='"Liberation Sans",Arial,sans-serif' font-size="25" fill="#a0522d" >(112)</text>
<line x1="874.2" y1="1396.9" x2="882.6" y2="1396.9" stroke="#a0522d" stroke-width="2.1" />
<line x1="900.2" y1="1396.9" x2="908.5" y2="1396.9" stroke="#a0522d" stroke-width="2.1" />
<text x="894.3" y="1338.2" font-family='"Liberation Sans",Arial,sans-serif' font-size="25" fill="#c2186b" >(101)</text>
<line x1="905.1" y1="1316.7" x2="913.5" y2="1316.7" stroke="#c2186b" stroke-width="2.1" />
<text x="925.9" y="1433" font-family='"Liberation Sans",Arial,sans-serif' font-size="25" fill="#7a3aad" >(113)</text>
<line x1="950.6" y1="1411.5" x2="959" y2="1411.5" stroke="#7a3aad" stroke-width="2.1" />
<text x="1086" y="1480.5" font-family='"Liberation Serif","Times New Roman",serif' font-size="35" fill="#222" text-anchor="middle" >IV</text>
<line x1="1090" y1="1489" x2="1090" y2="1493.5" stroke="#333" stroke-width="1.6" />
<circle cx="1090" cy="1504.4" r="9" fill="none" stroke="#333" stroke-width="1.3" />
<text x="1090" y="1510" font-family='"Liberation Sans",Arial,sans-serif' font-size="16" fill="#333" text-anchor="middle" >1</text>
<line x1="1116.5" y1="1489" x2="1116.5" y2="1493.5" stroke="#333" stroke-width="1.6" />
<circle cx="1116.5" cy="1504.4" r="9" fill="none" stroke="#333" stroke-width="1.3" />
<text x="1116.5" y="1510" font-family='"Liberation Sans",Arial,sans-serif' font-size="16" fill="#333" text-anchor="middle" >2</text>
<line x1="1144" y1="1489" x2="1144" y2="1493.5" stroke="#333" stroke-width="1.6" />
<circle cx="1144" cy="1504.4" r="9" fill="none" stroke="#333" stroke-width="1.3" />
<text x="1144" y="1510" font-family='"Liberation Sans",Arial,sans-serif' font-size="16" fill="#333" text-anchor="middle" >3</text>
<line x1="1171.3" y1="1489" x2="1171.3" y2="1493.5" stroke="#333" stroke-width="1.6" />
<circle cx="1171.3" cy="1504.4" r="9" fill="none" stroke="#333" stroke-width="1.3" />
<text x="1171.3" y="1510" font-family='"Liberation Sans",Arial,sans-serif' font-size="16" fill="#333" text-anchor="middle" >4</text>
<line x1="1198" y1="1489" x2="1198" y2="1493.5" stroke="#333" stroke-width="1.6" />
<circle cx="1198" cy="1504.4" r="9" fill="none" stroke="#333" stroke-width="1.3" />
<text x="1198" y="1510" font-family='"Liberation Sans",Arial,sans-serif' font-size="16" fill="#333" text-anchor="middle" >5</text>
<line x1="1225.6" y1="1489" x2="1225.6" y2="1493.5" stroke="#333" stroke-width="1.6" />
<circle cx="1225.6" cy="1504.4" r="9" fill="none" stroke="#333" stroke-width="1.3" />
<text x="1225.6" y="1510" font-family='"Liberation Sans",Arial,sans-serif' font-size="16" fill="#333" text-anchor="middle" >6</text>
<line x1="1252.8" y1="1489" x2="1252.8" y2="1493.5" stroke="#333" stroke-width="1.6" />
<circle cx="1252.8" cy="1504.4" r="9" fill="none" stroke="#333" stroke-width="1.3" />
<text x="1252.8" y="1510" font-family='"Liberation Sans",Arial,sans-serif' font-size="16" fill="#333" text-anchor="middle" >7</text>
<line x1="1280" y1="1489" x2="1280" y2="1493.5" stroke="#333" stroke-width="1.6" />
<circle cx="1280" cy="1504.4" r="9" fill="none" stroke="#333" stroke-width="1.3" />
<text x="1280" y="1510" font-family='"Liberation Sans",Arial,sans-serif' font-size="16" fill="#333" text-anchor="middle" >8</text>
<line x1="1090" y1="1394.9" x2="1090" y2="1404.4" stroke="#3f6db3" stroke-width="2.7" />
<line x1="1081" y1="1394.9" x2="1099" y2="1394.9" stroke="#3f6db3" stroke-width="3.2" />
<line x1="1081" y1="1404.4" x2="1099" y2="1404.4" stroke="#3f6db3" stroke-width="3.2" />
<line x1="1116.5" y1="1397.5" x2="1116.5" y2="1405.6" stroke="#3f6db3" stroke-width="2.7" />
<line x1="1107.5" y1="1397.5" x2="1125.5" y2="1397.5" stroke="#3f6db3" stroke-width="3.2" />
<line x1="1107.5" y1="1405.6" x2="1125.5" y2="1405.6" stroke="#3f6db3" stroke-width="3.2" />
<rect x="1135" y="1465" width="18" height="4" fill="#a0522d" stroke="none" stroke-width="1" />
<rect x="1162.3" y="1467" width="18" height="4" fill="#3a9b2b" stroke="none" stroke-width="1" />
<line x1="1198" y1="1458.5" x2="1198" y2="1465.9" stroke="#7a3aad" stroke-width="2.7" />
<line x1="1189" y1="1458.5" x2="1207" y2="1458.5" stroke="#7a3aad" stroke-width="3.2" />
<line x1="1189" y1="1465.9" x2="1207" y2="1465.9" stroke="#7a3aad" stroke-width="3.2" />
<line x1="1225.6" y1="1451.2" x2="1225.6" y2="1464" stroke="#e8771a" stroke-width="2.7" />
<line x1="1216.6" y1="1451.2" x2="1234.6" y2="1451.2" stroke="#e8771a" stroke-width="3.2" />
<line x1="1216.6" y1="1464" x2="1234.6" y2="1464" stroke="#e8771a" stroke-width="3.2" />
<line x1="1252.8" y1="1463" x2="1252.8" y2="1469" stroke="#3a9b2b" stroke-width="2.7" />
<line x1="1243.8" y1="1463" x2="1261.8" y2="1463" stroke="#3a9b2b" stroke-width="3.2" />
<line x1="1243.8" y1="1469" x2="1261.8" y2="1469" stroke="#3a9b2b" stroke-width="3.2" />
<line x1="1280" y1="1465" x2="1280" y2="1469" stroke="#a0522d" stroke-width="2.7" />
<line x1="1271" y1="1465" x2="1289" y2="1465" stroke="#a0522d" stroke-width="3.2" />
<line x1="1271" y1="1469" x2="1289" y2="1469" stroke="#a0522d" stroke-width="3.2" />
<text x="1087.8" y="1351.5" font-family='"Liberation Sans",Arial,sans-serif' font-size="25" fill="#3f6db3" >(003)</text>
<text x="1058.8" y="1380.1" font-family='"Liberation Sans",Arial,sans-serif' font-size="25" fill="#3f6db3" >(003)</text>
<text x="1142.2" y="1412.5" font-family='"Liberation Sans",Arial,sans-serif' font-size="25" fill="#3a9b2b" >(014)</text>
<line x1="1166.9" y1="1391" x2="1175.3" y2="1391" stroke="#3a9b2b" stroke-width="2.1" />
<line x1="1180.8" y1="1391" x2="1189.2" y2="1391" stroke="#3a9b2b" stroke-width="2.1" />
<text x="1201" y="1412.5" font-family='"Liberation Sans",Arial,sans-serif' font-size="25" fill="#e8771a" >(201)</text>
<line x1="1211.8" y1="1391" x2="1220.2" y2="1391" stroke="#e8771a" stroke-width="2.1" />
<text x="1259" y="1412.5" font-family='"Liberation Sans",Arial,sans-serif' font-size="25" fill="#a0522d" >(102)</text>
<line x1="1297.6" y1="1391" x2="1306" y2="1391" stroke="#a0522d" stroke-width="2.1" />
<text x="1112.8" y="1440.4" font-family='"Liberation Sans",Arial,sans-serif' font-size="25" fill="#a0522d" >(112)</text>
<line x1="1123.6" y1="1418.9" x2="1132" y2="1418.9" stroke="#a0522d" stroke-width="2.1" />
<line x1="1149.6" y1="1418.9" x2="1157.9" y2="1418.9" stroke="#a0522d" stroke-width="2.1" />
<text x="1170.9" y="1440.4" font-family='"Liberation Sans",Arial,sans-serif' font-size="25" fill="#7a3aad" >(113)</text>
<line x1="1181.7" y1="1418.9" x2="1190.1" y2="1418.9" stroke="#7a3aad" stroke-width="2.1" />
<line x1="1195.6" y1="1418.9" x2="1204" y2="1418.9" stroke="#7a3aad" stroke-width="2.1" />
<text x="1228.2" y="1440.4" font-family='"Liberation Sans",Arial,sans-serif' font-size="25" fill="#3a9b2b" >(014)</text>
<text x="1409.3" y="1480.5" font-family='"Liberation Serif","Times New Roman",serif' font-size="35" fill="#222" text-anchor="middle" >V</text>
<line x1="1423.2" y1="1489" x2="1423.2" y2="1493.5" stroke="#333" stroke-width="1.6" />
<circle cx="1423.2" cy="1504.4" r="9" fill="none" stroke="#333" stroke-width="1.3" />
<text x="1423.2" y="1510" font-family='"Liberation Sans",Arial,sans-serif' font-size="16" fill="#333" text-anchor="middle" >1</text>
<line x1="1462.4" y1="1489" x2="1462.4" y2="1493.5" stroke="#333" stroke-width="1.6" />
<circle cx="1462.4" cy="1504.4" r="9" fill="none" stroke="#333" stroke-width="1.3" />
<text x="1462.4" y="1510" font-family='"Liberation Sans",Arial,sans-serif' font-size="16" fill="#333" text-anchor="middle" >2</text>
<line x1="1500.9" y1="1489" x2="1500.9" y2="1493.5" stroke="#333" stroke-width="1.6" />
<circle cx="1500.9" cy="1504.4" r="9" fill="none" stroke="#333" stroke-width="1.3" />
<text x="1500.9" y="1510" font-family='"Liberation Sans",Arial,sans-serif' font-size="16" fill="#333" text-anchor="middle" >3</text>
<line x1="1539.9" y1="1489" x2="1539.9" y2="1493.5" stroke="#333" stroke-width="1.6" />
<circle cx="1539.9" cy="1504.4" r="9" fill="none" stroke="#333" stroke-width="1.3" />
<text x="1539.9" y="1510" font-family='"Liberation Sans",Arial,sans-serif' font-size="16" fill="#333" text-anchor="middle" >4</text>
<line x1="1578.8" y1="1489" x2="1578.8" y2="1493.5" stroke="#333" stroke-width="1.6" />
<circle cx="1578.8" cy="1504.4" r="9" fill="none" stroke="#333" stroke-width="1.3" />
<text x="1578.8" y="1510" font-family='"Liberation Sans",Arial,sans-serif' font-size="16" fill="#333" text-anchor="middle" >5</text>
<line x1="1617.4" y1="1489" x2="1617.4" y2="1493.5" stroke="#333" stroke-width="1.6" />
<circle cx="1617.4" cy="1504.4" r="9" fill="none" stroke="#333" stroke-width="1.3" />
<text x="1617.4" y="1510" font-family='"Liberation Sans",Arial,sans-serif' font-size="16" fill="#333" text-anchor="middle" >6</text>
<line x1="1423.2" y1="1326" x2="1423.2" y2="1341.9" stroke="#e8771a" stroke-width="2.7" />
<line x1="1414.2" y1="1326" x2="1432.2" y2="1326" stroke="#e8771a" stroke-width="3.2" />
<line x1="1414.2" y1="1341.9" x2="1432.2" y2="1341.9" stroke="#e8771a" stroke-width="3.2" />
<rect x="1453.4" y="1376" width="18" height="4" fill="#7a3aad" stroke="none" stroke-width="1" />
<line x1="1500.9" y1="1380.6" x2="1500.9" y2="1429.7" stroke="#a0522d" stroke-width="2.7" />
<line x1="1491.9" y1="1380.6" x2="1509.9" y2="1380.6" stroke="#a0522d" stroke-width="3.2" />
<line x1="1491.9" y1="1429.7" x2="1509.9" y2="1429.7" stroke="#a0522d" stroke-width="3.2" />
<rect x="1530.9" y="1397.7" width="18" height="4" fill="#3f6db3" stroke="none" stroke-width="1" />
<line x1="1578.8" y1="1323" x2="1578.8" y2="1363.5" stroke="#a0522d" stroke-width="2.7" />
<line x1="1569.8" y1="1323" x2="1587.8" y2="1323" stroke="#a0522d" stroke-width="3.2" />
<line x1="1569.8" y1="1363.5" x2="1587.8" y2="1363.5" stroke="#a0522d" stroke-width="3.2" />
<line x1="1617.4" y1="1304.1" x2="1617.4" y2="1358.5" stroke="#3a9b2b" stroke-width="2.7" />
<line x1="1608.4" y1="1304.1" x2="1626.4" y2="1304.1" stroke="#3a9b2b" stroke-width="3.2" />
<line x1="1608.4" y1="1358.5" x2="1626.4" y2="1358.5" stroke="#3a9b2b" stroke-width="3.2" />
<text x="1395" y="1314.7" font-family='"Liberation Sans",Arial,sans-serif' font-size="25" fill="#e8771a" >(201)</text>
<text x="1433.5" y="1365.4" font-family='"Liberation Sans",Arial,sans-serif' font-size="25" fill="#7a3aad" >(113)</text>
<line x1="1444.3" y1="1343.9" x2="1452.7" y2="1343.9" stroke="#7a3aad" stroke-width="2.1" />
<line x1="1458.2" y1="1343.9" x2="1466.6" y2="1343.9" stroke="#7a3aad" stroke-width="2.1" />
<text x="1472.2" y="1463.2" font-family='"Liberation Sans",Arial,sans-serif' font-size="25" fill="#a0522d" >(112)</text>
<line x1="1496.9" y1="1441.7" x2="1505.3" y2="1441.7" stroke="#a0522d" stroke-width="2.1" />
<text x="1511.5" y="1428.7" font-family='"Liberation Sans",Arial,sans-serif' font-size="25" fill="#3f6db3" >(003)</text>
<text x="1549.7" y="1394.9" font-family='"Liberation Sans",Arial,sans-serif' font-size="25" fill="#a0522d" >(012)</text>
<text x="1587.6" y="1294.9" font-family='"Liberation Sans",Arial,sans-serif' font-size="25" fill="#3a9b2b" >(104)</text>
<line x1="1598.4" y1="1273.4" x2="1606.8" y2="1273.4" stroke="#3a9b2b" stroke-width="2.1" />
<line x1="1626.2" y1="1273.4" x2="1634.6" y2="1273.4" stroke="#3a9b2b" stroke-width="2.1" />
<text x="1749.6" y="1480.5" font-family='"Liberation Serif","Times New Roman",serif' font-size="35" fill="#222" text-anchor="middle" >VI</text>
<line x1="1772.5" y1="1489" x2="1772.5" y2="1493.5" stroke="#333" stroke-width="1.6" />
<circle cx="1772.5" cy="1504.4" r="9" fill="none" stroke="#333" stroke-width="1.3" />
<text x="1772.5" y="1510" font-family='"Liberation Sans",Arial,sans-serif' font-size="16" fill="#333" text-anchor="middle" >1</text>
<line x1="1804.9" y1="1489" x2="1804.9" y2="1493.5" stroke="#333" stroke-width="1.6" />
<circle cx="1804.9" cy="1504.4" r="9" fill="none" stroke="#333" stroke-width="1.3" />
<text x="1804.9" y="1510" font-family='"Liberation Sans",Arial,sans-serif' font-size="16" fill="#333" text-anchor="middle" >2</text>
<line x1="1837.8" y1="1489" x2="1837.8" y2="1493.5" stroke="#333" stroke-width="1.6" />
<circle cx="1837.8" cy="1504.4" r="9" fill="none" stroke="#333" stroke-width="1.3" />
<text x="1837.8" y="1510" font-family='"Liberation Sans",Arial,sans-serif' font-size="16" fill="#333" text-anchor="middle" >3</text>
<line x1="1870.6" y1="1489" x2="1870.6" y2="1493.5" stroke="#333" stroke-width="1.6" />
<circle cx="1870.6" cy="1504.4" r="9" fill="none" stroke="#333" stroke-width="1.3" />
<text x="1870.6" y="1510" font-family='"Liberation Sans",Arial,sans-serif' font-size="16" fill="#333" text-anchor="middle" >4</text>
<line x1="1902.9" y1="1489" x2="1902.9" y2="1493.5" stroke="#333" stroke-width="1.6" />
<circle cx="1902.9" cy="1504.4" r="9" fill="none" stroke="#333" stroke-width="1.3" />
<text x="1902.9" y="1510" font-family='"Liberation Sans",Arial,sans-serif' font-size="16" fill="#333" text-anchor="middle" >5</text>
<line x1="1935.6" y1="1489" x2="1935.6" y2="1493.5" stroke="#333" stroke-width="1.6" />
<circle cx="1935.6" cy="1504.4" r="9" fill="none" stroke="#333" stroke-width="1.3" />
<text x="1935.6" y="1510" font-family='"Liberation Sans",Arial,sans-serif' font-size="16" fill="#333" text-anchor="middle" >6</text>
<line x1="1967.6" y1="1489" x2="1967.6" y2="1493.5" stroke="#333" stroke-width="1.6" />
<circle cx="1967.6" cy="1504.4" r="9" fill="none" stroke="#333" stroke-width="1.3" />
<text x="1967.6" y="1510" font-family='"Liberation Sans",Arial,sans-serif' font-size="16" fill="#333" text-anchor="middle" >7</text>
<line x1="1772.5" y1="1307" x2="1772.5" y2="1358.8" stroke="#3f6db3" stroke-width="2.7" />
<line x1="1763.5" y1="1307" x2="1781.5" y2="1307" stroke="#3f6db3" stroke-width="3.2" />
<line x1="1763.5" y1="1358.8" x2="1781.5" y2="1358.8" stroke="#3f6db3" stroke-width="3.2" />
<line x1="1804.9" y1="1353.4" x2="1804.9" y2="1372.5" stroke="#3f6db3" stroke-width="2.7" />
<line x1="1795.9" y1="1353.4" x2="1813.9" y2="1353.4" stroke="#3f6db3" stroke-width="3.2" />
<line x1="1795.9" y1="1372.5" x2="1813.9" y2="1372.5" stroke="#3f6db3" stroke-width="3.2" />
<line x1="1837.8" y1="1390.4" x2="1837.8" y2="1424.3" stroke="#a0522d" stroke-width="2.7" />
<line x1="1828.8" y1="1390.4" x2="1846.8" y2="1390.4" stroke="#a0522d" stroke-width="3.2" />
<line x1="1828.8" y1="1424.3" x2="1846.8" y2="1424.3" stroke="#a0522d" stroke-width="3.2" />
<line x1="1870.6" y1="1362.2" x2="1870.6" y2="1372.5" stroke="#c2186b" stroke-width="2.7" />
<line x1="1861.6" y1="1362.2" x2="1879.6" y2="1362.2" stroke="#c2186b" stroke-width="3.2" />
<line x1="1861.6" y1="1372.5" x2="1879.6" y2="1372.5" stroke="#c2186b" stroke-width="3.2" />
<line x1="1902.9" y1="1400" x2="1902.9" y2="1422.4" stroke="#3a9b2b" stroke-width="2.7" />
<line x1="1893.9" y1="1400" x2="1911.9" y2="1400" stroke="#3a9b2b" stroke-width="3.2" />
<line x1="1893.9" y1="1422.4" x2="1911.9" y2="1422.4" stroke="#3a9b2b" stroke-width="3.2" />
<line x1="1935.6" y1="1396.8" x2="1935.6" y2="1415.9" stroke="#a0522d" stroke-width="2.7" />
<line x1="1926.6" y1="1396.8" x2="1944.6" y2="1396.8" stroke="#a0522d" stroke-width="3.2" />
<line x1="1926.6" y1="1415.9" x2="1944.6" y2="1415.9" stroke="#a0522d" stroke-width="3.2" />
<line x1="1967.6" y1="1425.7" x2="1967.6" y2="1436" stroke="#3a9b2b" stroke-width="2.7" />
<line x1="1958.6" y1="1425.7" x2="1976.6" y2="1425.7" stroke="#3a9b2b" stroke-width="3.2" />
<line x1="1958.6" y1="1436" x2="1976.6" y2="1436" stroke="#3a9b2b" stroke-width="3.2" />
<text x="1744" y="1300.7" font-family='"Liberation Sans",Arial,sans-serif' font-size="25" fill="#3f6db3" >(003)</text>
<text x="1776.5" y="1346.3" font-family='"Liberation Sans",Arial,sans-serif' font-size="25" fill="#3f6db3" >(003)</text>
<text x="1808" y="1452.2" font-family='"Liberation Sans",Arial,sans-serif' font-size="25" fill="#a0522d" >(102)</text>
<text x="1840.4" y="1354.7" font-family='"Liberation Sans",Arial,sans-serif' font-size="25" fill="#c2186b" >(011)</text>
<line x1="1865.1" y1="1333.2" x2="1873.5" y2="1333.2" stroke="#c2186b" stroke-width="2.1" />
<line x1="1879" y1="1333.2" x2="1887.4" y2="1333.2" stroke="#c2186b" stroke-width="2.1" />
<text x="1872" y="1391.2" font-family='"Liberation Sans",Arial,sans-serif' font-size="25" fill="#3a9b2b" >(014)</text>
<line x1="1910.6" y1="1369.7" x2="1919" y2="1369.7" stroke="#3a9b2b" stroke-width="2.1" />
<text x="1901.5" y="1449.3" font-family='"Liberation Sans",Arial,sans-serif' font-size="25" fill="#a0522d" >(102)</text>
<line x1="1912.3" y1="1427.8" x2="1920.7" y2="1427.8" stroke="#a0522d" stroke-width="2.1" />
<text x="1922.8" y="1481.6" font-family='"Liberation Sans",Arial,sans-serif' font-size="25" fill="#3a9b2b" >(014)</text>
<line x1="1947.5" y1="1460.1" x2="1955.9" y2="1460.1" stroke="#3a9b2b" stroke-width="2.1" />
<line x1="1961.4" y1="1460.1" x2="1969.8" y2="1460.1" stroke="#3a9b2b" stroke-width="2.1" />
<text x="818.2" y="1289" font-family='"Liberation Sans",Arial,sans-serif' font-size="30.2" fill="#3f6db3" >Types and area of crystal facets (<tspan font-style="italic">s</tspan>)</text>
<text x="12.5" y="1628.3" font-family='"Liberation Sans",Arial,sans-serif' font-size="42.5" fill="#111" font-weight="bold" >f</text>
<line x1="91.1" y1="1603.6" x2="951.4" y2="1603.6" stroke="#333" stroke-width="2.2" />
<line x1="91.1" y1="2002.6" x2="951.4" y2="2002.6" stroke="#333" stroke-width="2.2" />
<line x1="91.1" y1="1602.6" x2="91.1" y2="2003.6" stroke="#2f7d32" stroke-width="2.6" />
<line x1="951.4" y1="1602.6" x2="951.4" y2="2003.6" stroke="#4b2aa0" stroke-width="2.6" />
<line x1="91.1" y1="1609" x2="96.6" y2="1609" stroke="#2f7d32" stroke-width="2" />
<line x1="91.1" y1="1617" x2="96.6" y2="1617" stroke="#2f7d32" stroke-width="2" />
<line x1="91.1" y1="1626" x2="96.6" y2="1626" stroke="#2f7d32" stroke-width="2" />
<line x1="91.1" y1="1636" x2="96.6" y2="1636" stroke="#2f7d32" stroke-width="2" />
<line x1="91.1" y1="1644" x2="96.6" y2="1644" stroke="#2f7d32" stroke-width="2" />
<line x1="91.1" y1="1653" x2="96.6" y2="1653" stroke="#2f7d32" stroke-width="2" />
<line x1="91.1" y1="1662.6" x2="96.6" y2="1662.6" stroke="#2f7d32" stroke-width="2" />
<line x1="91.1" y1="1693" x2="96.6" y2="1693" stroke="#2f7d32" stroke-width="2" />
<line x1="91.1" y1="1701" x2="96.6" y2="1701" stroke="#2f7d32" stroke-width="2" />
<line x1="91.1" y1="1709" x2="96.6" y2="1709" stroke="#2f7d32" stroke-width="2" />
<line x1="91.1" y1="1718" x2="96.6" y2="1718" stroke="#2f7d32" stroke-width="2" />
<line x1="91.1" y1="1728" x2="96.6" y2="1728" stroke="#2f7d32" stroke-width="2" />
<line x1="91.1" y1="1740" x2="96.6" y2="1740" stroke="#2f7d32" stroke-width="2" />
<line x1="91.1" y1="1753" x2="96.6" y2="1753" stroke="#2f7d32" stroke-width="2" />
<line x1="91.1" y1="1766.5" x2="96.6" y2="1766.5" stroke="#2f7d32" stroke-width="2" />
<line x1="91.1" y1="1776.5" x2="96.6" y2="1776.5" stroke="#2f7d32" stroke-width="2" />
<line x1="91.1" y1="1791.2" x2="96.6" y2="1791.2" stroke="#2f7d32" stroke-width="2" />
<line x1="91.1" y1="1798.8" x2="96.6" y2="1798.8" stroke="#2f7d32" stroke-width="2" />
<line x1="91.1" y1="1807" x2="96.6" y2="1807" stroke="#2f7d32" stroke-width="2" />
<line x1="91.1" y1="1817" x2="96.6" y2="1817" stroke="#2f7d32" stroke-width="2" />
<line x1="91.1" y1="1827" x2="96.6" y2="1827" stroke="#2f7d32" stroke-width="2" />
<line x1="91.1" y1="1838.8" x2="96.6" y2="1838.8" stroke="#2f7d32" stroke-width="2" />
<line x1="91.1" y1="1852.4" x2="96.6" y2="1852.4" stroke="#2f7d32" stroke-width="2" />
<line x1="91.1" y1="1865.9" x2="96.6" y2="1865.9" stroke="#2f7d32" stroke-width="2" />
<line x1="91.1" y1="1895.8" x2="96.6" y2="1895.8" stroke="#2f7d32" stroke-width="2" />
<line x1="91.1" y1="1905.5" x2="96.6" y2="1905.5" stroke="#2f7d32" stroke-width="2" />
<line x1="91.1" y1="1915.2" x2="96.6" y2="1915.2" stroke="#2f7d32" stroke-width="2" />
<line x1="91.1" y1="1925" x2="96.6" y2="1925" stroke="#2f7d32" stroke-width="2" />
<line x1="91.1" y1="1937" x2="96.6" y2="1937" stroke="#2f7d32" stroke-width="2" />
<line x1="91.1" y1="1949.2" x2="96.6" y2="1949.2" stroke="#2f7d32" stroke-width="2" />
<line x1="91.1" y1="1963.8" x2="96.6" y2="1963.8" stroke="#2f7d32" stroke-width="2" />
<line x1="91.1" y1="1993" x2="96.6" y2="1993" stroke="#2f7d32" stroke-width="2" />
<line x1="91.1" y1="1686" x2="101.1" y2="1686" stroke="#2f7d32" stroke-width="2.2" />
<text x="87.3" y="1693.5" font-family='"Liberation Sans",Arial,sans-serif' font-size="21" fill="#2f7d32" text-anchor="end" >1.0</text>
<line x1="91.1" y1="1784.7" x2="101.1" y2="1784.7" stroke="#2f7d32" stroke-width="2.2" />
<text x="87.3" y="1792.2" font-family='"Liberation Sans",Arial,sans-serif' font-size="21" fill="#2f7d32" text-anchor="end" >0.4</text>
<line x1="91.1" y1="1883" x2="101.1" y2="1883" stroke="#2f7d32" stroke-width="2.2" />
<text x="87.3" y="1890.5" font-family='"Liberation Sans",Arial,sans-serif' font-size="21" fill="#2f7d32" text-anchor="end" >0.1</text>
<line x1="91.1" y1="1980.6" x2="101.1" y2="1980.6" stroke="#2f7d32" stroke-width="2.2" />
<text x="87.3" y="1988.1" font-family='"Liberation Sans",Arial,sans-serif' font-size="21" fill="#2f7d32" text-anchor="end" >0.0</text>
<line x1="941.4" y1="1660.9" x2="951.4" y2="1660.9" stroke="#4b2aa0" stroke-width="2.2" />
<text x="954.5" y="1668.4" font-family='"Liberation Sans",Arial,sans-serif' font-size="21" fill="#4b2aa0" >80</text>
<line x1="941.4" y1="1812.7" x2="951.4" y2="1812.7" stroke="#4b2aa0" stroke-width="2.2" />
<text x="954.5" y="1820.2" font-family='"Liberation Sans",Arial,sans-serif' font-size="21" fill="#4b2aa0" >40</text>
<line x1="941.4" y1="1964.3" x2="951.4" y2="1964.3" stroke="#4b2aa0" stroke-width="2.2" />
<text x="954.5" y="1971.8" font-family='"Liberation Sans",Arial,sans-serif' font-size="21" fill="#4b2aa0" >0</text>
<line x1="945.4" y1="1736.7" x2="951.4" y2="1736.7" stroke="#4b2aa0" stroke-width="2" />
<line x1="945.4" y1="1888.5" x2="951.4" y2="1888.5" stroke="#4b2aa0" stroke-width="2" />
<text x="0" y="0" font-family='"Liberation Sans",Arial,sans-serif' font-size="28.7" fill="#2f7d32" text-anchor="middle" transform="translate(50,1805) rotate(-90)"><tspan font-style="italic">j</tspan><tspan font-size="19" dy="6">0(Facet)</tspan><tspan dy="-6">/mA·cm</tspan><tspan font-size="18" dy="-11">-2</tspan></text>
<text x="0" y="0" font-family='"Liberation Sans",Arial,sans-serif' font-size="27.5" fill="#4b2aa0" text-anchor="middle" transform="translate(1006,1797) rotate(-90)">The angle with (003) facet</text>
<text x="343" y="1634.6" font-family='"Liberation Sans",Arial,sans-serif' font-size="26" fill="#333" >Measured <tspan font-style="italic">j</tspan><tspan font-size="19" dy="6">0(Facet)</tspan><tspan dy="-6"> of the six particles</tspan></text>
<line x1="162.8" y1="2002.6" x2="162.8" y2="1993.1" stroke="#333" stroke-width="2" />
<line x1="306" y1="2002.6" x2="306" y2="1993.1" stroke="#333" stroke-width="2" />
<line x1="449.7" y1="2002.6" x2="449.7" y2="1993.1" stroke="#333" stroke-width="2" />
<line x1="592.8" y1="2002.6" x2="592.8" y2="1993.1" stroke="#333" stroke-width="2" />
<line x1="736.7" y1="2002.6" x2="736.7" y2="1993.1" stroke="#333" stroke-width="2" />
<line x1="879.5" y1="2002.6" x2="879.5" y2="1993.1" stroke="#333" stroke-width="2" />
<text x="154.8" y="2025" font-family='"Liberation Sans",Arial,sans-serif' font-size="23.6" fill="#3f6db3" text-anchor="middle" >(003)</text>
<text x="298" y="2025" font-family='"Liberation Sans",Arial,sans-serif' font-size="23.6" fill="#e8731c" text-anchor="middle" >(201)</text>
<text x="441.7" y="2025" font-family='"Liberation Sans",Arial,sans-serif' font-size="23.6" fill="#3a9b2b" text-anchor="middle" >(104)</text>
<text x="584.8" y="2025" font-family='"Liberation Sans",Arial,sans-serif' font-size="23.6" fill="#7a3aad" text-anchor="middle" >(113)</text>
<text x="728.7" y="2025" font-family='"Liberation Sans",Arial,sans-serif' font-size="23.6" fill="#a0522d" text-anchor="middle" >(102)</text>
<text x="871.5" y="2025" font-family='"Liberation Sans",Arial,sans-serif' font-size="23.6" fill="#c2185b" text-anchor="middle" >(101)</text>
<text x="490.6" y="2052.4" font-family='"Liberation Sans",Arial,sans-serif' font-size="27.7" fill="#333" >Facet</text>
<path d="M228.3,1818 L228.3,1784.8 L143,1784.8" fill="none" stroke="#2f7d32" stroke-width="2.5" />
<line x1="143" y1="1784.8" x2="154.1" y2="1791.6" stroke="#2f7d32" stroke-width="2.5" stroke-linecap="round"/>
<line x1="143" y1="1784.8" x2="154.1" y2="1778" stroke="#2f7d32" stroke-width="2.5" stroke-linecap="round"/>
<path d="M801.5,1683.2 L801.5,1720.4 L906,1720.4" fill="none" stroke="#7b3fb5" stroke-width="2.5" />
<line x1="906" y1="1720.4" x2="894.9" y2="1713.6" stroke="#7b3fb5" stroke-width="2.5" stroke-linecap="round"/>
<line x1="906" y1="1720.4" x2="894.9" y2="1727.2" stroke="#7b3fb5" stroke-width="2.5" stroke-linecap="round"/>
<polyline points="162.8,1960.7 306.2,1643 449,1755.8 592.4,1735.9 735.3,1698 879.7,1661.3" fill="none" stroke="#4a23a0" stroke-width="4.6" stroke-dasharray="13 7"/>
<polyline points="162.8,1966 306.2,1650.8 449,1808.4 592.4,1758.5 735.3,1690.2 879.7,1671.8" fill="none" stroke="#2f8a36" stroke-width="4.6" stroke-dasharray="13 7" stroke-dashoffset="5"/>
<rect x="153.3" y="1950.5" width="19" height="19" fill="#4a72b8" stroke="none" stroke-width="1" rx="3"/>
<rect x="153.3" y="1956.5" width="19" height="19" fill="#4a72b8" stroke="none" stroke-width="1" rx="3"/>
<rect x="156.8" y="1966.9" width="12" height="3.4" fill="#fff" stroke="none" stroke-width="1" />
<rect x="156.8" y="1961.6" width="12" height="3" fill="#fff" stroke="none" stroke-width="1" />
<line x1="162.8" y1="1938.3" x2="162.8" y2="1984.4" stroke="#333" stroke-width="3.6" />
<line x1="155.8" y1="1938.3" x2="169.8" y2="1938.3" stroke="#333" stroke-width="4.0" />
<line x1="155.8" y1="1984.4" x2="169.8" y2="1984.4" stroke="#333" stroke-width="4.0" />
<rect x="296.5" y="1631.5" width="19" height="19" fill="#e8731c" stroke="none" stroke-width="1" rx="3"/>
<rect x="296.5" y="1637.5" width="19" height="19" fill="#e8731c" stroke="none" stroke-width="1" rx="3"/>
<rect x="300" y="1647.5" width="12" height="3.4" fill="#fff" stroke="none" stroke-width="1" />
<line x1="306" y1="1631.5" x2="306" y2="1663.8" stroke="#333" stroke-width="3.6" />
<line x1="299" y1="1631.5" x2="313" y2="1631.5" stroke="#333" stroke-width="4.0" />
<line x1="299" y1="1663.8" x2="313" y2="1663.8" stroke="#333" stroke-width="4.0" />
<rect x="440.2" y="1746.5" width="19" height="19" fill="#4caf3a" stroke="none" stroke-width="1" rx="3"/>
<rect x="443.7" y="1758.3" width="12" height="3.4" fill="#fff" stroke="none" stroke-width="1" />
<rect x="440.2" y="1800.5" width="19" height="19" fill="#4caf3a" stroke="none" stroke-width="1" rx="3"/>
<rect x="443.7" y="1810.3" width="12" height="3.4" fill="#fff" stroke="none" stroke-width="1" />
<line x1="449.7" y1="1795" x2="449.7" y2="1827.8" stroke="#333" stroke-width="3.6" />
<line x1="442.7" y1="1795" x2="456.7" y2="1795" stroke="#333" stroke-width="4.0" />
<line x1="442.7" y1="1827.8" x2="456.7" y2="1827.8" stroke="#333" stroke-width="4.0" />
<rect x="583.3" y="1727" width="19" height="19" fill="#7b3fb5" stroke="none" stroke-width="1" rx="3"/>
<rect x="586.8" y="1738.3" width="12" height="3.4" fill="#fff" stroke="none" stroke-width="1" />
<rect x="583.3" y="1749" width="19" height="19" fill="#7b3fb5" stroke="none" stroke-width="1" rx="3"/>
<rect x="586.8" y="1758.8" width="12" height="3.4" fill="#fff" stroke="none" stroke-width="1" />
<rect x="585.8" y="1750" width="14" height="4" fill="#333" stroke="none" stroke-width="1" />
<rect x="585.8" y="1764" width="14" height="4" fill="#333" stroke="none" stroke-width="1" />
<rect x="727.2" y="1680.5" width="19" height="19" fill="#b5562a" stroke="none" stroke-width="1" rx="3"/>
<rect x="727.2" y="1690.5" width="19" height="19" fill="#b5562a" stroke="none" stroke-width="1" rx="3"/>
<rect x="730.7" y="1694.3" width="12" height="3.4" fill="#fff" stroke="none" stroke-width="1" />
<rect x="730.7" y="1701" width="12" height="3" fill="#fff" stroke="none" stroke-width="1" />
<line x1="736.7" y1="1671" x2="736.7" y2="1716" stroke="#333" stroke-width="3.6" />
<line x1="729.7" y1="1671" x2="743.7" y2="1671" stroke="#333" stroke-width="4.0" />
<line x1="729.7" y1="1716" x2="743.7" y2="1716" stroke="#333" stroke-width="4.0" />
<rect x="870" y="1652.5" width="19" height="19" fill="#c2185b" stroke="none" stroke-width="1" rx="3"/>
<rect x="870" y="1661.5" width="19" height="19" fill="#c2185b" stroke="none" stroke-width="1" rx="3"/>
<rect x="873.5" y="1669.3" width="12" height="3.4" fill="#fff" stroke="none" stroke-width="1" />
<rect x="872.5" y="1662" width="14" height="4" fill="#333" stroke="none" stroke-width="1" />
<rect x="872.5" y="1675" width="14" height="4" fill="#333" stroke="none" stroke-width="1" />
<text x="512.5" y="1913" font-family='"Liberation Serif","Times New Roman",serif' font-size="44" fill="#111" ><tspan font-style="italic">i</tspan></text>
<text x="523.5" y="1922" font-family='"Liberation Serif","Times New Roman",serif' font-size="24.9" fill="#111" >0(Particle)</text>
<text x="642" y="1915" font-family='"Liberation Serif","Times New Roman",serif' font-size="42" fill="#111" >=</text>
<text x="676.5" y="1928" font-family='"Liberation Serif","Times New Roman",serif' font-size="80" fill="#111" >Σ</text>
<text x="697" y="1869" font-family='"Liberation Serif","Times New Roman",serif' font-size="24" fill="#111" text-anchor="middle" >n</text>
<text x="697" y="1951.6" font-family='"Liberation Serif","Times New Roman",serif' font-size="24" fill="#111" text-anchor="middle" >i=1</text>
<text x="725" y="1911.5" font-family='"Liberation Serif","Times New Roman",serif' font-size="44" fill="#111" ><tspan font-style="italic">s</tspan></text>
<text x="744.5" y="1892" font-family='"Liberation Serif","Times New Roman",serif' font-size="24" fill="#111" >i</text>
<text x="742" y="1922" font-family='"Liberation Serif","Times New Roman",serif' font-size="25" fill="#111" >(Facet)</text>
<text x="817.5" y="1911.5" font-family='"Liberation Serif","Times New Roman",serif' font-size="48" fill="#111" ><tspan font-style="italic">j</tspan></text>
<text x="838" y="1892" font-family='"Liberation Serif","Times New Roman",serif' font-size="24" fill="#111" >i</text>
<text x="836.7" y="1922" font-family='"Liberation Serif","Times New Roman",serif' font-size="25" fill="#111" >0</text>
<text x="860.4" y="1922" font-family='"Liberation Serif","Times New Roman",serif' font-size="24.4" fill="#111" >Facet</text>
<text x="1060" y="1620.6" font-family='"Liberation Sans",Arial,sans-serif' font-size="41.6" fill="#111" font-weight="bold" >g</text>
<rect x="1148.6" y="1603.5" width="834.4" height="391.1" fill="none" stroke="#333" stroke-width="2.4" />
<line x1="1148.6" y1="1965.3" x2="1153.6" y2="1965.3" stroke="#333" stroke-width="2" />
<line x1="1148.6" y1="1905" x2="1157.6" y2="1905" stroke="#333" stroke-width="2.2" />
<text x="1144.6" y="1913" font-family='"Liberation Sans",Arial,sans-serif' font-size="23.5" fill="#333" text-anchor="end" >20</text>
<line x1="1148.6" y1="1844.7" x2="1153.6" y2="1844.7" stroke="#333" stroke-width="2" />
<line x1="1148.6" y1="1784.4" x2="1157.6" y2="1784.4" stroke="#333" stroke-width="2.2" />
<text x="1144.6" y="1792.4" font-family='"Liberation Sans",Arial,sans-serif' font-size="23.5" fill="#333" text-anchor="end" >40</text>
<line x1="1148.6" y1="1724.1" x2="1153.6" y2="1724.1" stroke="#333" stroke-width="2" />
<line x1="1148.6" y1="1663.8" x2="1157.6" y2="1663.8" stroke="#333" stroke-width="2.2" />
<text x="1144.6" y="1671.8" font-family='"Liberation Sans",Arial,sans-serif' font-size="23.5" fill="#333" text-anchor="end" >60</text>
<text x="0" y="0" font-family='"Liberation Sans",Arial,sans-serif' font-size="27" fill="#333" text-anchor="middle" transform="translate(1105,1799) rotate(-90)"><tspan font-style="italic">R</tspan><tspan font-size="19" dy="6">CT</tspan><tspan dy="-6">/MΩ</tspan></text>
<line x1="1287.2" y1="1994.6" x2="1287.2" y2="1984.6" stroke="#333" stroke-width="2.2" />
<line x1="1565.6" y1="1994.6" x2="1565.6" y2="1984.6" stroke="#333" stroke-width="2.2" />
<line x1="1843.5" y1="1994.6" x2="1843.5" y2="1984.6" stroke="#333" stroke-width="2.2" />
<text x="1202.4" y="2019" font-family='"Liberation Sans",Arial,sans-serif' font-size="26.6" fill="#333" >Particle-<tspan font-family="Liberation Serif,Times New Roman,serif">VII</tspan></text>
<text x="1476.8" y="2019" font-family='"Liberation Sans",Arial,sans-serif' font-size="26.6" fill="#333" >Particle-<tspan font-family="Liberation Serif,Times New Roman,serif">VIII</tspan></text>
<text x="1764.2" y="2019" font-family='"Liberation Sans",Arial,sans-serif' font-size="26.6" fill="#333" >Particle-<tspan font-family="Liberation Serif,Times New Roman,serif">IX</tspan></text>
<text x="1353" y="1637.7" font-family='"Liberation Sans",Arial,sans-serif' font-size="26.75" fill="#333" >Validation of three additional particles</text>
<defs>
<radialGradient id="og1" cx="0.5" cy="0.55" r="0.6"><stop offset="0" stop-color="#cc3f0a"/><stop offset="0.6" stop-color="#d64a0c"/><stop offset="1" stop-color="#c43a08"/></radialGradient>
<radialGradient id="og2" cx="0.45" cy="0.5" r="0.6"><stop offset="0" stop-color="#f07a12"/><stop offset="0.7" stop-color="#f48a18"/><stop offset="1" stop-color="#f9a82a"/></radialGradient>
<radialGradient id="og3" cx="0.5" cy="0.6" r="0.65"><stop offset="0" stop-color="#e85a10"/><stop offset="0.7" stop-color="#f06a12"/><stop offset="1" stop-color="#d84a0a"/></radialGradient>
<linearGradient id="oy" x1="0" y1="0" x2="1" y2="1"><stop offset="0" stop-color="#f8b42a"/><stop offset="0.5" stop-color="#fbbf34"/><stop offset="1" stop-color="#f4a020"/></linearGradient>
<filter id="ob2"><feGaussianBlur stdDeviation="2"/></filter>
</defs>
<clipPath id="cVII"><path d="M1283,1668.4C1294.5,1667.7 1325.3,1667.1 1337.6,1669.4C1349.9,1671.7 1351.7,1676.4 1356.6,1682C1361.5,1687.6 1364.5,1695.3 1367,1703C1369.5,1710.7 1369.7,1718.4 1371.3,1728.2C1372.9,1738 1377.2,1753.7 1376.5,1761.8C1375.8,1769.9 1373.5,1771.7 1367,1776.6C1360.5,1781.5 1348.1,1788.5 1337.6,1791.3C1327.1,1794.1 1314.8,1794.5 1304,1793.4C1293.2,1792.4 1280.2,1789.6 1272.5,1785C1264.8,1780.4 1261.6,1773.4 1257.8,1766C1254,1758.6 1251.5,1750.2 1249.4,1740.8C1247.3,1731.3 1244.2,1719.1 1245.2,1709.3C1246.2,1699.5 1251.9,1688 1255.7,1682C1259.5,1676 1263.8,1675.9 1268.3,1673.6C1272.8,1671.3 1271.5,1669.1 1283,1668.4Z"/></clipPath>
<path d="M1283,1668.4C1294.5,1667.7 1325.3,1667.1 1337.6,1669.4C1349.9,1671.7 1351.7,1676.4 1356.6,1682C1361.5,1687.6 1364.5,1695.3 1367,1703C1369.5,1710.7 1369.7,1718.4 1371.3,1728.2C1372.9,1738 1377.2,1753.7 1376.5,1761.8C1375.8,1769.9 1373.5,1771.7 1367,1776.6C1360.5,1781.5 1348.1,1788.5 1337.6,1791.3C1327.1,1794.1 1314.8,1794.5 1304,1793.4C1293.2,1792.4 1280.2,1789.6 1272.5,1785C1264.8,1780.4 1261.6,1773.4 1257.8,1766C1254,1758.6 1251.5,1750.2 1249.4,1740.8C1247.3,1731.3 1244.2,1719.1 1245.2,1709.3C1246.2,1699.5 1251.9,1688 1255.7,1682C1259.5,1676 1263.8,1675.9 1268.3,1673.6C1272.8,1671.3 1271.5,1669.1 1283,1668.4Z" fill="url(#oy)" stroke="none" stroke-width="1" />
<g clip-path="url(#cVII)">
<path d="M1283,1668.5 L1337.6,1670 L1356.6,1682 L1338,1687Z" fill="#ffd03e" stroke="none" stroke-width="1" filter="url(#ob2)"/>
<path d="M1282.9,1671.1 L1337.5,1686.9 L1341.2,1716 L1363,1762.2 L1329,1788.9 L1282.9,1791.3 L1258.6,1769.5 L1251.3,1747.6 L1273.2,1696.6Z" fill="url(#og1)" stroke="none" stroke-width="1" filter="url(#b1)"/>
<path d="M1329,1789 L1363,1762 L1374,1764 L1352,1786 L1335,1793Z" fill="#f2a030" stroke="none" stroke-width="1" filter="url(#b1)"/>
</g>
<text x="1310" y="1736.6" font-family='"Liberation Serif","Times New Roman",serif' font-size="28" fill="#111" text-anchor="middle" >VII</text>
<clipPath id="cVIII"><path d="M1520.4,1664.2C1528.5,1665.2 1539.7,1671 1547.7,1675.7C1555.8,1680.4 1563.8,1686.9 1568.7,1692.5C1573.6,1698.1 1576.4,1702.3 1577.1,1709.3C1577.8,1716.3 1576.5,1728.5 1573,1734.5C1569.5,1740.5 1560.2,1740.5 1556,1745C1551.8,1749.5 1552.9,1756.9 1547.7,1761.8C1542.5,1766.7 1534.4,1769.2 1524.6,1774.5C1514.8,1779.8 1497.7,1791.3 1488.9,1793.4C1480.1,1795.5 1476.9,1790.8 1472,1787C1467.1,1783.2 1461.9,1778 1459.5,1770.3C1457.1,1762.6 1457.4,1752 1457.4,1740.8C1457.4,1729.6 1456.3,1712.1 1459.5,1703C1462.7,1693.9 1469.6,1691.8 1476.3,1686.2C1483,1680.6 1492.1,1673.1 1499.4,1669.4C1506.8,1665.7 1512.4,1663.2 1520.4,1664.2Z"/></clipPath>
<path d="M1520.4,1664.2C1528.5,1665.2 1539.7,1671 1547.7,1675.7C1555.8,1680.4 1563.8,1686.9 1568.7,1692.5C1573.6,1698.1 1576.4,1702.3 1577.1,1709.3C1577.8,1716.3 1576.5,1728.5 1573,1734.5C1569.5,1740.5 1560.2,1740.5 1556,1745C1551.8,1749.5 1552.9,1756.9 1547.7,1761.8C1542.5,1766.7 1534.4,1769.2 1524.6,1774.5C1514.8,1779.8 1497.7,1791.3 1488.9,1793.4C1480.1,1795.5 1476.9,1790.8 1472,1787C1467.1,1783.2 1461.9,1778 1459.5,1770.3C1457.1,1762.6 1457.4,1752 1457.4,1740.8C1457.4,1729.6 1456.3,1712.1 1459.5,1703C1462.7,1693.9 1469.6,1691.8 1476.3,1686.2C1483,1680.6 1492.1,1673.1 1499.4,1669.4C1506.8,1665.7 1512.4,1663.2 1520.4,1664.2Z" fill="#f49a28" stroke="none" stroke-width="1" />
<g clip-path="url(#cVIII)">
<path d="M1462,1705 L1478,1686 L1500,1670 L1520,1664 L1505,1685 L1490,1695 L1484,1720 L1480,1750 L1466,1760Z" fill="#f8ad38" stroke="none" stroke-width="1" filter="url(#ob2)"/>
<path d="M1520,1664 L1548,1676 L1569,1692 L1577,1709 L1565,1712 L1545,1695 L1520,1686 L1505,1684Z" fill="#fcb93a" stroke="none" stroke-width="1" filter="url(#ob2)"/>
<path d="M1492,1694 L1520,1684 L1548,1694 L1566,1714 L1563,1738 L1545,1750 L1515,1756 L1492,1745 L1486,1718Z" fill="#ef7614" stroke="none" stroke-width="1" filter="url(#ob2)"/>
<path d="M1464,1766 L1490,1792 L1525,1775 L1548,1762 L1557,1746 L1520,1757 L1490,1755 L1472,1752Z" fill="#d6620f" stroke="none" stroke-width="1" filter="url(#ob2)"/>
</g>
<text x="1520.4" y="1732.4" font-family='"Liberation Serif","Times New Roman",serif' font-size="28" fill="#111" text-anchor="middle" >VIII</text>
<path d="M1686.2,1663.6C1694.7,1664.2 1716.5,1667.2 1725.9,1670.2C1735.4,1673.2 1738.5,1675.6 1742.9,1681.6C1747.3,1687.6 1751.1,1699 1752.4,1706.2C1753.7,1713.4 1751.8,1717.1 1750.5,1725C1749.2,1732.9 1747.6,1746.1 1744.8,1753.4C1742,1760.7 1740,1764.2 1733.4,1768.6C1726.8,1773 1716.1,1776.4 1705.1,1779.9C1694.1,1783.4 1675.8,1788.8 1667.3,1789.4C1658.8,1790 1657.8,1789.7 1654,1783.7C1650.2,1777.7 1646.5,1763.2 1644.6,1753.4C1642.7,1743.6 1641.5,1733.5 1642.7,1725C1644,1716.5 1648.6,1710.3 1652.1,1702.4C1655.6,1694.5 1659.7,1683.8 1663.5,1677.8C1667.3,1671.8 1671,1668.9 1674.8,1666.5C1678.6,1664.1 1677.7,1663 1686.2,1663.6Z" fill="url(#og3)" stroke="#8a2a00" stroke-width="1.2" />
<ellipse cx="1700" cy="1674" rx="20" ry="6" fill="#ffc21e" filter="url(#ob2)" opacity="0.9"/>
<ellipse cx="1652" cy="1730" rx="5" ry="22" fill="#f7a020" filter="url(#ob2)" opacity="0.8"/>
<text x="1700.4" y="1732.6" font-family='"Liberation Serif","Times New Roman",serif' font-size="27" fill="#111" text-anchor="middle" >IX</text>
<line x1="1843.7" y1="1653.6" x2="1843.7" y2="1730.4" stroke="#777" stroke-width="3.6" />
<line x1="1837" y1="1653.6" x2="1850.4" y2="1653.6" stroke="#777" stroke-width="4" />
<line x1="1837" y1="1730.4" x2="1850.4" y2="1730.4" stroke="#777" stroke-width="4" />
<rect x="1834.7" y="1683.5" width="18" height="17.5" fill="#f9bf99" stroke="none" stroke-width="1" rx="2"/>
<rect x="1834.7" y="1687.3" width="18" height="17.9" fill="#a8e6a0" stroke="none" stroke-width="1" rx="2"/>
<rect x="1838.4" y="1699" width="10.4" height="3" fill="#fff" stroke="none" stroke-width="1" />
<line x1="1843.7" y1="1653.6" x2="1843.7" y2="1686" stroke="#777" stroke-width="3.6" />
<rect x="1278.2" y="1951.3" width="18" height="17.7" fill="#f9bf99" stroke="none" stroke-width="1" rx="2"/>
<rect x="1281" y="1956" width="12.4" height="7" fill="#6e6e6e" stroke="none" stroke-width="1" />
<line x1="1287.2" y1="1951.3" x2="1287.2" y2="1958" stroke="#6e6e6e" stroke-width="3" />
<rect x="1278.2" y="1963" width="18" height="17.7" fill="#a8e6a0" stroke="none" stroke-width="1" rx="2"/>
<rect x="1282" y="1974.2" width="10.4" height="3" fill="#fff" stroke="none" stroke-width="1" />
<rect x="1556.6" y="1944.7" width="18" height="17.3" fill="#f9bf99" stroke="none" stroke-width="1" rx="2"/>
<line x1="1565.6" y1="1944.7" x2="1565.6" y2="1950" stroke="#6e6e6e" stroke-width="3" />
<rect x="1559.6" y="1946.5" width="12" height="3" fill="#6e6e6e" stroke="none" stroke-width="1" />
<rect x="1556.6" y="1949.2" width="18" height="18.4" fill="#a8e6a0" stroke="none" stroke-width="1" rx="2"/>
<rect x="1560.4" y="1960.8" width="10.4" height="3" fill="#fff" stroke="none" stroke-width="1" />
<text x="1237" y="1941.3" font-family='"Liberation Sans",Arial,sans-serif' font-size="24.3" fill="#333" >Δ=19.7%</text>
<text x="1522.8" y="1931.6" font-family='"Liberation Sans",Arial,sans-serif' font-size="24.3" fill="#333" >Δ=5.4%</text>
<text x="1800.6" y="1758.2" font-family='"Liberation Sans",Arial,sans-serif' font-size="24.3" fill="#333" >Δ=1.2%</text>
<rect x="1748.4" y="1910" width="18" height="17.5" fill="#f9bf99" stroke="none" stroke-width="1" rx="2"/>
<rect x="1752.2" y="1919.5" width="10.4" height="3" fill="#fff" stroke="none" stroke-width="1" />
<rect x="1748.4" y="1945.7" width="18" height="17.5" fill="#a8e6a0" stroke="none" stroke-width="1" rx="2"/>
<rect x="1752.2" y="1955" width="10.4" height="3" fill="#fff" stroke="none" stroke-width="1" />
<text x="1795.7" y="1929" font-family='"Liberation Sans",Arial,sans-serif' font-size="26.7" fill="#333" >Calculated <tspan font-style="italic">R</tspan><tspan font-size="19" dy="6">CT</tspan></text>
<text x="1795.7" y="1964.9" font-family='"Liberation Sans",Arial,sans-serif' font-size="26.7" fill="#333" >Measured <tspan font-style="italic">R</tspan><tspan font-size="19" dy="6">CT</tspan></text>
</svg></body></html>
